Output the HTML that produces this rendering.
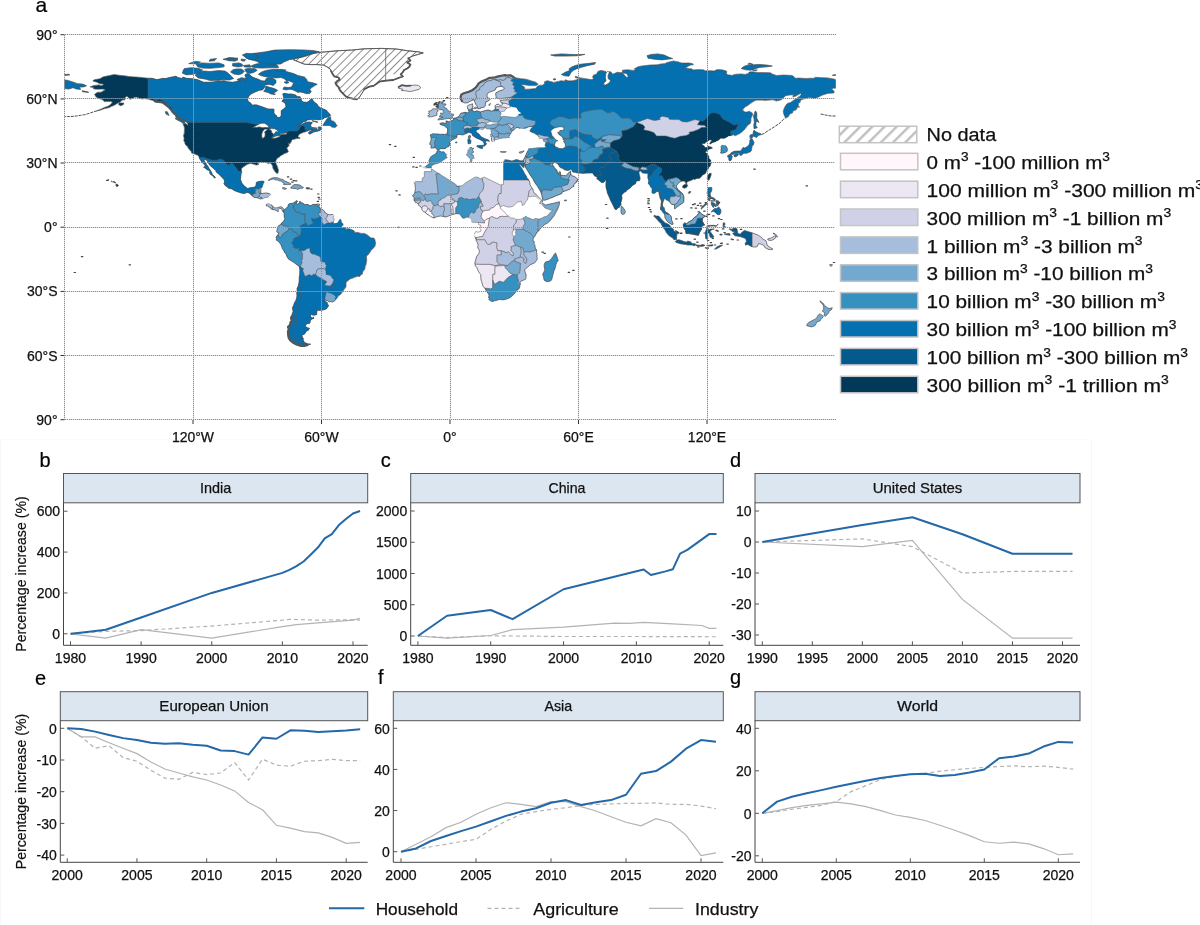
<!DOCTYPE html>
<html><head><meta charset="utf-8"><style>
html,body{margin:0;padding:0;background:#fff;}
svg{display:block;font-family:"Liberation Sans",sans-serif;will-change:transform;}
text{stroke-linejoin:round;}
.tl{font-size:14px;fill:#111;stroke:#111;stroke-width:0.25px;}
.st{font-size:15px;fill:#111;stroke:#111;stroke-width:0.25px;}
.yl{font-size:14.5px;fill:#111;stroke:#111;stroke-width:0.2px;}
.pl{font-size:20px;fill:#000;stroke:#000;stroke-width:0.2px;}
.pla{font-size:21px;fill:#000;stroke:#000;stroke-width:0.2px;}
.lg{font-size:17px;fill:#111;stroke:#111;stroke-width:0.25px;}
.lgm{font-size:18px;fill:#111;stroke:#111;stroke-width:0.25px;}
.sup{font-size:12px;}
</style></head><body>
<svg width="1200" height="925" viewBox="0 0 1200 925">
<path d="M0.5 440V925M1091.5 440V925" stroke="#f6f7fa" stroke-width="1" fill="none"/><path d="M0 439.5H1091" stroke="#fbfbfc" stroke-width="1" fill="none"/>
<path d="M60.5 34.7H64.5M60.5 98.9H64.5M60.5 163H64.5M60.5 227.2H64.5M60.5 291.4H64.5M60.5 355.5H64.5M60.5 419.7H64.5M193 420V424M321.5 420V424M450 420V424M578.5 420V424M707 420V424" stroke="#333" stroke-width="1"/>
<text x="57.5" y="39.7" class="tl" text-anchor="end">90°</text>
<text x="57.5" y="103.9" class="tl" text-anchor="end">60°N</text>
<text x="57.5" y="168" class="tl" text-anchor="end">30°N</text>
<text x="57.5" y="232.2" class="tl" text-anchor="end">0°</text>
<text x="57.5" y="296.4" class="tl" text-anchor="end">30°S</text>
<text x="57.5" y="360.5" class="tl" text-anchor="end">60°S</text>
<text x="57.5" y="424.7" class="tl" text-anchor="end">90°</text>
<text x="193" y="442" class="tl" text-anchor="middle">120°W</text>
<text x="321.5" y="442" class="tl" text-anchor="middle">60°W</text>
<text x="450" y="442" class="tl" text-anchor="middle">0°</text>
<text x="578.5" y="442" class="tl" text-anchor="middle">60°E</text>
<text x="707" y="442" class="tl" text-anchor="middle">120°E</text>
<text x="35.5" y="12" class="pla">a</text>
<defs><pattern id="hatch" patternUnits="userSpaceOnUse" width="5.6" height="5.6" patternTransform="rotate(45)"><rect width="5.6" height="5.6" fill="#fff"/><line x1="0.5" y1="0" x2="0.5" y2="5.6" stroke="#707070" stroke-width="0.8"/></pattern></defs>
<clipPath id="cNA"><path d="M90,86.9 94,85.4 98.8,85 102,85.8 103.5,84.1 99.4,83.7 97.5,82.4 92.8,81 94,79.8 99.8,78.8 103.3,76.8 109.5,75.5 114.2,74.5 119.1,75.3 124.5,75.8 128.7,76.4 132.4,76.8 139.5,77.3 148,78.2 152.3,78.3 156.6,79.6 159.8,79 163,78.3 165.2,78.6 170.5,77.3 175.9,76.2 178,77.5 182.3,78.5 182.9,77 186.6,78.3 190.9,78.5 197.3,79.6 203.7,82.2 210.1,82.2 214.4,81.7 218.7,80.7 220.8,81.1 224.1,80.7 227.3,81.7 232.6,82.2 239,81.1 243.3,81.7 245.5,80 246.1,78.1 244.8,74.9 247.6,73.2 250.2,74.9 251.9,76.8 254,77.7 258.3,79.2 261.5,80.7 264.7,81.1 266.9,77.9 271.2,78.1 274.4,79 275.9,80.5 275.9,82.8 273.3,85.4 269,84.3 264.7,85 264.7,87.1 262.6,89.9 259.4,90.3 255.7,91.8 251.9,93.5 249.8,95 248.7,96.5 247.6,99.3 248.3,101.4 250.8,103.1 251.9,105.1 256.2,104.8 261.5,106.6 268,108.9 274,109.1 274,112.8 274.4,114 276.5,115.5 277.4,117.5 280.2,117.3 281.2,115.3 281.2,110.6 284.4,108.5 285.9,106.6 285.5,104.4 284.4,102.5 281.9,101.4 283.6,98.9 283.6,97.1 282.7,93.9 284,93.3 288.3,93.9 291.5,93.9 295.8,95 296.9,96.5 300.1,96.7 301.2,98.9 301.6,101 303.7,102.1 306.5,102.3 308.6,101.4 310.8,99.3 311.9,98.2 312.9,100.6 315.1,102.7 317.2,104.2 318.3,106.3 320.4,107.8 323.6,109.1 326.9,110.6 327.3,111.7 329.6,113.8 330.7,115.5 327.9,117 324.7,117.7 322.6,119.2 318.3,119.8 314,119.6 310.8,119.6 307.6,120 305.4,121.5 303.3,122 301.2,124.1 299,126 297.5,127.1 299.7,125.8 301.8,124.5 303.9,123.2 306.5,122.2 309.7,122 312.3,122.6 311.6,124.1 310.1,124.7 311.2,126.2 311.4,127.7 312.9,128.4 315.1,129.2 317.4,129.4 319.4,130.1 321.5,128.8 321.9,129 319.4,130.7 316.1,131.6 313.8,132 311.9,133.1 309.7,134.2 308.2,132.9 309.7,131.4 311.9,130.3 312.9,130.1 310.8,129.7 308.6,130.5 306.5,131.4 303.3,132.4 301.2,133.3 299.7,133.9 298.6,135.2 298.4,136.1 297.9,136.7 299,137.6 300.1,137.8 300.1,138.2 298.8,138.4 296.9,138.6 294.7,139.1 292.4,139.7 291.5,140.4 291.3,142.1 290.2,143.1 289.6,144 288.3,142.7 289.2,145.3 288.1,146.8 287.4,147.6 286.6,148.1 287.4,149.1 287.9,150.6 288.3,151.9 286.2,153 284,153.6 283.2,154.7 281.7,154.9 280.4,156.2 278.7,157.5 277.2,158.3 275.9,160.5 275.7,162.6 276.5,164.7 277.4,166.5 278,168.8 278.4,169.9 278.2,172.4 277.8,173.3 276.7,173.5 275.9,172.2 275,171.8 274.2,170.3 273.1,168.6 272.7,167.3 272.7,166 271.6,164.5 270.7,163.2 269.5,163 268.4,163.7 266.9,162.8 264.7,162.2 262.6,162.4 261.5,161.7 260.5,162.2 258.3,162.4 258.1,163 258.7,164.7 257.9,164.5 256.8,165 256.2,165 254.5,164.5 253,163.9 250.8,163.5 249.1,163.7 247,164.5 245.5,165.6 243.3,166.9 241.6,168.6 241.4,170.3 241.8,171.8 241.2,173.7 240.8,175.9 240.5,179.5 241.2,181.2 241.8,183.1 243.3,184.8 244.2,186.1 246.1,187.2 247.6,188.5 249.8,187.8 251.9,187.4 254.5,187.2 255.7,185.9 256,184.8 256.4,182.3 258.3,181.6 260.5,181.2 262.6,181.2 263.7,181.2 264.1,182.1 263.2,183.6 262.6,185.5 262,187.4 261.1,187.6 260.9,189.8 260.9,192.5 260.2,193.4 262.6,193.4 265.8,193 268,193.2 270.1,194 271.8,195.1 271.4,197.3 271.2,198.3 271,200.5 270.7,202.6 271.2,204.1 272.2,205.8 273.3,206.7 274.8,207.9 275.5,207.9 277.6,207.7 278.7,207.3 280.8,206.7 281.9,207.1 283.4,208.6 284.4,209.7 283.2,211.8 282.5,211.2 282.1,209.9 281.4,208.8 279.7,208.2 278.4,209.4 277.8,210.1 278.7,211.2 277.6,211.6 276.5,210.7 275,209.9 273.3,209.7 272.2,209.4 270.7,208.8 271,207.9 268.6,206.7 267.5,206 266.5,206 266.2,204.5 266.2,203.7 264.7,202 263.7,200.5 262.4,199.4 262,198.8 260.5,199 258.3,198.3 256.2,197.5 254,197.3 252.5,196.2 250.8,194.5 249.1,193 247.6,192.5 246.5,192.5 245.5,193.2 243.3,193.6 241.2,193 239,192.3 236,191.3 233.7,190.2 232,188.9 229.8,188.5 228.3,188.1 226.6,186.6 225.1,185.5 223.8,183.6 224.5,182.3 224.5,180.6 223.6,179.1 222.1,177.6 220.8,176.1 219.1,174.6 217.6,173.1 216.1,172 215.7,170.3 214.4,169.4 213.3,168.2 212.3,167.5 210.6,166 209.7,165.2 208.6,163.5 208,162 206.7,160.2 204.1,159.2 204.3,160.9 204.8,162 205.8,163 206.9,165.2 208,166.2 209.1,168.4 210.1,169.9 211.2,171.6 211.8,173.3 212.7,174.8 213.8,175.7 215.5,177.6 214.6,178.2 213.6,176.9 212.3,175.4 210.6,174.6 209.7,173.1 209.9,171.6 208.4,170.3 207.3,169.9 205.4,168.4 204.8,167.7 203.5,167.3 205.2,166 204.6,164.7 203.1,163.5 202,162.4 201.1,160.9 200.1,159.6 199.2,157.7 198.8,156.2 197.7,155.3 196.4,154.9 196.2,154.5 194.7,154 193.4,153.6 191.7,153.2 191.5,151.9 190.2,150.6 188.9,148.9 187.9,147.6 187.6,146.3 186.6,145.9 185.1,144 184.9,142.7 183.8,140.8 184.2,138.4 183.6,136.3 183.4,135.7 184.2,133.7 184.4,130.9 184.4,128.4 184.2,126.7 182.9,123.7 184.9,124.1 186.6,124.1 187.6,125.6 187.9,123.9 187,122.4 185.5,121.3 184.4,120.7 182.7,119.6 181.2,119.2 179.1,118.1 176.5,117 176.1,115.3 174.8,114.3 172.6,112.1 171.2,110 170.5,108.9 169,107.6 167.5,106.3 166.2,105.3 164.1,104 162.4,102.5 160.4,101.6 158.7,102.1 157,102.3 154.9,101.4 152.7,100.4 150.8,99.9 149.1,99.3 146.9,98.9 144.8,98.6 141.8,98.9 139.5,98.2 136.2,97.1 134.1,97.4 133,98.2 130.9,98.9 129.8,99.3 128.1,96.9 126.6,96.5 124.9,97.4 125.5,98.4 124.9,99.7 122.3,100.1 121.2,101 120.2,102.1 118,103.1 115.9,104.2 113.8,105.5 111.6,106.3 109.5,107.4 106.3,108.3 104.1,108.7 102,109.6 99.8,110.2 97,110.8 99.8,109.6 102,108.7 104.1,107.6 107.3,106.6 109.5,105.3 111,104 112.5,102.1 110.5,101.4 107.3,101.6 104.1,101.6 103,99.9 100.9,99.1 98.8,98.4 96.2,97.1 95.5,95.9 94.5,95 95.5,93.5 97.7,92.2 100.9,92.2 102.4,91.4 105.2,89.7 104.1,89.2 102,89 99.2,89.2 96.6,89.2 93.4,88.8 93.8,87.7 90,86.9Z"/></clipPath>
<g clip-path="url(#cNA)">
<path d="M90,86.9 94,85.4 98.8,85 102,85.8 103.5,84.1 99.4,83.7 97.5,82.4 92.8,81 94,79.8 99.8,78.8 103.3,76.8 109.5,75.5 114.2,74.5 119.1,75.3 124.5,75.8 128.7,76.4 132.4,76.8 139.5,77.3 148,78.2 152.3,78.3 156.6,79.6 159.8,79 163,78.3 165.2,78.6 170.5,77.3 175.9,76.2 178,77.5 182.3,78.5 182.9,77 186.6,78.3 190.9,78.5 197.3,79.6 203.7,82.2 210.1,82.2 214.4,81.7 218.7,80.7 220.8,81.1 224.1,80.7 227.3,81.7 232.6,82.2 239,81.1 243.3,81.7 245.5,80 246.1,78.1 244.8,74.9 247.6,73.2 250.2,74.9 251.9,76.8 254,77.7 258.3,79.2 261.5,80.7 264.7,81.1 266.9,77.9 271.2,78.1 274.4,79 275.9,80.5 275.9,82.8 273.3,85.4 269,84.3 264.7,85 264.7,87.1 262.6,89.9 259.4,90.3 255.7,91.8 251.9,93.5 249.8,95 248.7,96.5 247.6,99.3 248.3,101.4 250.8,103.1 251.9,105.1 256.2,104.8 261.5,106.6 268,108.9 274,109.1 274,112.8 274.4,114 276.5,115.5 277.4,117.5 280.2,117.3 281.2,115.3 281.2,110.6 284.4,108.5 285.9,106.6 285.5,104.4 284.4,102.5 281.9,101.4 283.6,98.9 283.6,97.1 282.7,93.9 284,93.3 288.3,93.9 291.5,93.9 295.8,95 296.9,96.5 300.1,96.7 301.2,98.9 301.6,101 303.7,102.1 306.5,102.3 308.6,101.4 310.8,99.3 311.9,98.2 312.9,100.6 315.1,102.7 317.2,104.2 318.3,106.3 320.4,107.8 323.6,109.1 326.9,110.6 327.3,111.7 329.6,113.8 330.7,115.5 327.9,117 324.7,117.7 322.6,119.2 318.3,119.8 314,119.6 310.8,119.6 307.6,120 305.4,121.5 303.3,122 301.2,124.1 299,126 297.5,127.1 299.7,125.8 301.8,124.5 303.9,123.2 306.5,122.2 309.7,122 312.3,122.6 311.6,124.1 310.1,124.7 311.2,126.2 311.4,127.7 312.9,128.4 315.1,129.2 317.4,129.4 319.4,130.1 321.5,128.8 321.9,129 319.4,130.7 316.1,131.6 313.8,132 311.9,133.1 309.7,134.2 308.2,132.9 309.7,131.4 311.9,130.3 312.9,130.1 310.8,129.7 308.6,130.5 306.5,131.4 303.3,132.4 301.2,133.3 299.7,133.9 298.6,135.2 298.4,136.1 297.9,136.7 299,137.6 300.1,137.8 300.1,138.2 298.8,138.4 296.9,138.6 294.7,139.1 292.4,139.7 291.5,140.4 291.3,142.1 290.2,143.1 289.6,144 288.3,142.7 289.2,145.3 288.1,146.8 287.4,147.6 286.6,148.1 287.4,149.1 287.9,150.6 288.3,151.9 286.2,153 284,153.6 283.2,154.7 281.7,154.9 280.4,156.2 278.7,157.5 277.2,158.3 275.9,160.5 275.7,162.6 276.5,164.7 277.4,166.5 278,168.8 278.4,169.9 278.2,172.4 277.8,173.3 276.7,173.5 275.9,172.2 275,171.8 274.2,170.3 273.1,168.6 272.7,167.3 272.7,166 271.6,164.5 270.7,163.2 269.5,163 268.4,163.7 266.9,162.8 264.7,162.2 262.6,162.4 261.5,161.7 260.5,162.2 258.3,162.4 258.1,163 258.7,164.7 257.9,164.5 256.8,165 256.2,165 254.5,164.5 253,163.9 250.8,163.5 249.1,163.7 247,164.5 245.5,165.6 243.3,166.9 241.6,168.6 241.4,170.3 241.8,171.8 241.2,173.7 240.8,175.9 240.5,179.5 241.2,181.2 241.8,183.1 243.3,184.8 244.2,186.1 246.1,187.2 247.6,188.5 249.8,187.8 251.9,187.4 254.5,187.2 255.7,185.9 256,184.8 256.4,182.3 258.3,181.6 260.5,181.2 262.6,181.2 263.7,181.2 264.1,182.1 263.2,183.6 262.6,185.5 262,187.4 261.1,187.6 260.9,189.8 260.9,192.5 260.2,193.4 262.6,193.4 265.8,193 268,193.2 270.1,194 271.8,195.1 271.4,197.3 271.2,198.3 271,200.5 270.7,202.6 271.2,204.1 272.2,205.8 273.3,206.7 274.8,207.9 275.5,207.9 277.6,207.7 278.7,207.3 280.8,206.7 281.9,207.1 283.4,208.6 284.4,209.7 283.2,211.8 282.5,211.2 282.1,209.9 281.4,208.8 279.7,208.2 278.4,209.4 277.8,210.1 278.7,211.2 277.6,211.6 276.5,210.7 275,209.9 273.3,209.7 272.2,209.4 270.7,208.8 271,207.9 268.6,206.7 267.5,206 266.5,206 266.2,204.5 266.2,203.7 264.7,202 263.7,200.5 262.4,199.4 262,198.8 260.5,199 258.3,198.3 256.2,197.5 254,197.3 252.5,196.2 250.8,194.5 249.1,193 247.6,192.5 246.5,192.5 245.5,193.2 243.3,193.6 241.2,193 239,192.3 236,191.3 233.7,190.2 232,188.9 229.8,188.5 228.3,188.1 226.6,186.6 225.1,185.5 223.8,183.6 224.5,182.3 224.5,180.6 223.6,179.1 222.1,177.6 220.8,176.1 219.1,174.6 217.6,173.1 216.1,172 215.7,170.3 214.4,169.4 213.3,168.2 212.3,167.5 210.6,166 209.7,165.2 208.6,163.5 208,162 206.7,160.2 204.1,159.2 204.3,160.9 204.8,162 205.8,163 206.9,165.2 208,166.2 209.1,168.4 210.1,169.9 211.2,171.6 211.8,173.3 212.7,174.8 213.8,175.7 215.5,177.6 214.6,178.2 213.6,176.9 212.3,175.4 210.6,174.6 209.7,173.1 209.9,171.6 208.4,170.3 207.3,169.9 205.4,168.4 204.8,167.7 203.5,167.3 205.2,166 204.6,164.7 203.1,163.5 202,162.4 201.1,160.9 200.1,159.6 199.2,157.7 198.8,156.2 197.7,155.3 196.4,154.9 196.2,154.5 194.7,154 193.4,153.6 191.7,153.2 191.5,151.9 190.2,150.6 188.9,148.9 187.9,147.6 187.6,146.3 186.6,145.9 185.1,144 184.9,142.7 183.8,140.8 184.2,138.4 183.6,136.3 183.4,135.7 184.2,133.7 184.4,130.9 184.4,128.4 184.2,126.7 182.9,123.7 184.9,124.1 186.6,124.1 187.6,125.6 187.9,123.9 187,122.4 185.5,121.3 184.4,120.7 182.7,119.6 181.2,119.2 179.1,118.1 176.5,117 176.1,115.3 174.8,114.3 172.6,112.1 171.2,110 170.5,108.9 169,107.6 167.5,106.3 166.2,105.3 164.1,104 162.4,102.5 160.4,101.6 158.7,102.1 157,102.3 154.9,101.4 152.7,100.4 150.8,99.9 149.1,99.3 146.9,98.9 144.8,98.6 141.8,98.9 139.5,98.2 136.2,97.1 134.1,97.4 133,98.2 130.9,98.9 129.8,99.3 128.1,96.9 126.6,96.5 124.9,97.4 125.5,98.4 124.9,99.7 122.3,100.1 121.2,101 120.2,102.1 118,103.1 115.9,104.2 113.8,105.5 111.6,106.3 109.5,107.4 106.3,108.3 104.1,108.7 102,109.6 99.8,110.2 97,110.8 99.8,109.6 102,108.7 104.1,107.6 107.3,106.6 109.5,105.3 111,104 112.5,102.1 110.5,101.4 107.3,101.6 104.1,101.6 103,99.9 100.9,99.1 98.8,98.4 96.2,97.1 95.5,95.9 94.5,95 95.5,93.5 97.7,92.2 100.9,92.2 102.4,91.4 105.2,89.7 104.1,89.2 102,89 99.2,89.2 96.6,89.2 93.4,88.8 93.8,87.7 90,86.9Z" fill="#023858"/>
<path d="M272,195.1 269,195.5 268,197.3 265.8,197.5 264.1,197.9 263,199.6 262.2,200.5 266.5,203.5 268.6,203.7 270.7,203.9 272.7,202.6 273.3,196.2Z" fill="#fff" stroke="#fff" stroke-width="1.2"/>
<path d="M148,66.8 148,98.2 152.1,98.2 155.5,100.6 159.8,99.3 161.9,100.6 164.3,102.3 167.7,106.1 171.4,107.2 171.6,108.9 170.3,110.2 165.2,111.7 175.9,122.4 185.9,123.9 186.6,122.4 246.1,122.4 246.1,121.5 247.4,123 250.8,123.2 255.1,124.3 258.1,124.5 260.7,123.9 268,126.7 268.8,127.7 270.3,128.6 273.3,130.3 273.5,135.2 272,136.7 272.9,138 276.5,136.9 280.6,135.7 280.8,134.6 280.8,133.9 286.6,132.7 289.4,130.9 290,130.9 296.9,130.9 297.7,130.3 298.4,130.1 299.4,129 300.1,127.3 301.8,125.7 303.7,125.9 304.8,126.5 304.8,129.4 305.6,129.7 306.5,131.4 308.6,135.2 342.9,135.2 342.9,66.8Z" fill="#0570b0" stroke="#5a5a5a" stroke-width="0.5"/>
<path d="M197.3,156.6 199.2,157.7 204.3,157.3 204.1,157.7 212.3,160.2 218.3,160.2 218.3,159.2 221.9,159.2 225.1,161.5 226.2,163.9 229,165.2 230.7,163.5 232.8,163.5 235.2,166.7 236.9,168.4 237.8,170.7 241.8,171.8 244.4,171.6 261.5,180.1 264.7,181.2 262.6,187.6 260.9,187.6 259.6,188.9 259.1,189.1 255.1,189.1 255.1,190.3 256.4,190.3 254.2,192.8 256.4,192.8 252.5,194.5 252.5,196.2 250.8,199.4 193,184.4Z" fill="#0570b0" stroke="#5a5a5a" stroke-width="0.5"/>
<path d="M252.5,196.2 252.5,194.5 256.4,192.8 254.2,192.8 256.4,190.3 255.1,190.3 255.1,189.1 259.1,189.1 259.1,193.2 261.1,193.6 259,196 258.1,196.8 257,197.9 254,198.3Z" fill="#74a9cf" stroke="#5a5a5a" stroke-width="0.5"/>
<path d="M259.1,189.1 260.9,187.6 262,188.7 261.1,193 259.1,193.2Z" fill="#a6bddb" stroke="#5a5a5a" stroke-width="0.5"/>
<path d="M257,197.9 258.1,196.8 259,196.4 260.5,197.3 262.2,197.7 262,199.4 259.4,199.4Z" fill="#a6bddb" stroke="#5a5a5a" stroke-width="0.5"/>
<path d="M259,196 261.1,193.6 263.7,191.9 268,191.9 272,195.1 269,195.5 268,197.3 265.8,197.5 264.1,197.9 263,199.6 262,199.4 262.2,197.7 260.5,197.3 259,196.4Z" fill="#a6bddb" stroke="#5a5a5a" stroke-width="0.5"/>
<path d="M266.5,203.5 268.6,203.7 270.7,203.9 271,204.7 273.1,206.7 272.5,209.2 272.5,210.1 265.8,207.9Z" fill="#a6bddb" stroke="#5a5a5a" stroke-width="0.5"/>
<path d="M272.5,210.1 272.5,209.2 273.1,206.7 280.8,205.8 284.4,209.7 283.2,211.8 278.7,214.4Z" fill="#a6bddb" stroke="#5a5a5a" stroke-width="0.5"/>
</g>
<mask id="mNA" maskUnits="userSpaceOnUse" x="0" y="0" width="1200" height="500"><rect width="1200" height="500" fill="#fff"/><path d="M272,195.1 269,195.5 268,197.3 265.8,197.5 264.1,197.9 263,199.6 262.2,200.5 266.5,203.5 268.6,203.7 270.7,203.9 272.7,202.6 273.3,196.2Z" fill="#000" stroke="#000" stroke-width="2.5"/></mask>
<path d="M90,86.9 94,85.4 98.8,85 102,85.8 103.5,84.1 99.4,83.7 97.5,82.4 92.8,81 94,79.8 99.8,78.8 103.3,76.8 109.5,75.5 114.2,74.5 119.1,75.3 124.5,75.8 128.7,76.4 132.4,76.8 139.5,77.3 148,78.2 152.3,78.3 156.6,79.6 159.8,79 163,78.3 165.2,78.6 170.5,77.3 175.9,76.2 178,77.5 182.3,78.5 182.9,77 186.6,78.3 190.9,78.5 197.3,79.6 203.7,82.2 210.1,82.2 214.4,81.7 218.7,80.7 220.8,81.1 224.1,80.7 227.3,81.7 232.6,82.2 239,81.1 243.3,81.7 245.5,80 246.1,78.1 244.8,74.9 247.6,73.2 250.2,74.9 251.9,76.8 254,77.7 258.3,79.2 261.5,80.7 264.7,81.1 266.9,77.9 271.2,78.1 274.4,79 275.9,80.5 275.9,82.8 273.3,85.4 269,84.3 264.7,85 264.7,87.1 262.6,89.9 259.4,90.3 255.7,91.8 251.9,93.5 249.8,95 248.7,96.5 247.6,99.3 248.3,101.4 250.8,103.1 251.9,105.1 256.2,104.8 261.5,106.6 268,108.9 274,109.1 274,112.8 274.4,114 276.5,115.5 277.4,117.5 280.2,117.3 281.2,115.3 281.2,110.6 284.4,108.5 285.9,106.6 285.5,104.4 284.4,102.5 281.9,101.4 283.6,98.9 283.6,97.1 282.7,93.9 284,93.3 288.3,93.9 291.5,93.9 295.8,95 296.9,96.5 300.1,96.7 301.2,98.9 301.6,101 303.7,102.1 306.5,102.3 308.6,101.4 310.8,99.3 311.9,98.2 312.9,100.6 315.1,102.7 317.2,104.2 318.3,106.3 320.4,107.8 323.6,109.1 326.9,110.6 327.3,111.7 329.6,113.8 330.7,115.5 327.9,117 324.7,117.7 322.6,119.2 318.3,119.8 314,119.6 310.8,119.6 307.6,120 305.4,121.5 303.3,122 301.2,124.1 299,126 297.5,127.1 299.7,125.8 301.8,124.5 303.9,123.2 306.5,122.2 309.7,122 312.3,122.6 311.6,124.1 310.1,124.7 311.2,126.2 311.4,127.7 312.9,128.4 315.1,129.2 317.4,129.4 319.4,130.1 321.5,128.8 321.9,129 319.4,130.7 316.1,131.6 313.8,132 311.9,133.1 309.7,134.2 308.2,132.9 309.7,131.4 311.9,130.3 312.9,130.1 310.8,129.7 308.6,130.5 306.5,131.4 303.3,132.4 301.2,133.3 299.7,133.9 298.6,135.2 298.4,136.1 297.9,136.7 299,137.6 300.1,137.8 300.1,138.2 298.8,138.4 296.9,138.6 294.7,139.1 292.4,139.7 291.5,140.4 291.3,142.1 290.2,143.1 289.6,144 288.3,142.7 289.2,145.3 288.1,146.8 287.4,147.6 286.6,148.1 287.4,149.1 287.9,150.6 288.3,151.9 286.2,153 284,153.6 283.2,154.7 281.7,154.9 280.4,156.2 278.7,157.5 277.2,158.3 275.9,160.5 275.7,162.6 276.5,164.7 277.4,166.5 278,168.8 278.4,169.9 278.2,172.4 277.8,173.3 276.7,173.5 275.9,172.2 275,171.8 274.2,170.3 273.1,168.6 272.7,167.3 272.7,166 271.6,164.5 270.7,163.2 269.5,163 268.4,163.7 266.9,162.8 264.7,162.2 262.6,162.4 261.5,161.7 260.5,162.2 258.3,162.4 258.1,163 258.7,164.7 257.9,164.5 256.8,165 256.2,165 254.5,164.5 253,163.9 250.8,163.5 249.1,163.7 247,164.5 245.5,165.6 243.3,166.9 241.6,168.6 241.4,170.3 241.8,171.8 241.2,173.7 240.8,175.9 240.5,179.5 241.2,181.2 241.8,183.1 243.3,184.8 244.2,186.1 246.1,187.2 247.6,188.5 249.8,187.8 251.9,187.4 254.5,187.2 255.7,185.9 256,184.8 256.4,182.3 258.3,181.6 260.5,181.2 262.6,181.2 263.7,181.2 264.1,182.1 263.2,183.6 262.6,185.5 262,187.4 261.1,187.6 260.9,189.8 260.9,192.5 260.2,193.4 262.6,193.4 265.8,193 268,193.2 270.1,194 271.8,195.1 271.4,197.3 271.2,198.3 271,200.5 270.7,202.6 271.2,204.1 272.2,205.8 273.3,206.7 274.8,207.9 275.5,207.9 277.6,207.7 278.7,207.3 280.8,206.7 281.9,207.1 283.4,208.6 284.4,209.7 283.2,211.8 282.5,211.2 282.1,209.9 281.4,208.8 279.7,208.2 278.4,209.4 277.8,210.1 278.7,211.2 277.6,211.6 276.5,210.7 275,209.9 273.3,209.7 272.2,209.4 270.7,208.8 271,207.9 268.6,206.7 267.5,206 266.5,206 266.2,204.5 266.2,203.7 264.7,202 263.7,200.5 262.4,199.4 262,198.8 260.5,199 258.3,198.3 256.2,197.5 254,197.3 252.5,196.2 250.8,194.5 249.1,193 247.6,192.5 246.5,192.5 245.5,193.2 243.3,193.6 241.2,193 239,192.3 236,191.3 233.7,190.2 232,188.9 229.8,188.5 228.3,188.1 226.6,186.6 225.1,185.5 223.8,183.6 224.5,182.3 224.5,180.6 223.6,179.1 222.1,177.6 220.8,176.1 219.1,174.6 217.6,173.1 216.1,172 215.7,170.3 214.4,169.4 213.3,168.2 212.3,167.5 210.6,166 209.7,165.2 208.6,163.5 208,162 206.7,160.2 204.1,159.2 204.3,160.9 204.8,162 205.8,163 206.9,165.2 208,166.2 209.1,168.4 210.1,169.9 211.2,171.6 211.8,173.3 212.7,174.8 213.8,175.7 215.5,177.6 214.6,178.2 213.6,176.9 212.3,175.4 210.6,174.6 209.7,173.1 209.9,171.6 208.4,170.3 207.3,169.9 205.4,168.4 204.8,167.7 203.5,167.3 205.2,166 204.6,164.7 203.1,163.5 202,162.4 201.1,160.9 200.1,159.6 199.2,157.7 198.8,156.2 197.7,155.3 196.4,154.9 196.2,154.5 194.7,154 193.4,153.6 191.7,153.2 191.5,151.9 190.2,150.6 188.9,148.9 187.9,147.6 187.6,146.3 186.6,145.9 185.1,144 184.9,142.7 183.8,140.8 184.2,138.4 183.6,136.3 183.4,135.7 184.2,133.7 184.4,130.9 184.4,128.4 184.2,126.7 182.9,123.7 184.9,124.1 186.6,124.1 187.6,125.6 187.9,123.9 187,122.4 185.5,121.3 184.4,120.7 182.7,119.6 181.2,119.2 179.1,118.1 176.5,117 176.1,115.3 174.8,114.3 172.6,112.1 171.2,110 170.5,108.9 169,107.6 167.5,106.3 166.2,105.3 164.1,104 162.4,102.5 160.4,101.6 158.7,102.1 157,102.3 154.9,101.4 152.7,100.4 150.8,99.9 149.1,99.3 146.9,98.9 144.8,98.6 141.8,98.9 139.5,98.2 136.2,97.1 134.1,97.4 133,98.2 130.9,98.9 129.8,99.3 128.1,96.9 126.6,96.5 124.9,97.4 125.5,98.4 124.9,99.7 122.3,100.1 121.2,101 120.2,102.1 118,103.1 115.9,104.2 113.8,105.5 111.6,106.3 109.5,107.4 106.3,108.3 104.1,108.7 102,109.6 99.8,110.2 97,110.8 99.8,109.6 102,108.7 104.1,107.6 107.3,106.6 109.5,105.3 111,104 112.5,102.1 110.5,101.4 107.3,101.6 104.1,101.6 103,99.9 100.9,99.1 98.8,98.4 96.2,97.1 95.5,95.9 94.5,95 95.5,93.5 97.7,92.2 100.9,92.2 102.4,91.4 105.2,89.7 104.1,89.2 102,89 99.2,89.2 96.6,89.2 93.4,88.8 93.8,87.7 90,86.9Z" fill="none" stroke="#4a4a4a" stroke-width="0.7" stroke-linejoin="round" mask="url(#mNA)"/>
<mask id="miNA" maskUnits="userSpaceOnUse" x="0" y="0" width="1200" height="500"><path d="M272,195.1 269,195.5 268,197.3 265.8,197.5 264.1,197.9 263,199.6 262.2,200.5 266.5,203.5 268.6,203.7 270.7,203.9 272.7,202.6 273.3,196.2Z" fill="#fff" stroke="#fff" stroke-width="1"/></mask>
<path d="M90,86.9 94,85.4 98.8,85 102,85.8 103.5,84.1 99.4,83.7 97.5,82.4 92.8,81 94,79.8 99.8,78.8 103.3,76.8 109.5,75.5 114.2,74.5 119.1,75.3 124.5,75.8 128.7,76.4 132.4,76.8 139.5,77.3 148,78.2 152.3,78.3 156.6,79.6 159.8,79 163,78.3 165.2,78.6 170.5,77.3 175.9,76.2 178,77.5 182.3,78.5 182.9,77 186.6,78.3 190.9,78.5 197.3,79.6 203.7,82.2 210.1,82.2 214.4,81.7 218.7,80.7 220.8,81.1 224.1,80.7 227.3,81.7 232.6,82.2 239,81.1 243.3,81.7 245.5,80 246.1,78.1 244.8,74.9 247.6,73.2 250.2,74.9 251.9,76.8 254,77.7 258.3,79.2 261.5,80.7 264.7,81.1 266.9,77.9 271.2,78.1 274.4,79 275.9,80.5 275.9,82.8 273.3,85.4 269,84.3 264.7,85 264.7,87.1 262.6,89.9 259.4,90.3 255.7,91.8 251.9,93.5 249.8,95 248.7,96.5 247.6,99.3 248.3,101.4 250.8,103.1 251.9,105.1 256.2,104.8 261.5,106.6 268,108.9 274,109.1 274,112.8 274.4,114 276.5,115.5 277.4,117.5 280.2,117.3 281.2,115.3 281.2,110.6 284.4,108.5 285.9,106.6 285.5,104.4 284.4,102.5 281.9,101.4 283.6,98.9 283.6,97.1 282.7,93.9 284,93.3 288.3,93.9 291.5,93.9 295.8,95 296.9,96.5 300.1,96.7 301.2,98.9 301.6,101 303.7,102.1 306.5,102.3 308.6,101.4 310.8,99.3 311.9,98.2 312.9,100.6 315.1,102.7 317.2,104.2 318.3,106.3 320.4,107.8 323.6,109.1 326.9,110.6 327.3,111.7 329.6,113.8 330.7,115.5 327.9,117 324.7,117.7 322.6,119.2 318.3,119.8 314,119.6 310.8,119.6 307.6,120 305.4,121.5 303.3,122 301.2,124.1 299,126 297.5,127.1 299.7,125.8 301.8,124.5 303.9,123.2 306.5,122.2 309.7,122 312.3,122.6 311.6,124.1 310.1,124.7 311.2,126.2 311.4,127.7 312.9,128.4 315.1,129.2 317.4,129.4 319.4,130.1 321.5,128.8 321.9,129 319.4,130.7 316.1,131.6 313.8,132 311.9,133.1 309.7,134.2 308.2,132.9 309.7,131.4 311.9,130.3 312.9,130.1 310.8,129.7 308.6,130.5 306.5,131.4 303.3,132.4 301.2,133.3 299.7,133.9 298.6,135.2 298.4,136.1 297.9,136.7 299,137.6 300.1,137.8 300.1,138.2 298.8,138.4 296.9,138.6 294.7,139.1 292.4,139.7 291.5,140.4 291.3,142.1 290.2,143.1 289.6,144 288.3,142.7 289.2,145.3 288.1,146.8 287.4,147.6 286.6,148.1 287.4,149.1 287.9,150.6 288.3,151.9 286.2,153 284,153.6 283.2,154.7 281.7,154.9 280.4,156.2 278.7,157.5 277.2,158.3 275.9,160.5 275.7,162.6 276.5,164.7 277.4,166.5 278,168.8 278.4,169.9 278.2,172.4 277.8,173.3 276.7,173.5 275.9,172.2 275,171.8 274.2,170.3 273.1,168.6 272.7,167.3 272.7,166 271.6,164.5 270.7,163.2 269.5,163 268.4,163.7 266.9,162.8 264.7,162.2 262.6,162.4 261.5,161.7 260.5,162.2 258.3,162.4 258.1,163 258.7,164.7 257.9,164.5 256.8,165 256.2,165 254.5,164.5 253,163.9 250.8,163.5 249.1,163.7 247,164.5 245.5,165.6 243.3,166.9 241.6,168.6 241.4,170.3 241.8,171.8 241.2,173.7 240.8,175.9 240.5,179.5 241.2,181.2 241.8,183.1 243.3,184.8 244.2,186.1 246.1,187.2 247.6,188.5 249.8,187.8 251.9,187.4 254.5,187.2 255.7,185.9 256,184.8 256.4,182.3 258.3,181.6 260.5,181.2 262.6,181.2 263.7,181.2 264.1,182.1 263.2,183.6 262.6,185.5 262,187.4 261.1,187.6 260.9,189.8 260.9,192.5 260.2,193.4 262.6,193.4 265.8,193 268,193.2 270.1,194 271.8,195.1 271.4,197.3 271.2,198.3 271,200.5 270.7,202.6 271.2,204.1 272.2,205.8 273.3,206.7 274.8,207.9 275.5,207.9 277.6,207.7 278.7,207.3 280.8,206.7 281.9,207.1 283.4,208.6 284.4,209.7 283.2,211.8 282.5,211.2 282.1,209.9 281.4,208.8 279.7,208.2 278.4,209.4 277.8,210.1 278.7,211.2 277.6,211.6 276.5,210.7 275,209.9 273.3,209.7 272.2,209.4 270.7,208.8 271,207.9 268.6,206.7 267.5,206 266.5,206 266.2,204.5 266.2,203.7 264.7,202 263.7,200.5 262.4,199.4 262,198.8 260.5,199 258.3,198.3 256.2,197.5 254,197.3 252.5,196.2 250.8,194.5 249.1,193 247.6,192.5 246.5,192.5 245.5,193.2 243.3,193.6 241.2,193 239,192.3 236,191.3 233.7,190.2 232,188.9 229.8,188.5 228.3,188.1 226.6,186.6 225.1,185.5 223.8,183.6 224.5,182.3 224.5,180.6 223.6,179.1 222.1,177.6 220.8,176.1 219.1,174.6 217.6,173.1 216.1,172 215.7,170.3 214.4,169.4 213.3,168.2 212.3,167.5 210.6,166 209.7,165.2 208.6,163.5 208,162 206.7,160.2 204.1,159.2 204.3,160.9 204.8,162 205.8,163 206.9,165.2 208,166.2 209.1,168.4 210.1,169.9 211.2,171.6 211.8,173.3 212.7,174.8 213.8,175.7 215.5,177.6 214.6,178.2 213.6,176.9 212.3,175.4 210.6,174.6 209.7,173.1 209.9,171.6 208.4,170.3 207.3,169.9 205.4,168.4 204.8,167.7 203.5,167.3 205.2,166 204.6,164.7 203.1,163.5 202,162.4 201.1,160.9 200.1,159.6 199.2,157.7 198.8,156.2 197.7,155.3 196.4,154.9 196.2,154.5 194.7,154 193.4,153.6 191.7,153.2 191.5,151.9 190.2,150.6 188.9,148.9 187.9,147.6 187.6,146.3 186.6,145.9 185.1,144 184.9,142.7 183.8,140.8 184.2,138.4 183.6,136.3 183.4,135.7 184.2,133.7 184.4,130.9 184.4,128.4 184.2,126.7 182.9,123.7 184.9,124.1 186.6,124.1 187.6,125.6 187.9,123.9 187,122.4 185.5,121.3 184.4,120.7 182.7,119.6 181.2,119.2 179.1,118.1 176.5,117 176.1,115.3 174.8,114.3 172.6,112.1 171.2,110 170.5,108.9 169,107.6 167.5,106.3 166.2,105.3 164.1,104 162.4,102.5 160.4,101.6 158.7,102.1 157,102.3 154.9,101.4 152.7,100.4 150.8,99.9 149.1,99.3 146.9,98.9 144.8,98.6 141.8,98.9 139.5,98.2 136.2,97.1 134.1,97.4 133,98.2 130.9,98.9 129.8,99.3 128.1,96.9 126.6,96.5 124.9,97.4 125.5,98.4 124.9,99.7 122.3,100.1 121.2,101 120.2,102.1 118,103.1 115.9,104.2 113.8,105.5 111.6,106.3 109.5,107.4 106.3,108.3 104.1,108.7 102,109.6 99.8,110.2 97,110.8 99.8,109.6 102,108.7 104.1,107.6 107.3,106.6 109.5,105.3 111,104 112.5,102.1 110.5,101.4 107.3,101.6 104.1,101.6 103,99.9 100.9,99.1 98.8,98.4 96.2,97.1 95.5,95.9 94.5,95 95.5,93.5 97.7,92.2 100.9,92.2 102.4,91.4 105.2,89.7 104.1,89.2 102,89 99.2,89.2 96.6,89.2 93.4,88.8 93.8,87.7 90,86.9Z" fill="none" stroke="#fff" stroke-width="2.5" mask="url(#miNA)"/>
<clipPath id="cSA"><path d="M284.4,209.7 285.5,208.8 287,207.3 287.9,207.1 288.3,204.5 289.6,203.5 290.9,203.5 292.8,203.2 294.5,202.2 295.4,201.5 296.2,200.7 297.1,200.7 297.7,201.3 297.3,202 296,202.8 296.7,204.1 297.9,203.9 299.7,202.8 299.4,202 300.1,201.1 300.3,202.6 302.4,202.8 303.9,203.9 303.9,204.5 308.2,204.5 309.3,205.4 311,205.6 312.3,205 312.3,204.5 317.4,204.3 315.7,205 316.4,206 318.1,206 319.8,207.1 320,208.8 321.1,208.8 321.9,209.2 323.4,210.1 324.7,211.6 324.7,212.7 325.6,212.7 327.7,214.4 330.3,214.8 332.2,214.4 334.3,214.8 335.2,215.2 336.7,215.6 339.1,217.4 339.3,218.2 340.1,218.2 340.6,219.3 341.8,223.1 342.9,223.6 343.1,225.1 341.4,226.8 342.1,227.4 345.9,227.6 345.9,229.8 347.6,228.5 350.2,229.1 353.8,230.6 354.9,231.7 354.5,233 357.1,232.3 361.1,233.4 364.3,233.4 367.5,235.1 370.3,237.5 371.8,238.1 373.8,238.1 374.6,239 375.3,241.5 375.7,242.8 374.8,246.5 373.8,247.7 370.8,250.7 369.3,253.3 367.8,255 367.1,255.2 366.5,256.7 366.7,260.8 366,264 365.8,265.5 365.2,266.3 364.8,269.1 362.6,271.9 362.4,274 360.5,275.1 360,276.4 357.7,276.3 354.5,277.3 352.8,278.1 350.4,278.7 348.1,280.5 346.1,282.6 345.9,284.1 346.1,285.4 345.7,287.5 343.8,289.7 341.4,293.5 339.5,295.2 338,296.1 337.1,298.2 335.6,299.5 334.8,300.8 332.4,302.1 330.7,301.6 329.6,301.9 327.7,300.8 324.9,299.9 324.7,301 327.5,302.7 327.1,304 328.6,305.1 328.4,306.1 326.4,308.9 323.2,310 318.9,310.4 316.6,310.2 317,311.5 316.6,313.2 317,314.3 315.7,314.9 313.4,315.3 311.4,314.5 310.6,315.1 310.8,317.3 312.3,317.9 313.4,317 314,318.3 312.1,319 310.4,320.2 310.1,322.4 309.5,323.5 307.6,323.5 305.9,324.7 305.2,326.2 307.4,327.7 309.5,328.2 308.6,330.1 306.1,331.4 304.8,333.9 302.9,334.8 302,335.6 302.7,338 303.9,339.1 301.2,339.1 303.1,339.7 303.7,341.2 305,342.7 307.6,343.8 310.8,344.2 307.6,344.8 304.4,345.9 301.2,345.9 297.9,344.8 295.2,343.8 293,342.5 290.2,340.1 288.7,337.6 288.3,335 288.1,331.4 288.9,329.2 288.1,326.9 290,325.2 290.7,322 292.4,320.2 291.1,318.7 291.7,316.6 292.2,313.8 293,311.7 292.4,307.4 293.4,305.9 294.3,303.1 295.8,300.4 296.7,297.8 296.9,295.6 296.7,292.4 297.3,291.2 296.9,288.8 298.2,286 298.8,283.2 299.2,280.7 299.2,277.7 299.7,274.3 299.8,270.4 299.4,266.8 297.3,265.1 294.7,263.1 290.9,260.6 288.7,259.3 286.8,256.5 286.2,254.2 284.9,252.9 283.8,250.7 282.3,248.6 281.7,246.7 280.8,244.5 279.3,242.4 277.4,240.7 276.1,240 276.7,238.8 275.9,237.3 278,234.5 278.9,232.8 278,232.5 276.7,231.9 277.2,229.3 277.8,227.8 278.4,225.7 280.8,224.6 281.2,223.3 283.4,221.6 284.9,218.9 284.2,217.1 284.2,213.7 283.2,211.8Z"/></clipPath>
<g clip-path="url(#cSA)">
<path d="M284.4,209.7 285.5,208.8 287,207.3 287.9,207.1 288.3,204.5 289.6,203.5 290.9,203.5 292.8,203.2 294.5,202.2 295.4,201.5 296.2,200.7 297.1,200.7 297.7,201.3 297.3,202 296,202.8 296.7,204.1 297.9,203.9 299.7,202.8 299.4,202 300.1,201.1 300.3,202.6 302.4,202.8 303.9,203.9 303.9,204.5 308.2,204.5 309.3,205.4 311,205.6 312.3,205 312.3,204.5 317.4,204.3 315.7,205 316.4,206 318.1,206 319.8,207.1 320,208.8 321.1,208.8 321.9,209.2 323.4,210.1 324.7,211.6 324.7,212.7 325.6,212.7 327.7,214.4 330.3,214.8 332.2,214.4 334.3,214.8 335.2,215.2 336.7,215.6 339.1,217.4 339.3,218.2 340.1,218.2 340.6,219.3 341.8,223.1 342.9,223.6 343.1,225.1 341.4,226.8 342.1,227.4 345.9,227.6 345.9,229.8 347.6,228.5 350.2,229.1 353.8,230.6 354.9,231.7 354.5,233 357.1,232.3 361.1,233.4 364.3,233.4 367.5,235.1 370.3,237.5 371.8,238.1 373.8,238.1 374.6,239 375.3,241.5 375.7,242.8 374.8,246.5 373.8,247.7 370.8,250.7 369.3,253.3 367.8,255 367.1,255.2 366.5,256.7 366.7,260.8 366,264 365.8,265.5 365.2,266.3 364.8,269.1 362.6,271.9 362.4,274 360.5,275.1 360,276.4 357.7,276.3 354.5,277.3 352.8,278.1 350.4,278.7 348.1,280.5 346.1,282.6 345.9,284.1 346.1,285.4 345.7,287.5 343.8,289.7 341.4,293.5 339.5,295.2 338,296.1 337.1,298.2 335.6,299.5 334.8,300.8 332.4,302.1 330.7,301.6 329.6,301.9 327.7,300.8 324.9,299.9 324.7,301 327.5,302.7 327.1,304 328.6,305.1 328.4,306.1 326.4,308.9 323.2,310 318.9,310.4 316.6,310.2 317,311.5 316.6,313.2 317,314.3 315.7,314.9 313.4,315.3 311.4,314.5 310.6,315.1 310.8,317.3 312.3,317.9 313.4,317 314,318.3 312.1,319 310.4,320.2 310.1,322.4 309.5,323.5 307.6,323.5 305.9,324.7 305.2,326.2 307.4,327.7 309.5,328.2 308.6,330.1 306.1,331.4 304.8,333.9 302.9,334.8 302,335.6 302.7,338 303.9,339.1 301.2,339.1 303.1,339.7 303.7,341.2 305,342.7 307.6,343.8 310.8,344.2 307.6,344.8 304.4,345.9 301.2,345.9 297.9,344.8 295.2,343.8 293,342.5 290.2,340.1 288.7,337.6 288.3,335 288.1,331.4 288.9,329.2 288.1,326.9 290,325.2 290.7,322 292.4,320.2 291.1,318.7 291.7,316.6 292.2,313.8 293,311.7 292.4,307.4 293.4,305.9 294.3,303.1 295.8,300.4 296.7,297.8 296.9,295.6 296.7,292.4 297.3,291.2 296.9,288.8 298.2,286 298.8,283.2 299.2,280.7 299.2,277.7 299.7,274.3 299.8,270.4 299.4,266.8 297.3,265.1 294.7,263.1 290.9,260.6 288.7,259.3 286.8,256.5 286.2,254.2 284.9,252.9 283.8,250.7 282.3,248.6 281.7,246.7 280.8,244.5 279.3,242.4 277.4,240.7 276.1,240 276.7,238.8 275.9,237.3 278,234.5 278.9,232.8 278,232.5 276.7,231.9 277.2,229.3 277.8,227.8 278.4,225.7 280.8,224.6 281.2,223.3 283.4,221.6 284.9,218.9 284.2,217.1 284.2,213.7 283.2,211.8Z" fill="#0570b0"/>
<path d="M334.3,214.8 333.3,217.6 334.3,219.5 333.9,220.4 333.3,222.1 334.1,222.7 336.5,222.3 337.3,221.9 339.5,218.2 339.7,216.5 336.5,212.2Z" fill="#fff" stroke="#fff" stroke-width="1.2"/>
<path d="M299.4,266.5 300.3,266.1 302,267.8 303.5,268.7 302.7,270.8 303.9,273.2 304.8,276.2 306.1,276 303.3,279.6 303.7,284.7 302.2,287.1 300.5,291.4 300.1,295.6 300.1,299.9 299,304.2 297.5,308.5 296.9,312.8 296.2,317 296.7,321.3 296.2,325.6 294.7,329.9 293,334.1 294.7,336.3 296,338.4 302.2,338.9 303.1,339.7 303.1,344.8 306.5,347 287.2,347 287.2,265.7Z" fill="#0570b0" stroke="#5a5a5a" stroke-width="0.5"/>
<path d="M306.1,276 309.3,274.5 312.1,276 313.1,274.3 315.5,274.3 317.6,276.4 321.5,278.5 324.1,280.2 326.2,281.1 326.6,282 324.5,285.2 329,286 330.7,285.8 333.1,282.2 334.8,285.2 330.7,287.5 326.6,291.8 326,293.3 325.6,295.6 324.9,297.8 324.9,299.9 327.9,303.1 332.2,312.8 315.1,347 303.1,344.8 303.1,339.7 302.2,338.9 296,338.4 294.7,336.3 293,334.1 294.7,329.9 296.2,325.6 296.7,321.3 296.2,317 296.9,312.8 297.5,308.5 299,304.2 300.1,299.9 300.1,295.6 300.5,291.4 302.2,287.1 303.7,284.7 303.3,279.6Z" fill="#0570b0" stroke="#5a5a5a" stroke-width="0.5"/>
<path d="M284.4,209.7 283.2,211.8 280.8,225.1 281,224.6 282.9,225.3 284.2,226.3 286.6,226.3 288.7,227.4 289.8,227.6 292.2,229.8 293.4,232.1 295.8,232.3 298.6,235.3 300.1,236.2 300.3,236.2 301.4,229.6 300.9,228.3 300.1,227.6 300.1,225.9 301.2,225.7 301.6,225.1 304.8,223.6 305.9,222.9 306.1,224.6 306.7,224.6 305.9,222.3 304.8,221.2 305.2,219.1 304.8,217.6 304.8,216.1 305.4,213.9 303.9,213.9 301.4,214.2 299.9,212.3 298.6,212 296,212.2 295.4,211.4 294.9,210.1 294.9,209.2 294.3,208.8 293.7,207.3 293,207.5 294.1,205 295.6,203.5 296,202.8 297.3,202 297.1,200.7 295.8,199.4 287.2,203.7 284.4,208.2Z" fill="#3690c0" stroke="#5a5a5a" stroke-width="0.5"/>
<path d="M297.3,202 296,202.8 295.6,203.5 294.1,205 293,207.5 293.7,207.3 294.3,208.8 294.9,209.2 294.9,210.1 295.4,211.4 296,212.2 298.6,212 299.9,212.3 301.4,214.2 303.9,213.9 305.4,213.9 304.8,216.1 304.8,217.6 305.2,219.1 304.8,221.2 305.9,222.3 306.7,224.6 308,225.7 309.7,225.5 309.9,224.8 312.5,224 312.7,223.1 314.2,222.5 314.2,222.1 312.3,221.9 312.1,220.6 311.2,218.4 312.7,218.4 314.9,219.1 315.5,218.6 317,218.2 318.5,217.8 319.1,217.4 320,216.1 321.1,216.1 318.5,214.5 319.1,212.9 320.9,212.2 320.2,211.4 320.2,210.5 321.9,209.2 323.6,207.9 317.2,203.7 300.1,199.4Z" fill="#3690c0" stroke="#5a5a5a" stroke-width="0.5"/>
<path d="M321.9,209.2 320.2,210.5 320.2,211.4 320.9,212.2 319.1,212.9 318.5,214.4 320,216.1 321.5,217.6 322.4,218.9 321.9,219.5 321.9,221.9 323.6,224.4 324.7,224.4 326.9,223.1 329,223.1 327.5,221.2 326.6,219.9 325.8,218.6 327.3,216.5 327.7,214.4 327.9,212.2 323.6,207.9Z" fill="#a6bddb" stroke="#5a5a5a" stroke-width="0.5"/>
<path d="M327.7,214.4 327.3,216.5 325.8,218.6 326.6,219.9 327.5,221.2 329,223.1 330.3,222.9 332.2,221.9 334.1,222.7 333.3,222.1 333.9,220.4 334.3,219.5 333.3,217.6 334.3,214.8 334.3,212.2 327.9,212.2Z" fill="#d0d1e6" stroke="#5a5a5a" stroke-width="0.5"/>
<path d="M278,234.5 278.4,235.8 280.2,237.7 281.7,236.8 282.3,234.5 285.1,232.5 288.1,230.6 288.9,229.1 288.7,227.4 286.6,226.3 284.2,226.3 282.9,225.3 281,224.6 280.8,224 276.5,225.1 275.5,233.6Z" fill="#74a9cf" stroke="#5a5a5a" stroke-width="0.5"/>
<path d="M278,234.5 275.5,233.6 275.5,240 287.2,259.3 299.4,266.5 300.3,266.1 301.2,264.6 302.2,262.5 301.4,260.8 302.4,258.9 302.4,254.8 302.9,254.2 300.9,250.6 298.8,250.7 299,247.5 297.3,248.6 295.4,248.6 293.9,247.3 293.2,247.5 293.9,245.4 291.5,243.2 292.2,242.8 292.2,242 293.4,241.1 293.2,240 293.9,238.5 296.4,237 298.2,236.6 300.1,236.2 298.6,235.3 295.8,232.3 293.4,232.1 292.2,229.8 289.8,227.6 288.7,227.4 288.9,229.1 288.1,230.6 285.1,232.5 282.3,234.5 281.7,236.8 280.2,237.7 278.4,235.8Z" fill="#3690c0" stroke="#5a5a5a" stroke-width="0.5"/>
<path d="M300.9,250.6 302.9,254.2 302.4,254.8 302.4,258.9 301.4,260.8 302.2,262.5 301.2,264.6 300.3,266.1 302,267.8 303.5,268.7 302.7,270.8 303.9,273.2 304.8,276.2 306.1,276 309.3,274.5 312.1,276 313.1,274.3 315.5,274.3 316.6,272.3 316.6,271 317.6,269.1 323.4,268.5 325.4,269.6 326,266.1 326.9,266.1 325.4,264.2 324.9,262.1 321.1,262.1 320.4,259.5 320.9,258.4 319.1,256.1 317,255.4 314.6,254.2 312.1,253.9 310.4,252.4 309.9,250.5 310.1,248.2 307.4,248.4 305.2,250.1 303.7,250.7Z" fill="#a6bddb" stroke="#5a5a5a" stroke-width="0.5"/>
<path d="M316.6,272.3 315.5,274.3 317.6,276.4 321.5,278.5 324.1,280.2 326.2,281.1 326.6,282 324.5,285.2 329,286 330.7,285.8 333.1,282.2 333.7,279.2 332.2,278.3 330.9,275.8 328.6,274.9 326,274.5 326,271.5 325.4,269.6 323.4,268.5 317.6,269.1 316.6,271Z" fill="#a6bddb" stroke="#5a5a5a" stroke-width="0.5"/>
<path d="M326.6,291.8 330.1,293.3 330.9,293.1 334.8,295.6 336.1,297.1 335,298.2 335.6,299.5 336.5,302.1 327.9,303.1 324.9,299.9 324.9,297.8 325.6,295.6 326,293.3Z" fill="#74a9cf" stroke="#5a5a5a" stroke-width="0.5"/>
</g>
<mask id="mSA" maskUnits="userSpaceOnUse" x="0" y="0" width="1200" height="500"><rect width="1200" height="500" fill="#fff"/><path d="M334.3,214.8 333.3,217.6 334.3,219.5 333.9,220.4 333.3,222.1 334.1,222.7 336.5,222.3 337.3,221.9 339.5,218.2 339.7,216.5 336.5,212.2Z" fill="#000" stroke="#000" stroke-width="2.5"/></mask>
<path d="M284.4,209.7 285.5,208.8 287,207.3 287.9,207.1 288.3,204.5 289.6,203.5 290.9,203.5 292.8,203.2 294.5,202.2 295.4,201.5 296.2,200.7 297.1,200.7 297.7,201.3 297.3,202 296,202.8 296.7,204.1 297.9,203.9 299.7,202.8 299.4,202 300.1,201.1 300.3,202.6 302.4,202.8 303.9,203.9 303.9,204.5 308.2,204.5 309.3,205.4 311,205.6 312.3,205 312.3,204.5 317.4,204.3 315.7,205 316.4,206 318.1,206 319.8,207.1 320,208.8 321.1,208.8 321.9,209.2 323.4,210.1 324.7,211.6 324.7,212.7 325.6,212.7 327.7,214.4 330.3,214.8 332.2,214.4 334.3,214.8 335.2,215.2 336.7,215.6 339.1,217.4 339.3,218.2 340.1,218.2 340.6,219.3 341.8,223.1 342.9,223.6 343.1,225.1 341.4,226.8 342.1,227.4 345.9,227.6 345.9,229.8 347.6,228.5 350.2,229.1 353.8,230.6 354.9,231.7 354.5,233 357.1,232.3 361.1,233.4 364.3,233.4 367.5,235.1 370.3,237.5 371.8,238.1 373.8,238.1 374.6,239 375.3,241.5 375.7,242.8 374.8,246.5 373.8,247.7 370.8,250.7 369.3,253.3 367.8,255 367.1,255.2 366.5,256.7 366.7,260.8 366,264 365.8,265.5 365.2,266.3 364.8,269.1 362.6,271.9 362.4,274 360.5,275.1 360,276.4 357.7,276.3 354.5,277.3 352.8,278.1 350.4,278.7 348.1,280.5 346.1,282.6 345.9,284.1 346.1,285.4 345.7,287.5 343.8,289.7 341.4,293.5 339.5,295.2 338,296.1 337.1,298.2 335.6,299.5 334.8,300.8 332.4,302.1 330.7,301.6 329.6,301.9 327.7,300.8 324.9,299.9 324.7,301 327.5,302.7 327.1,304 328.6,305.1 328.4,306.1 326.4,308.9 323.2,310 318.9,310.4 316.6,310.2 317,311.5 316.6,313.2 317,314.3 315.7,314.9 313.4,315.3 311.4,314.5 310.6,315.1 310.8,317.3 312.3,317.9 313.4,317 314,318.3 312.1,319 310.4,320.2 310.1,322.4 309.5,323.5 307.6,323.5 305.9,324.7 305.2,326.2 307.4,327.7 309.5,328.2 308.6,330.1 306.1,331.4 304.8,333.9 302.9,334.8 302,335.6 302.7,338 303.9,339.1 301.2,339.1 303.1,339.7 303.7,341.2 305,342.7 307.6,343.8 310.8,344.2 307.6,344.8 304.4,345.9 301.2,345.9 297.9,344.8 295.2,343.8 293,342.5 290.2,340.1 288.7,337.6 288.3,335 288.1,331.4 288.9,329.2 288.1,326.9 290,325.2 290.7,322 292.4,320.2 291.1,318.7 291.7,316.6 292.2,313.8 293,311.7 292.4,307.4 293.4,305.9 294.3,303.1 295.8,300.4 296.7,297.8 296.9,295.6 296.7,292.4 297.3,291.2 296.9,288.8 298.2,286 298.8,283.2 299.2,280.7 299.2,277.7 299.7,274.3 299.8,270.4 299.4,266.8 297.3,265.1 294.7,263.1 290.9,260.6 288.7,259.3 286.8,256.5 286.2,254.2 284.9,252.9 283.8,250.7 282.3,248.6 281.7,246.7 280.8,244.5 279.3,242.4 277.4,240.7 276.1,240 276.7,238.8 275.9,237.3 278,234.5 278.9,232.8 278,232.5 276.7,231.9 277.2,229.3 277.8,227.8 278.4,225.7 280.8,224.6 281.2,223.3 283.4,221.6 284.9,218.9 284.2,217.1 284.2,213.7 283.2,211.8Z" fill="none" stroke="#4a4a4a" stroke-width="0.7" stroke-linejoin="round" mask="url(#mSA)"/>
<mask id="miSA" maskUnits="userSpaceOnUse" x="0" y="0" width="1200" height="500"><path d="M334.3,214.8 333.3,217.6 334.3,219.5 333.9,220.4 333.3,222.1 334.1,222.7 336.5,222.3 337.3,221.9 339.5,218.2 339.7,216.5 336.5,212.2Z" fill="#fff" stroke="#fff" stroke-width="1"/></mask>
<path d="M284.4,209.7 285.5,208.8 287,207.3 287.9,207.1 288.3,204.5 289.6,203.5 290.9,203.5 292.8,203.2 294.5,202.2 295.4,201.5 296.2,200.7 297.1,200.7 297.7,201.3 297.3,202 296,202.8 296.7,204.1 297.9,203.9 299.7,202.8 299.4,202 300.1,201.1 300.3,202.6 302.4,202.8 303.9,203.9 303.9,204.5 308.2,204.5 309.3,205.4 311,205.6 312.3,205 312.3,204.5 317.4,204.3 315.7,205 316.4,206 318.1,206 319.8,207.1 320,208.8 321.1,208.8 321.9,209.2 323.4,210.1 324.7,211.6 324.7,212.7 325.6,212.7 327.7,214.4 330.3,214.8 332.2,214.4 334.3,214.8 335.2,215.2 336.7,215.6 339.1,217.4 339.3,218.2 340.1,218.2 340.6,219.3 341.8,223.1 342.9,223.6 343.1,225.1 341.4,226.8 342.1,227.4 345.9,227.6 345.9,229.8 347.6,228.5 350.2,229.1 353.8,230.6 354.9,231.7 354.5,233 357.1,232.3 361.1,233.4 364.3,233.4 367.5,235.1 370.3,237.5 371.8,238.1 373.8,238.1 374.6,239 375.3,241.5 375.7,242.8 374.8,246.5 373.8,247.7 370.8,250.7 369.3,253.3 367.8,255 367.1,255.2 366.5,256.7 366.7,260.8 366,264 365.8,265.5 365.2,266.3 364.8,269.1 362.6,271.9 362.4,274 360.5,275.1 360,276.4 357.7,276.3 354.5,277.3 352.8,278.1 350.4,278.7 348.1,280.5 346.1,282.6 345.9,284.1 346.1,285.4 345.7,287.5 343.8,289.7 341.4,293.5 339.5,295.2 338,296.1 337.1,298.2 335.6,299.5 334.8,300.8 332.4,302.1 330.7,301.6 329.6,301.9 327.7,300.8 324.9,299.9 324.7,301 327.5,302.7 327.1,304 328.6,305.1 328.4,306.1 326.4,308.9 323.2,310 318.9,310.4 316.6,310.2 317,311.5 316.6,313.2 317,314.3 315.7,314.9 313.4,315.3 311.4,314.5 310.6,315.1 310.8,317.3 312.3,317.9 313.4,317 314,318.3 312.1,319 310.4,320.2 310.1,322.4 309.5,323.5 307.6,323.5 305.9,324.7 305.2,326.2 307.4,327.7 309.5,328.2 308.6,330.1 306.1,331.4 304.8,333.9 302.9,334.8 302,335.6 302.7,338 303.9,339.1 301.2,339.1 303.1,339.7 303.7,341.2 305,342.7 307.6,343.8 310.8,344.2 307.6,344.8 304.4,345.9 301.2,345.9 297.9,344.8 295.2,343.8 293,342.5 290.2,340.1 288.7,337.6 288.3,335 288.1,331.4 288.9,329.2 288.1,326.9 290,325.2 290.7,322 292.4,320.2 291.1,318.7 291.7,316.6 292.2,313.8 293,311.7 292.4,307.4 293.4,305.9 294.3,303.1 295.8,300.4 296.7,297.8 296.9,295.6 296.7,292.4 297.3,291.2 296.9,288.8 298.2,286 298.8,283.2 299.2,280.7 299.2,277.7 299.7,274.3 299.8,270.4 299.4,266.8 297.3,265.1 294.7,263.1 290.9,260.6 288.7,259.3 286.8,256.5 286.2,254.2 284.9,252.9 283.8,250.7 282.3,248.6 281.7,246.7 280.8,244.5 279.3,242.4 277.4,240.7 276.1,240 276.7,238.8 275.9,237.3 278,234.5 278.9,232.8 278,232.5 276.7,231.9 277.2,229.3 277.8,227.8 278.4,225.7 280.8,224.6 281.2,223.3 283.4,221.6 284.9,218.9 284.2,217.1 284.2,213.7 283.2,211.8Z" fill="none" stroke="#fff" stroke-width="2.5" mask="url(#miSA)"/>
<clipPath id="cAF"><path d="M437.4,150.6 438.6,150.4 441.4,151.9 443.8,151.7 445.3,152.1 447.4,151.7 450,150.4 452.1,149.1 455.4,148.9 457.5,148.5 460.7,148.5 463.5,147.8 466.5,148.3 468.4,148.3 470.3,147.4 471.8,147.6 472.3,148.7 473.8,148.1 472.7,149.3 472.7,150.4 473.8,151.9 472.5,153.2 471.6,153.8 472.1,154.9 473.3,155.1 474.6,156.4 477,157 479.8,157.3 482.6,158.1 483.6,159.8 486.4,160.9 489.4,162 492,162 493,160.9 492.6,159.2 494.1,157.5 496.3,156.8 499,157.5 499.7,158.3 503.3,159 504,159.6 507.8,160 511.9,161.1 513.6,160.5 516.2,159.6 519,160.2 519.8,160.7 522.4,160.9 523.2,160.2 524.7,164.1 524.1,165.8 523.7,167.3 523.2,167.7 522.4,166.7 521.1,165.4 520,163.7 519.6,163.2 519.4,164.7 520.2,166.2 521.3,167.7 522.6,169.7 523.5,171.4 524.7,173.7 526.2,175.9 526.7,177.4 528.6,179.7 529.7,182.3 530.1,184.8 531.6,187.4 532.7,188.7 533.5,191.7 534.4,193.4 535.7,194 538.2,196.6 539.7,198.1 541.2,199.8 542.7,200.7 542.3,202.4 543.4,203.7 545.5,205 547.7,204.5 549.8,204.1 552.2,203.5 554.7,203 557.7,202.2 559.4,201.7 559.4,204.5 559,205.2 558.4,207.5 557.3,209.9 555.8,212.7 554.1,215.9 552.2,218.2 549.8,221 547.7,222.9 544.4,224.8 542.3,226.6 540,229.1 538.9,230.8 537.6,231.7 535.9,234.3 534.8,236.4 534,237.3 532.9,239.8 533.1,241.1 534.4,241.7 534,243.7 534.6,244.3 535.5,248.8 536.3,249.2 536.7,250.3 536.5,252.4 537,254.2 537,257.6 537.4,258.6 536.7,260.1 534.6,262.9 530.1,264.8 527.7,267.2 525.4,269.1 524.5,270 525.4,272.8 525.8,274.5 526.2,274.5 526,276.6 525.8,277.5 526.2,277.9 526,278.7 525,279.6 523.2,280.2 520.7,281.5 519.8,282.2 520,283 520.5,283.2 519.8,286 519.6,287.7 519,288.8 517.5,289.9 517,290.1 516.2,291.2 515.5,292.2 514.5,293.7 511.9,296.1 510.4,297.4 508.9,298.2 506.5,299.1 505.5,299.3 505.3,299.7 504,299.5 502.9,299.9 500.5,299.5 498.4,299.7 496,300.6 494.3,300.8 493,301.6 492,301.6 491.1,301 490.5,300.8 489.4,299.9 489.4,300.1 489,299.7 489.2,298.4 488.3,296.9 489,296.5 489,295 487.7,292.9 486.6,291.2 484.9,288.4 483.4,286.7 482.6,285.2 482.1,283 481.5,281.5 480.8,278.3 480.8,275.8 480.6,274.5 479.8,273.6 478.7,271.9 477.4,269.3 477,267.8 475.3,265.9 475.1,264.2 474.8,262.9 475.9,259.1 476.1,258 476.8,256.1 478.5,253.9 479.1,252.9 479.3,251.4 479.3,250.1 478.7,249.4 478.1,248.2 477.6,246.9 477.6,246.2 478.3,245.6 477.2,242.2 476.1,240.7 476.3,240.2 476.1,239.6 475.5,237.9 473.8,235.5 471.6,233.6 470.1,231.7 468.8,229.6 468.8,228.9 469.3,228.3 469.9,226.6 470.3,225.1 469.9,224.6 470.6,222.3 471,220.6 470.1,219.3 469.1,218.9 468.6,217.8 468.2,217.6 468.2,216.9 466.1,217.8 465.2,217.6 464.3,218.2 462.6,218 461.6,216.7 460.7,215.2 459.2,213.7 457.7,213.7 455.8,213.7 454.1,214.2 452.4,214.6 451.7,214.8 450,215.4 448.9,215.9 447.6,216.5 445.8,217.1 443.8,216.5 442.9,216.5 441.4,216.1 440.1,216.1 437.6,216.5 436.1,217.1 433.9,218 433.5,217.8 432.9,217.8 430.7,216.5 428.8,215.2 426.9,214.2 425.6,212.7 424.9,212.2 423.4,211.6 422.4,210.5 421.9,209.7 421.7,208.2 420.7,206.9 419.8,206 418.7,205.4 418.5,204.3 418.3,203.9 417.7,203.7 416.4,202.6 415.5,202.6 415.1,202 415.1,201.5 414.4,201.1 414.2,200.7 414,199 414.2,198.1 413.4,196.4 412.3,195.8 413.2,195.3 414.2,193.8 414.7,192.8 415.5,188.5 415.1,186.3 414.9,185.3 415.1,184.2 414.7,183.1 413.4,182.3 413.6,181.4 414.2,179.5 415.1,178.6 415.7,176.5 417,175 417.7,174.8 418.3,173.5 419.2,170.9 420.4,170.3 421.9,168.2 423,167.3 424.9,167.1 426.7,165.6 427.7,165 429.4,163.2 429,160.5 429.9,158.8 430.1,157.5 431.4,156.2 433.5,155.1 435.2,154.3 436.7,152.1Z"/></clipPath>
<g clip-path="url(#cAF)">
<path d="M437.4,150.6 438.6,150.4 441.4,151.9 443.8,151.7 445.3,152.1 447.4,151.7 450,150.4 452.1,149.1 455.4,148.9 457.5,148.5 460.7,148.5 463.5,147.8 466.5,148.3 468.4,148.3 470.3,147.4 471.8,147.6 472.3,148.7 473.8,148.1 472.7,149.3 472.7,150.4 473.8,151.9 472.5,153.2 471.6,153.8 472.1,154.9 473.3,155.1 474.6,156.4 477,157 479.8,157.3 482.6,158.1 483.6,159.8 486.4,160.9 489.4,162 492,162 493,160.9 492.6,159.2 494.1,157.5 496.3,156.8 499,157.5 499.7,158.3 503.3,159 504,159.6 507.8,160 511.9,161.1 513.6,160.5 516.2,159.6 519,160.2 519.8,160.7 522.4,160.9 523.2,160.2 524.7,164.1 524.1,165.8 523.7,167.3 523.2,167.7 522.4,166.7 521.1,165.4 520,163.7 519.6,163.2 519.4,164.7 520.2,166.2 521.3,167.7 522.6,169.7 523.5,171.4 524.7,173.7 526.2,175.9 526.7,177.4 528.6,179.7 529.7,182.3 530.1,184.8 531.6,187.4 532.7,188.7 533.5,191.7 534.4,193.4 535.7,194 538.2,196.6 539.7,198.1 541.2,199.8 542.7,200.7 542.3,202.4 543.4,203.7 545.5,205 547.7,204.5 549.8,204.1 552.2,203.5 554.7,203 557.7,202.2 559.4,201.7 559.4,204.5 559,205.2 558.4,207.5 557.3,209.9 555.8,212.7 554.1,215.9 552.2,218.2 549.8,221 547.7,222.9 544.4,224.8 542.3,226.6 540,229.1 538.9,230.8 537.6,231.7 535.9,234.3 534.8,236.4 534,237.3 532.9,239.8 533.1,241.1 534.4,241.7 534,243.7 534.6,244.3 535.5,248.8 536.3,249.2 536.7,250.3 536.5,252.4 537,254.2 537,257.6 537.4,258.6 536.7,260.1 534.6,262.9 530.1,264.8 527.7,267.2 525.4,269.1 524.5,270 525.4,272.8 525.8,274.5 526.2,274.5 526,276.6 525.8,277.5 526.2,277.9 526,278.7 525,279.6 523.2,280.2 520.7,281.5 519.8,282.2 520,283 520.5,283.2 519.8,286 519.6,287.7 519,288.8 517.5,289.9 517,290.1 516.2,291.2 515.5,292.2 514.5,293.7 511.9,296.1 510.4,297.4 508.9,298.2 506.5,299.1 505.5,299.3 505.3,299.7 504,299.5 502.9,299.9 500.5,299.5 498.4,299.7 496,300.6 494.3,300.8 493,301.6 492,301.6 491.1,301 490.5,300.8 489.4,299.9 489.4,300.1 489,299.7 489.2,298.4 488.3,296.9 489,296.5 489,295 487.7,292.9 486.6,291.2 484.9,288.4 483.4,286.7 482.6,285.2 482.1,283 481.5,281.5 480.8,278.3 480.8,275.8 480.6,274.5 479.8,273.6 478.7,271.9 477.4,269.3 477,267.8 475.3,265.9 475.1,264.2 474.8,262.9 475.9,259.1 476.1,258 476.8,256.1 478.5,253.9 479.1,252.9 479.3,251.4 479.3,250.1 478.7,249.4 478.1,248.2 477.6,246.9 477.6,246.2 478.3,245.6 477.2,242.2 476.1,240.7 476.3,240.2 476.1,239.6 475.5,237.9 473.8,235.5 471.6,233.6 470.1,231.7 468.8,229.6 468.8,228.9 469.3,228.3 469.9,226.6 470.3,225.1 469.9,224.6 470.6,222.3 471,220.6 470.1,219.3 469.1,218.9 468.6,217.8 468.2,217.6 468.2,216.9 466.1,217.8 465.2,217.6 464.3,218.2 462.6,218 461.6,216.7 460.7,215.2 459.2,213.7 457.7,213.7 455.8,213.7 454.1,214.2 452.4,214.6 451.7,214.8 450,215.4 448.9,215.9 447.6,216.5 445.8,217.1 443.8,216.5 442.9,216.5 441.4,216.1 440.1,216.1 437.6,216.5 436.1,217.1 433.9,218 433.5,217.8 432.9,217.8 430.7,216.5 428.8,215.2 426.9,214.2 425.6,212.7 424.9,212.2 423.4,211.6 422.4,210.5 421.9,209.7 421.7,208.2 420.7,206.9 419.8,206 418.7,205.4 418.5,204.3 418.3,203.9 417.7,203.7 416.4,202.6 415.5,202.6 415.1,202 415.1,201.5 414.4,201.1 414.2,200.7 414,199 414.2,198.1 413.4,196.4 412.3,195.8 413.2,195.3 414.2,193.8 414.7,192.8 415.5,188.5 415.1,186.3 414.9,185.3 415.1,184.2 414.7,183.1 413.4,182.3 413.6,181.4 414.2,179.5 415.1,178.6 415.7,176.5 417,175 417.7,174.8 418.3,173.5 419.2,170.9 420.4,170.3 421.9,168.2 423,167.3 424.9,167.1 426.7,165.6 427.7,165 429.4,163.2 429,160.5 429.9,158.8 430.1,157.5 431.4,156.2 433.5,155.1 435.2,154.3 436.7,152.1Z" fill="#d0d1e6"/>
<path d="M431.4,167.9 421.7,167.9 407.2,169.4 407.2,182.3 413.6,181.6 422.2,181.6 422.2,178 424.3,176.9 424.3,171.6 431.4,171.6Z" fill="#fff" stroke="#fff" stroke-width="1.2"/>
<path d="M447.4,157.5 446.4,154.5 445.3,152.1 445.7,148.1 468.4,147 468.4,148.3 468,150.2 467.6,153.2 466.1,154.7 470.3,158.8 471.2,162 471.2,170.5 470.3,171.2 472.1,175 474.8,175.9 475.5,176.9 466.1,182.5 462.2,185.7 459.2,186.1 456.9,186.6 456.6,185.1 453.9,183.1 439.5,173.9 431.4,168.8 431.4,165.8 435,164.1 438.6,163.2 442.1,161.1 443.8,159.8Z" fill="#fff" stroke="#fff" stroke-width="1.2"/>
<path d="M474.6,156.4 475.7,154.5 504,156.6 504,159.6 503.5,164.7 503.5,180.1 503.5,184.4 501.4,184.4 501.4,185.5 484.3,177.1 482.1,178 480,179.1 478.9,177.6 475.5,176.9 474.8,175.9 472.1,175 470.3,171.2 471.2,170.5 471.2,162 470.3,162.4 472.1,161.3 471.8,159.2 474.6,157.9Z" fill="#fff" stroke="#fff" stroke-width="1.2"/>
<path d="M500.5,206.9 503.5,205.4 506.8,206.9 510,207.1 513.2,206.2 517.5,202 519.6,201.7 521.1,201.1 522.6,205.8 523,206.9 523,208.8 520.7,210.5 522.8,211.8 525,215.4 525.6,216.5 522.8,218.2 521.5,219.1 519,219.5 516.8,219.1 516,219.7 514.3,218.2 510.8,218 508.7,216.3 506.5,214.6 503.8,211.2 500.3,208.4Z" fill="#fff" stroke="#fff" stroke-width="1.2"/>
<path d="M523,208.8 523,206.9 523.5,204.7 524.5,204.3 525.6,201.7 527.5,200 528.2,196.6 530.3,196.8 532.5,196.2 535.7,196.4 538.2,198.5 540.6,200.5 539.5,203.5 541.9,203.7 542.1,204.7 544.9,207.9 550.4,210.1 552.6,210.1 546.4,216.5 544.2,216.7 542.1,218 539.7,218.9 538.2,218.9 535.7,218.6 532.5,219.5 528.8,217.8 527.1,217.6 526,215.9 525,215.4 522.8,211.8 520.7,210.5Z" fill="#fff" stroke="#fff" stroke-width="1.2"/>
<path d="M513.4,230.2 515.3,229.3 516,230.8 515.3,232.3 516,234.5 513.8,236.8 512.5,234.3 512.1,233.2Z" fill="#fff" stroke="#fff" stroke-width="1.2"/>
<path d="M470.3,218.9 471,222.3 474.2,222.3 478.5,222.5 478.5,224.6 481.1,225.3 480,228.3 481.1,230 480.6,231.5 477.8,232.1 475.7,231.5 474.8,233.2 473.8,235.5 467.1,227.2 467.1,218.6Z" fill="#fff" stroke="#fff" stroke-width="1.2"/>
<path d="M507.8,290.5 508.9,289 511.3,288.4 513,289.9 512.1,292 510,292.7 508.7,292Z" fill="#fff" stroke="#fff" stroke-width="1.2"/>
<path d="M516.4,282.4 518.3,282.6 518.7,284.5 517.2,285.6 516,284.5Z" fill="#fff" stroke="#fff" stroke-width="1.2"/>
<path d="M437.4,150.6 445.3,152.1 446.4,154.5 446.1,156.8 447.4,157.5 443.8,159.8 442.1,161.1 438.6,163.2 435,164.1 431.4,165.8 431.4,167.9 421.7,167.9 407.2,169.4 407.2,150.2Z" fill="#3690c0" stroke="#5a5a5a" stroke-width="0.5"/>
<path d="M468.4,148.3 468.4,145.9 475.7,145.9 474.6,156.4 474.6,157.9 471.8,159.2 472.1,161.3 470.3,162.4 470.3,158.8 466.1,154.7 467.6,153.2 468,150.2Z" fill="#74a9cf" stroke="#5a5a5a" stroke-width="0.5"/>
<path d="M504,156.6 523.2,159.6 523.2,160.2 524.7,164.1 527.1,169.4 529,180.1 517,180.1 503.5,180.1 503.5,164.7 504,159.6Z" fill="#0570b0" stroke="#5a5a5a" stroke-width="0.5"/>
<path d="M413.6,181.6 422.2,181.6 422.2,178 424.3,176.9 424.3,171.6 431.4,171.6 431.4,168.8 439.5,173.9 436.1,173.9 438.2,192.1 438.6,194 430.1,194 427.1,194.9 425.4,193.8 423.9,195.8 420,191.7 414.7,192.5 411.4,193 411.4,182.3Z" fill="#a6bddb" stroke="#5a5a5a" stroke-width="0.5"/>
<path d="M439.5,173.9 453.9,183.1 456.6,185.1 456.9,186.6 459.2,186.1 459.2,191.1 457.7,193.8 450.9,195.1 449.4,195.3 447.6,195.3 445.7,196.8 443.6,198.1 440.8,199 440.8,200 438.2,201.7 438.9,205.2 438.2,205 436.7,204.7 435.9,205.8 433.7,205.4 432.2,203.7 431.4,201.5 430.1,200.7 427.1,201.7 425.6,200.7 425.4,198.8 423.9,195.8 425.4,193.8 427.1,194.9 430.1,194 438.6,194 438.2,192.1 436.1,173.9Z" fill="#74a9cf" stroke="#5a5a5a" stroke-width="0.5"/>
<path d="M414.7,192.5 420,191.7 423.9,195.8 425.4,198.8 423.9,200.5 420.7,200.2 417.4,200.2 414,200.9 411.9,195.8Z" fill="#74a9cf" stroke="#5a5a5a" stroke-width="0.5"/>
<path d="M414,199 417.9,197.7 420.4,198.3 417.9,198.5 414,199.4Z" fill="#d0d1e6" stroke="#5a5a5a" stroke-width="0.5"/>
<path d="M414,200.9 417.4,200.2 420.7,200.2 420.7,202.2 417.9,203.9 413.6,203.7Z" fill="#a6bddb" stroke="#5a5a5a" stroke-width="0.5"/>
<path d="M420.7,200.2 423.9,200.5 425.4,198.8 425.6,200.7 427.1,201.7 430.1,200.7 431.4,201.5 432.2,203.7 433.7,205.4 432.9,207.1 433.1,208.8 432.2,209.4 430.9,211.6 429.7,211.4 429.7,209 427.9,209 427.3,207.3 426,205.8 423.4,206 421.7,207.9 417.9,205.8 417.9,203.9 420.7,202.2Z" fill="#d0d1e6" stroke="#5a5a5a" stroke-width="0.5"/>
<path d="M421.7,207.9 423.4,206 426,205.8 427.3,207.3 427.9,209 427.3,210.1 425.6,212.4 421.1,211.2Z" fill="#ece7f2" stroke="#5a5a5a" stroke-width="0.5"/>
<path d="M425.6,212.4 427.3,210.1 427.9,209 429.7,209 429.7,211.4 430.9,211.6 432.2,212.2 431.8,213.7 433.9,215.4 433.9,218 430.7,217.6Z" fill="#fff7fb" stroke="#5a5a5a" stroke-width="0.5"/>
<path d="M433.9,218 433.9,215.4 431.8,213.7 432.2,212.2 430.9,211.6 432.2,209.4 433.1,208.8 432.9,207.1 433.7,205.4 435.9,205.8 436.7,204.7 438.2,205 438.9,205.2 439.9,206.5 442.5,206 444.2,206.9 444.6,209.7 443.1,213.7 444,216.5 443.6,218.6Z" fill="#a6bddb" stroke="#5a5a5a" stroke-width="0.5"/>
<path d="M438.2,201.7 440.8,200 440.8,199 443.6,198.1 445.7,196.8 447.6,195.3 449.4,195.3 450.9,195.1 450.9,197.3 452.8,198.8 452.1,199.6 454.7,200.2 454.3,202.8 451.9,203.7 450,203.7 448.5,203.9 443.8,203.7 444.2,206.9 442.5,206 439.9,206.5 438.9,205.2 438.2,205Z" fill="#d0d1e6" stroke="#5a5a5a" stroke-width="0.5"/>
<path d="M444,216.5 443.1,213.7 444.6,209.7 444.2,206.9 443.8,203.7 448.5,203.9 450,203.7 450.9,205.4 450.6,207.9 451.3,209.4 451.1,212.2 452.6,214.2 452.1,216.5 447.9,217.6Z" fill="#a6bddb" stroke="#5a5a5a" stroke-width="0.5"/>
<path d="M452.6,214.2 451.1,212.2 451.3,209.4 450.6,207.9 450.9,205.4 450,203.7 451.9,203.7 451.7,205 453,207.3 453.4,213.9Z" fill="#ece7f2" stroke="#5a5a5a" stroke-width="0.5"/>
<path d="M453.4,213.9 453,207.3 451.7,205 451.9,203.7 454.3,202.8 455.1,201.1 457.7,202.2 457.7,205.2 455.8,207.9 455.8,213.7 454.3,215.4Z" fill="#ece7f2" stroke="#5a5a5a" stroke-width="0.5"/>
<path d="M456.9,186.6 459.2,186.1 462.2,185.7 466.1,182.5 475.5,176.9 478.9,177.6 480,179.1 482.1,178 483.2,182.3 484.1,183.6 483.2,189.8 479.8,193.6 478.9,196.4 476.3,199.2 472.9,199 469.3,199.8 466.7,198.8 464.6,199.2 461.6,197.5 458.8,198.3 457.7,202.2 455.1,201.1 454.7,200.2 452.1,199.6 452.8,198.8 450.9,197.3 450.9,195.1 457.7,193.8 459.2,191.1 459.2,186.1Z" fill="#a6bddb" stroke="#5a5a5a" stroke-width="0.5"/>
<path d="M455.8,213.7 455.8,207.9 457.7,205.2 457.7,202.2 458.8,198.3 461.6,197.5 464.6,199.2 466.7,198.8 469.3,199.8 472.9,199 476.3,199.2 478.9,196.4 480.4,199.2 481.3,201.5 479.1,204.3 478.3,207.9 476.1,209.2 475.1,212.4 473.6,213.3 471.6,212.2 469.7,213.7 468.4,217.1 467.1,220.8 456.4,215.4Z" fill="#3690c0" stroke="#5a5a5a" stroke-width="0.5"/>
<path d="M482.1,178 484.3,177.1 501.4,185.5 501.2,193.6 499.3,193.6 497.8,197 498.2,197.7 497.5,200 498.2,201.5 499,203.2 499,203.9 496.5,204.5 493,207.9 490.5,208.2 489.8,210.1 485.3,210.5 483.2,211.2 481.1,210.1 480,206.9 483.2,206 481.9,203.9 481.3,201.5 480.4,199.2 478.9,196.4 479.8,193.6 483.2,189.8 484.1,183.6 483.2,182.3Z" fill="#d0d1e6" stroke="#5a5a5a" stroke-width="0.5"/>
<path d="M468.4,217.1 469.7,213.7 471.6,212.2 473.6,213.3 475.1,212.4 476.1,209.2 478.3,207.9 479.1,204.3 481.3,201.5 481.9,203.9 483.2,206 480,206.9 481.1,210.1 483.2,211.2 481.7,213.7 481.1,217.1 482.6,219.1 484.5,221 484.5,223.1 478.5,222.5 474.2,222.3 471,222.3 470.3,218.9Z" fill="#a6bddb" stroke="#5a5a5a" stroke-width="0.5"/>
<path d="M481.1,217.1 481.7,213.7 483.2,211.2 485.3,210.5 489.8,210.1 490.5,208.2 493,207.9 496.5,204.5 499,203.9 500.5,206.9 500.3,208.4 503.8,211.2 506.5,214.6 508.7,216.3 504.2,216.5 502.3,216.3 499,216.9 498,218.6 494.8,218 491.8,216.5 489.6,218 485.8,219.7 484.5,221 482.6,219.1Z" fill="#fff7fb" stroke="#5a5a5a" stroke-width="0.5"/>
<path d="M501.4,185.5 501.4,184.4 503.5,184.4 503.5,180.1 529,180.1 532.5,187.6 529.2,190.8 528.2,196.6 527.5,200 525.6,201.7 524.5,204.3 523.5,204.7 522.6,205.8 521.1,201.1 519.6,201.7 517.5,202 513.2,206.2 510,207.1 506.8,206.9 503.5,205.4 500.5,206.9 499,203.9 499,203.2 498.2,201.5 497.5,200 498.2,197.7 497.8,197 499.3,193.6 501.2,193.6Z" fill="#d0d1e6" stroke="#5a5a5a" stroke-width="0.5"/>
<path d="M528.2,196.6 529.2,190.8 532.5,187.6 534.6,193 538.2,196.6 541.2,199.8 542.3,200 540.6,200.5 538.2,198.5 535.7,196.4 532.5,196.2 530.3,196.8Z" fill="#d0d1e6" stroke="#5a5a5a" stroke-width="0.5"/>
<path d="M539.5,203.5 540.6,200.5 542.7,200.7 542.3,202.4 543.4,203.7 541.9,203.7Z" fill="#a6bddb" stroke="#5a5a5a" stroke-width="0.5"/>
<path d="M537.8,230.8 539.1,230.8 546.4,227.2 561.4,201.5 543.4,203.7 541.9,203.7 542.1,204.7 544.9,207.9 550.4,210.1 552.6,210.1 546.4,216.5 544.2,216.7 542.1,218 539.7,218.9 537.8,221.2Z" fill="#74a9cf" stroke="#5a5a5a" stroke-width="0.5"/>
<path d="M534,237.3 536.7,232.5 539.1,230.8 537.8,230.8 537.8,221.2 539.7,218.9 538.2,218.9 535.7,218.6 532.5,219.5 528.8,217.8 527.1,217.6 526,215.9 525.6,216.5 522.8,218.2 524.1,220.4 525,223.1 523.9,225.1 522.8,227.2 522.8,229.3 530.5,233.6 530.7,233.6Z" fill="#74a9cf" stroke="#5a5a5a" stroke-width="0.5"/>
<path d="M522.8,229.3 522.8,227.2 523.9,225.1 525,223.1 524.1,220.4 522.8,218.2 521.5,219.1 519,219.5 516.8,219.1 516,219.7 516.2,222.3 514.3,224.4 513.4,225.9 513.6,228.1 513.4,230.2 515.3,229.3Z" fill="#d0d1e6" stroke="#5a5a5a" stroke-width="0.5"/>
<path d="M534,237.3 530.7,233.6 522.8,229.3 515.3,229.3 516,230.8 515.3,232.3 516,234.5 513.8,236.8 513,239.8 515.3,245 516.4,245.6 520.5,247.3 522.6,247.9 523.9,251.8 525,251.8 530.3,252 532.5,251.4 536.5,249.7 537.8,246.5 535.7,237.9Z" fill="#74a9cf" stroke="#5a5a5a" stroke-width="0.5"/>
<path d="M478.5,222.5 484.5,223.1 484.5,221 485.8,219.7 489.6,218 488.8,222.9 488.1,227.2 486.4,229.3 485.1,231.5 484.1,233.4 482.8,236.4 478.1,237.3 476.1,237.9 473.8,235.5 474.8,233.2 475.7,231.5 477.8,232.1 480.6,231.5 481.1,230 480,228.3 481.1,225.3 478.5,224.6Z" fill="#fff7fb" stroke="#5a5a5a" stroke-width="0.5"/>
<path d="M476.1,240 477.8,239.8 484.9,239.8 485.6,241.3 486.6,243.2 487.7,244.5 489.6,244.3 491.1,244.1 491.5,242.6 493,242.2 493.5,242.2 496.7,242.8 496.9,244.5 496.5,247.5 497.8,250.9 501.2,250.7 502,251.4 504.4,251.4 505.3,252.9 508.3,252 510,253.5 512.1,255.9 513.4,255.6 513.4,253.3 511,250.7 511.5,247.7 510.8,246.9 516,245 515.3,245 513,239.8 513.8,236.8 512.5,234.3 512.1,233.2 513.4,230.2 513.6,228.1 513.4,225.9 514.3,224.4 516.2,222.3 516,219.7 514.3,218.2 510.8,218 508.7,216.3 504.2,216.5 502.3,216.3 499,216.9 498,218.6 494.8,218 491.8,216.5 489.6,218 488.8,222.9 488.1,227.2 486.4,229.3 485.1,231.5 484.1,233.4 482.8,236.4 478.1,237.3 476.1,237.9Z" fill="#d0d1e6" stroke="#5a5a5a" stroke-width="0.5"/>
<path d="M474.6,237.9 476.1,237.9 476.1,240 477.8,239.8 484.9,239.8 485.6,241.3 486.6,243.2 487.7,244.5 489.6,244.3 491.1,244.1 491.5,242.6 493,242.2 493.5,242.2 496.7,242.8 496.9,244.5 496.5,247.5 497.8,250.9 501.2,250.7 501.4,255 497.1,255 497.1,261.9 500.1,264.8 495,265.7 489.6,264.4 479.8,264.4 475.1,264.2 471.4,259.3Z" fill="#d0d1e6" stroke="#5a5a5a" stroke-width="0.5"/>
<path d="M497.1,255 501.4,255 501.2,250.7 502,251.4 504.4,251.4 505.3,252.9 508.3,252 510,253.5 512.1,255.9 513.4,255.6 513.4,253.3 511,250.7 511.5,247.7 510.8,246.9 516,245 516.4,245.6 520.5,247.3 521.3,250.3 521.1,253.5 520,256.5 521.1,257.1 514.7,258.9 514.9,260.6 511.9,261.4 507.8,265.5 504.2,265.3 500.1,264.8 497.1,261.9Z" fill="#a6bddb" stroke="#5a5a5a" stroke-width="0.5"/>
<path d="M520.5,247.3 522.6,247.9 523.9,251.8 524.1,255 525.6,257.1 526.9,259.1 526.7,261.4 525.6,263.8 523.5,261.4 523.9,258.4 521.1,257.1 520,256.5 521.1,253.5 521.3,250.3Z" fill="#a6bddb" stroke="#5a5a5a" stroke-width="0.5"/>
<path d="M523.9,251.8 525,251.8 530.3,252 532.5,251.4 536.5,249.7 540,257.1 527.1,285 520.5,284.7 518.5,281.7 517,275.1 519.6,272.8 520.2,267.8 520,265.7 520.7,263.6 515.1,261.4 514.9,260.6 514.7,258.9 521.1,257.1 523.9,258.4 523.5,261.4 525.6,263.8 526.7,261.4 526.9,259.1 525.6,257.1 524.1,255Z" fill="#a6bddb" stroke="#5a5a5a" stroke-width="0.5"/>
<path d="M504.2,265.3 507.8,265.5 511.9,261.4 514.9,260.6 515.1,261.4 520.7,263.6 520,265.7 520.2,267.8 519.6,272.8 517,275.1 513,274.5 510,273.2 508.3,271 505.7,268.5Z" fill="#74a9cf" stroke="#5a5a5a" stroke-width="0.5"/>
<path d="M475.1,264.2 479.8,264.4 489.6,264.4 495,265.7 500.1,264.8 504.2,265.3 501.4,265.7 495,266.3 495,274.3 492.8,274.3 492.8,280.2 492.8,287.9 490.7,289 487.3,288.4 485.3,288.4 480,287.1 473.6,265.7Z" fill="#ece7f2" stroke="#5a5a5a" stroke-width="0.5"/>
<path d="M492.8,274.3 495,274.3 495,266.3 501.4,265.7 504.2,265.3 505.7,268.5 508.3,271 510,273.2 513,274.5 507.8,277.7 505.7,280 503.5,282.4 499.3,281.3 497.1,282.8 494.5,284.5 492.8,280.2Z" fill="#ece7f2" stroke="#5a5a5a" stroke-width="0.5"/>
<path d="M485.3,288.4 487.3,288.4 490.7,289 492.8,287.9 492.8,280.2 494.5,284.5 497.1,282.8 499.3,281.3 503.5,282.4 505.7,280 507.8,277.7 513,274.5 517,275.1 518.5,281.7 520.5,284.7 522.8,285 520.7,302.1 482.1,302.1Z" fill="#3690c0" stroke="#5a5a5a" stroke-width="0.5"/>
</g>
<mask id="mAF" maskUnits="userSpaceOnUse" x="0" y="0" width="1200" height="500"><rect width="1200" height="500" fill="#fff"/><path d="M431.4,167.9 421.7,167.9 407.2,169.4 407.2,182.3 413.6,181.6 422.2,181.6 422.2,178 424.3,176.9 424.3,171.6 431.4,171.6ZM447.4,157.5 446.4,154.5 445.3,152.1 445.7,148.1 468.4,147 468.4,148.3 468,150.2 467.6,153.2 466.1,154.7 470.3,158.8 471.2,162 471.2,170.5 470.3,171.2 472.1,175 474.8,175.9 475.5,176.9 466.1,182.5 462.2,185.7 459.2,186.1 456.9,186.6 456.6,185.1 453.9,183.1 439.5,173.9 431.4,168.8 431.4,165.8 435,164.1 438.6,163.2 442.1,161.1 443.8,159.8ZM474.6,156.4 475.7,154.5 504,156.6 504,159.6 503.5,164.7 503.5,180.1 503.5,184.4 501.4,184.4 501.4,185.5 484.3,177.1 482.1,178 480,179.1 478.9,177.6 475.5,176.9 474.8,175.9 472.1,175 470.3,171.2 471.2,170.5 471.2,162 470.3,162.4 472.1,161.3 471.8,159.2 474.6,157.9ZM500.5,206.9 503.5,205.4 506.8,206.9 510,207.1 513.2,206.2 517.5,202 519.6,201.7 521.1,201.1 522.6,205.8 523,206.9 523,208.8 520.7,210.5 522.8,211.8 525,215.4 525.6,216.5 522.8,218.2 521.5,219.1 519,219.5 516.8,219.1 516,219.7 514.3,218.2 510.8,218 508.7,216.3 506.5,214.6 503.8,211.2 500.3,208.4ZM523,208.8 523,206.9 523.5,204.7 524.5,204.3 525.6,201.7 527.5,200 528.2,196.6 530.3,196.8 532.5,196.2 535.7,196.4 538.2,198.5 540.6,200.5 539.5,203.5 541.9,203.7 542.1,204.7 544.9,207.9 550.4,210.1 552.6,210.1 546.4,216.5 544.2,216.7 542.1,218 539.7,218.9 538.2,218.9 535.7,218.6 532.5,219.5 528.8,217.8 527.1,217.6 526,215.9 525,215.4 522.8,211.8 520.7,210.5ZM513.4,230.2 515.3,229.3 516,230.8 515.3,232.3 516,234.5 513.8,236.8 512.5,234.3 512.1,233.2ZM470.3,218.9 471,222.3 474.2,222.3 478.5,222.5 478.5,224.6 481.1,225.3 480,228.3 481.1,230 480.6,231.5 477.8,232.1 475.7,231.5 474.8,233.2 473.8,235.5 467.1,227.2 467.1,218.6ZM507.8,290.5 508.9,289 511.3,288.4 513,289.9 512.1,292 510,292.7 508.7,292ZM516.4,282.4 518.3,282.6 518.7,284.5 517.2,285.6 516,284.5Z" fill="#000" stroke="#000" stroke-width="2.5"/></mask>
<path d="M437.4,150.6 438.6,150.4 441.4,151.9 443.8,151.7 445.3,152.1 447.4,151.7 450,150.4 452.1,149.1 455.4,148.9 457.5,148.5 460.7,148.5 463.5,147.8 466.5,148.3 468.4,148.3 470.3,147.4 471.8,147.6 472.3,148.7 473.8,148.1 472.7,149.3 472.7,150.4 473.8,151.9 472.5,153.2 471.6,153.8 472.1,154.9 473.3,155.1 474.6,156.4 477,157 479.8,157.3 482.6,158.1 483.6,159.8 486.4,160.9 489.4,162 492,162 493,160.9 492.6,159.2 494.1,157.5 496.3,156.8 499,157.5 499.7,158.3 503.3,159 504,159.6 507.8,160 511.9,161.1 513.6,160.5 516.2,159.6 519,160.2 519.8,160.7 522.4,160.9 523.2,160.2 524.7,164.1 524.1,165.8 523.7,167.3 523.2,167.7 522.4,166.7 521.1,165.4 520,163.7 519.6,163.2 519.4,164.7 520.2,166.2 521.3,167.7 522.6,169.7 523.5,171.4 524.7,173.7 526.2,175.9 526.7,177.4 528.6,179.7 529.7,182.3 530.1,184.8 531.6,187.4 532.7,188.7 533.5,191.7 534.4,193.4 535.7,194 538.2,196.6 539.7,198.1 541.2,199.8 542.7,200.7 542.3,202.4 543.4,203.7 545.5,205 547.7,204.5 549.8,204.1 552.2,203.5 554.7,203 557.7,202.2 559.4,201.7 559.4,204.5 559,205.2 558.4,207.5 557.3,209.9 555.8,212.7 554.1,215.9 552.2,218.2 549.8,221 547.7,222.9 544.4,224.8 542.3,226.6 540,229.1 538.9,230.8 537.6,231.7 535.9,234.3 534.8,236.4 534,237.3 532.9,239.8 533.1,241.1 534.4,241.7 534,243.7 534.6,244.3 535.5,248.8 536.3,249.2 536.7,250.3 536.5,252.4 537,254.2 537,257.6 537.4,258.6 536.7,260.1 534.6,262.9 530.1,264.8 527.7,267.2 525.4,269.1 524.5,270 525.4,272.8 525.8,274.5 526.2,274.5 526,276.6 525.8,277.5 526.2,277.9 526,278.7 525,279.6 523.2,280.2 520.7,281.5 519.8,282.2 520,283 520.5,283.2 519.8,286 519.6,287.7 519,288.8 517.5,289.9 517,290.1 516.2,291.2 515.5,292.2 514.5,293.7 511.9,296.1 510.4,297.4 508.9,298.2 506.5,299.1 505.5,299.3 505.3,299.7 504,299.5 502.9,299.9 500.5,299.5 498.4,299.7 496,300.6 494.3,300.8 493,301.6 492,301.6 491.1,301 490.5,300.8 489.4,299.9 489.4,300.1 489,299.7 489.2,298.4 488.3,296.9 489,296.5 489,295 487.7,292.9 486.6,291.2 484.9,288.4 483.4,286.7 482.6,285.2 482.1,283 481.5,281.5 480.8,278.3 480.8,275.8 480.6,274.5 479.8,273.6 478.7,271.9 477.4,269.3 477,267.8 475.3,265.9 475.1,264.2 474.8,262.9 475.9,259.1 476.1,258 476.8,256.1 478.5,253.9 479.1,252.9 479.3,251.4 479.3,250.1 478.7,249.4 478.1,248.2 477.6,246.9 477.6,246.2 478.3,245.6 477.2,242.2 476.1,240.7 476.3,240.2 476.1,239.6 475.5,237.9 473.8,235.5 471.6,233.6 470.1,231.7 468.8,229.6 468.8,228.9 469.3,228.3 469.9,226.6 470.3,225.1 469.9,224.6 470.6,222.3 471,220.6 470.1,219.3 469.1,218.9 468.6,217.8 468.2,217.6 468.2,216.9 466.1,217.8 465.2,217.6 464.3,218.2 462.6,218 461.6,216.7 460.7,215.2 459.2,213.7 457.7,213.7 455.8,213.7 454.1,214.2 452.4,214.6 451.7,214.8 450,215.4 448.9,215.9 447.6,216.5 445.8,217.1 443.8,216.5 442.9,216.5 441.4,216.1 440.1,216.1 437.6,216.5 436.1,217.1 433.9,218 433.5,217.8 432.9,217.8 430.7,216.5 428.8,215.2 426.9,214.2 425.6,212.7 424.9,212.2 423.4,211.6 422.4,210.5 421.9,209.7 421.7,208.2 420.7,206.9 419.8,206 418.7,205.4 418.5,204.3 418.3,203.9 417.7,203.7 416.4,202.6 415.5,202.6 415.1,202 415.1,201.5 414.4,201.1 414.2,200.7 414,199 414.2,198.1 413.4,196.4 412.3,195.8 413.2,195.3 414.2,193.8 414.7,192.8 415.5,188.5 415.1,186.3 414.9,185.3 415.1,184.2 414.7,183.1 413.4,182.3 413.6,181.4 414.2,179.5 415.1,178.6 415.7,176.5 417,175 417.7,174.8 418.3,173.5 419.2,170.9 420.4,170.3 421.9,168.2 423,167.3 424.9,167.1 426.7,165.6 427.7,165 429.4,163.2 429,160.5 429.9,158.8 430.1,157.5 431.4,156.2 433.5,155.1 435.2,154.3 436.7,152.1Z" fill="none" stroke="#4a4a4a" stroke-width="0.7" stroke-linejoin="round" mask="url(#mAF)"/>
<mask id="miAF" maskUnits="userSpaceOnUse" x="0" y="0" width="1200" height="500"><path d="M431.4,167.9 421.7,167.9 407.2,169.4 407.2,182.3 413.6,181.6 422.2,181.6 422.2,178 424.3,176.9 424.3,171.6 431.4,171.6ZM447.4,157.5 446.4,154.5 445.3,152.1 445.7,148.1 468.4,147 468.4,148.3 468,150.2 467.6,153.2 466.1,154.7 470.3,158.8 471.2,162 471.2,170.5 470.3,171.2 472.1,175 474.8,175.9 475.5,176.9 466.1,182.5 462.2,185.7 459.2,186.1 456.9,186.6 456.6,185.1 453.9,183.1 439.5,173.9 431.4,168.8 431.4,165.8 435,164.1 438.6,163.2 442.1,161.1 443.8,159.8ZM474.6,156.4 475.7,154.5 504,156.6 504,159.6 503.5,164.7 503.5,180.1 503.5,184.4 501.4,184.4 501.4,185.5 484.3,177.1 482.1,178 480,179.1 478.9,177.6 475.5,176.9 474.8,175.9 472.1,175 470.3,171.2 471.2,170.5 471.2,162 470.3,162.4 472.1,161.3 471.8,159.2 474.6,157.9ZM500.5,206.9 503.5,205.4 506.8,206.9 510,207.1 513.2,206.2 517.5,202 519.6,201.7 521.1,201.1 522.6,205.8 523,206.9 523,208.8 520.7,210.5 522.8,211.8 525,215.4 525.6,216.5 522.8,218.2 521.5,219.1 519,219.5 516.8,219.1 516,219.7 514.3,218.2 510.8,218 508.7,216.3 506.5,214.6 503.8,211.2 500.3,208.4ZM523,208.8 523,206.9 523.5,204.7 524.5,204.3 525.6,201.7 527.5,200 528.2,196.6 530.3,196.8 532.5,196.2 535.7,196.4 538.2,198.5 540.6,200.5 539.5,203.5 541.9,203.7 542.1,204.7 544.9,207.9 550.4,210.1 552.6,210.1 546.4,216.5 544.2,216.7 542.1,218 539.7,218.9 538.2,218.9 535.7,218.6 532.5,219.5 528.8,217.8 527.1,217.6 526,215.9 525,215.4 522.8,211.8 520.7,210.5ZM513.4,230.2 515.3,229.3 516,230.8 515.3,232.3 516,234.5 513.8,236.8 512.5,234.3 512.1,233.2ZM470.3,218.9 471,222.3 474.2,222.3 478.5,222.5 478.5,224.6 481.1,225.3 480,228.3 481.1,230 480.6,231.5 477.8,232.1 475.7,231.5 474.8,233.2 473.8,235.5 467.1,227.2 467.1,218.6ZM507.8,290.5 508.9,289 511.3,288.4 513,289.9 512.1,292 510,292.7 508.7,292ZM516.4,282.4 518.3,282.6 518.7,284.5 517.2,285.6 516,284.5Z" fill="#fff" stroke="#fff" stroke-width="1"/></mask>
<path d="M437.4,150.6 438.6,150.4 441.4,151.9 443.8,151.7 445.3,152.1 447.4,151.7 450,150.4 452.1,149.1 455.4,148.9 457.5,148.5 460.7,148.5 463.5,147.8 466.5,148.3 468.4,148.3 470.3,147.4 471.8,147.6 472.3,148.7 473.8,148.1 472.7,149.3 472.7,150.4 473.8,151.9 472.5,153.2 471.6,153.8 472.1,154.9 473.3,155.1 474.6,156.4 477,157 479.8,157.3 482.6,158.1 483.6,159.8 486.4,160.9 489.4,162 492,162 493,160.9 492.6,159.2 494.1,157.5 496.3,156.8 499,157.5 499.7,158.3 503.3,159 504,159.6 507.8,160 511.9,161.1 513.6,160.5 516.2,159.6 519,160.2 519.8,160.7 522.4,160.9 523.2,160.2 524.7,164.1 524.1,165.8 523.7,167.3 523.2,167.7 522.4,166.7 521.1,165.4 520,163.7 519.6,163.2 519.4,164.7 520.2,166.2 521.3,167.7 522.6,169.7 523.5,171.4 524.7,173.7 526.2,175.9 526.7,177.4 528.6,179.7 529.7,182.3 530.1,184.8 531.6,187.4 532.7,188.7 533.5,191.7 534.4,193.4 535.7,194 538.2,196.6 539.7,198.1 541.2,199.8 542.7,200.7 542.3,202.4 543.4,203.7 545.5,205 547.7,204.5 549.8,204.1 552.2,203.5 554.7,203 557.7,202.2 559.4,201.7 559.4,204.5 559,205.2 558.4,207.5 557.3,209.9 555.8,212.7 554.1,215.9 552.2,218.2 549.8,221 547.7,222.9 544.4,224.8 542.3,226.6 540,229.1 538.9,230.8 537.6,231.7 535.9,234.3 534.8,236.4 534,237.3 532.9,239.8 533.1,241.1 534.4,241.7 534,243.7 534.6,244.3 535.5,248.8 536.3,249.2 536.7,250.3 536.5,252.4 537,254.2 537,257.6 537.4,258.6 536.7,260.1 534.6,262.9 530.1,264.8 527.7,267.2 525.4,269.1 524.5,270 525.4,272.8 525.8,274.5 526.2,274.5 526,276.6 525.8,277.5 526.2,277.9 526,278.7 525,279.6 523.2,280.2 520.7,281.5 519.8,282.2 520,283 520.5,283.2 519.8,286 519.6,287.7 519,288.8 517.5,289.9 517,290.1 516.2,291.2 515.5,292.2 514.5,293.7 511.9,296.1 510.4,297.4 508.9,298.2 506.5,299.1 505.5,299.3 505.3,299.7 504,299.5 502.9,299.9 500.5,299.5 498.4,299.7 496,300.6 494.3,300.8 493,301.6 492,301.6 491.1,301 490.5,300.8 489.4,299.9 489.4,300.1 489,299.7 489.2,298.4 488.3,296.9 489,296.5 489,295 487.7,292.9 486.6,291.2 484.9,288.4 483.4,286.7 482.6,285.2 482.1,283 481.5,281.5 480.8,278.3 480.8,275.8 480.6,274.5 479.8,273.6 478.7,271.9 477.4,269.3 477,267.8 475.3,265.9 475.1,264.2 474.8,262.9 475.9,259.1 476.1,258 476.8,256.1 478.5,253.9 479.1,252.9 479.3,251.4 479.3,250.1 478.7,249.4 478.1,248.2 477.6,246.9 477.6,246.2 478.3,245.6 477.2,242.2 476.1,240.7 476.3,240.2 476.1,239.6 475.5,237.9 473.8,235.5 471.6,233.6 470.1,231.7 468.8,229.6 468.8,228.9 469.3,228.3 469.9,226.6 470.3,225.1 469.9,224.6 470.6,222.3 471,220.6 470.1,219.3 469.1,218.9 468.6,217.8 468.2,217.6 468.2,216.9 466.1,217.8 465.2,217.6 464.3,218.2 462.6,218 461.6,216.7 460.7,215.2 459.2,213.7 457.7,213.7 455.8,213.7 454.1,214.2 452.4,214.6 451.7,214.8 450,215.4 448.9,215.9 447.6,216.5 445.8,217.1 443.8,216.5 442.9,216.5 441.4,216.1 440.1,216.1 437.6,216.5 436.1,217.1 433.9,218 433.5,217.8 432.9,217.8 430.7,216.5 428.8,215.2 426.9,214.2 425.6,212.7 424.9,212.2 423.4,211.6 422.4,210.5 421.9,209.7 421.7,208.2 420.7,206.9 419.8,206 418.7,205.4 418.5,204.3 418.3,203.9 417.7,203.7 416.4,202.6 415.5,202.6 415.1,202 415.1,201.5 414.4,201.1 414.2,200.7 414,199 414.2,198.1 413.4,196.4 412.3,195.8 413.2,195.3 414.2,193.8 414.7,192.8 415.5,188.5 415.1,186.3 414.9,185.3 415.1,184.2 414.7,183.1 413.4,182.3 413.6,181.4 414.2,179.5 415.1,178.6 415.7,176.5 417,175 417.7,174.8 418.3,173.5 419.2,170.9 420.4,170.3 421.9,168.2 423,167.3 424.9,167.1 426.7,165.6 427.7,165 429.4,163.2 429,160.5 429.9,158.8 430.1,157.5 431.4,156.2 433.5,155.1 435.2,154.3 436.7,152.1Z" fill="none" stroke="#fff" stroke-width="2.5" mask="url(#miAF)"/>
<clipPath id="cEA"><path d="M438,150.2 440.6,148.7 445.5,148.7 446.6,147.2 448.5,146.8 450.4,144.2 449.4,142.7 451.9,140.1 456.9,137.6 456.9,136.5 456.6,135 459.6,134.4 462.9,135 466.1,133.5 468.8,132.2 471.8,133.3 472.5,135.4 474,136.5 476.6,138.2 479.8,139.5 483.4,141.6 484.3,144 483.4,145.9 484.5,146.1 485.6,145.1 486.6,143.8 485.3,142.3 486.4,140.6 489.4,141.4 488.6,140.1 484.3,138.4 481.3,136.9 479.1,134.2 476.3,132 476.6,130.1 479.3,129.4 479.1,130.7 480.6,130.5 482.6,132.4 484.3,134.2 487.5,135.2 489.6,136.5 491.5,137.6 491.5,139.5 491.8,141 492.8,142.5 494.5,144.2 495.2,145.3 496.5,148.5 498.2,149.3 499.7,149.1 498.8,146.8 499.9,145.9 501.4,145.5 498.8,143.8 498.4,141 499.9,141.2 501.4,140.1 503.5,139.7 505.7,139.9 506.1,141 506.1,142.7 507.4,144 506.3,145.3 508.5,146.1 508.5,148.1 510.6,148.7 513.6,150 515.5,148.7 518.1,149.1 520.7,150 523.9,148.5 527.1,148.5 526.7,150.4 526.9,152.3 526,154.7 525.2,156.6 524.1,158.8 523.2,160.2 524.7,164.1 525,167.1 526.2,168.6 528.4,172 530.3,175.2 533.3,179.5 534,181.2 535.7,184 537.4,186.1 539.5,189.8 540.8,192.1 541.7,194.9 542.1,197 542.9,200 544.2,200.2 546.4,199.8 549.6,198.5 552.8,197.3 556,195.8 559.2,194.7 561.8,193.6 562.4,191.9 565.7,190.8 568.4,189.8 570.4,188.9 571.6,187.2 573.8,186.6 573.8,184.6 575.3,183.4 577.4,181.2 578.1,179.5 576.4,178 574.6,176.5 572.1,175.9 570.8,173.9 570.6,172.2 570.8,170.9 569.9,171.6 568.9,172.7 567.4,173.9 565.7,175.7 562.7,175.4 560.5,175.2 560.5,173.3 560.3,171.8 559.7,171.4 558.8,172.7 558.8,174.4 557.7,172.4 556.9,170.3 555.4,168.6 554.1,167.3 553.7,166 552.6,165.2 552.8,163.5 553.9,163 554.9,162.4 556.2,163 557.5,163.7 558.6,165 560.1,167.5 562.4,168.4 564.6,169.9 566.7,170.5 568.9,170.3 570.6,169.2 572.1,169.9 572.7,172 575.3,172.4 577.4,172.9 581.9,173.3 583.9,173.3 587.1,173.1 589.2,173.1 592.4,172.9 593.5,174.2 594.6,176.1 596.1,176.5 597.3,177.6 596.7,178.9 597.8,179.3 599.1,180.4 601,182.3 602.9,182.7 604.6,181.6 605.5,179.5 606.1,181.2 605.9,183.4 605.9,186.6 606.3,188.7 607,190.8 607.4,193 608.3,195.1 609.3,197.3 610.2,199.6 611.1,201.5 612.3,203.7 613.4,206 614.7,208.8 616,209.9 617.3,208.8 617.9,207.7 619.6,207.3 619.8,205.2 621.1,205.2 620.9,202.6 621.8,199.4 622,198.1 621.6,194.9 623.3,193.4 624.1,192.3 626,191.7 626.5,190.6 628.4,189.3 630.1,188.1 632.3,185.7 633.8,184.6 635.3,184 636.1,182.1 636.3,181 638.7,180.8 640.4,181 641.9,180.4 643.6,179.9 644.3,178.6 645.8,178.9 646.6,179.5 647,181 647.7,182.9 649,184.2 650,185.5 650.7,187.2 652.2,188.3 652,190.8 652,193 652.8,193.2 654.1,193.6 656.7,191.7 658.2,191.1 659,192.8 659.2,194.5 659.7,196.2 660.1,198.3 661.2,200.2 661.4,202.6 661,204.3 661,206 660.5,207.9 660.5,209.7 661.6,210.3 662.5,211.8 663.5,213.3 664.4,213.5 664.8,215.9 665,218 665.7,218.9 667,221 668.2,222.3 671.5,224.4 673.2,224.2 672.5,222.1 671.5,219.7 671.5,217.6 671,215.9 669.5,214.4 667.8,213.1 666.3,212.4 664.8,210.9 664.6,209 664,207.5 662.5,206 662.5,203.9 663.1,201.7 664,199.8 664.4,198.5 665.5,198.3 666.1,200 667,200 668.9,201.1 669.7,202.2 670.8,203.5 671.7,204.5 673.6,204.7 674.5,205.4 674.5,207.5 674.5,208.8 675.1,208.8 676.8,207.1 678.3,206.2 679.8,205 681.5,203.9 683.2,202.8 683.9,201.5 683.9,199.6 684.1,197.7 683.2,194.5 681.9,192.8 679.8,191.1 678.3,189.6 676.8,187.6 676.4,186.3 677,184.8 678.3,183.6 679.6,182.3 681.3,181.2 683.2,181 684.5,181.2 685.2,181.4 686,183.8 686.7,183.8 686.9,181.9 688.4,181.2 690.5,180.6 692.4,179.7 693.3,178.9 694.6,179.5 696.7,178.4 699.5,178.2 701.2,176.7 702.7,174.8 704.2,174.2 705.9,172.9 706.1,171.6 706.8,170.5 707.9,169.4 708.7,167.5 710.2,166 710.6,164.5 711.1,163.2 709.8,162.2 711.1,161.1 709.8,159.2 708.7,158.1 708.9,156.8 708.1,155.3 707.4,153.8 705.7,152.8 705.3,152.3 706.4,151.1 708.3,150 709.4,148.9 712.4,148.3 711.7,147.2 709.6,146.8 708.3,146.3 706.6,147.6 704.9,147.6 704.6,147 704.2,145.9 702.7,145.3 702.1,144.2 701.9,143.8 702.7,143.4 704.9,143.4 705.9,142.1 708.3,141 709.1,139.9 711.1,139.9 711.9,140.6 711.1,141.4 710.4,142.5 709.6,144 710.6,144 711.7,142.9 713.4,142.3 716.2,141.9 717.1,142.5 718.4,142.7 718.6,144 718.1,145.1 717.1,145.7 718.6,146.6 720.1,146.6 721.4,148.1 720.9,150.2 721.1,151.7 720.5,153 722,153.2 723.1,153 725.2,152.5 726.3,152.1 727.1,151.3 727.4,149.6 727.1,148.1 726.3,146.6 725,145.1 724.1,144 723.1,143.1 723.1,142.1 724.8,141.6 726.3,140.6 727.8,139.7 728,138.2 729.1,136.9 729.9,136.7 731.2,135.7 733.3,134.8 735.3,135.7 737.6,134.6 740.2,133.3 743,130.9 744.9,129 746.6,126.7 747.9,125 750.3,123.5 750.9,121.1 750.9,118.5 752,116 752.8,114.5 752.4,113.2 749.6,111.3 746.6,112.1 744.1,111.9 743.6,110.6 742.3,110.2 744.9,107 747.1,105.9 750.3,103.6 753.3,101.6 755.4,100.4 757.3,100.1 761.8,100.1 765.3,100.4 768.9,100.1 773,99.7 776.4,101 780.3,100.1 782,99.3 785.6,95.7 789.5,95 793.3,94.8 792.9,97.1 795.9,96.1 800.2,93.5 801.2,94.6 799.1,96.7 796.5,98.4 793.3,100.6 790.5,102.5 787.3,103.6 785.8,105.3 784.1,108.5 783.2,111.7 784.1,114.9 785.6,118.3 788.4,116.6 789.7,114 792.7,112.8 792.9,111.1 796.5,109.6 797.2,107.2 799.7,107 798,106.1 798.7,103.6 800.2,102.1 800.6,100.1 803.8,98.9 806.8,98 809.4,97.6 813.7,98.2 815.6,98 819.2,96.7 822,95.2 825,94.2 828.2,93.3 830.4,93.3 833.8,92.9 834.4,91.8 832.3,89.4 831.4,89 833.2,88.2 835.5,88.2 835.5,79.6 832.7,78.8 827.4,77.9 822.7,77.7 815.4,77.3 813.7,78.3 808.5,78.3 806.2,78.5 799.1,78.1 795.2,78.3 794.6,77.3 792.2,75.5 789.5,75.3 783.5,75.1 776.4,75.5 772.1,74 770.6,72.8 764.8,72.6 757.8,72.6 752.2,71.7 749.2,72.1 748.3,73.4 745.1,74.5 741.5,74 735.5,74.3 731.6,75.5 730.3,75.1 727.8,74.9 726.1,73 727.1,71.9 725.9,70.8 721.8,69.8 717.1,69.6 713.9,71.1 712.1,70.8 705.3,70.8 703.4,69.8 697.8,69.6 692.9,70 692,68.9 689.2,68.7 686.2,68.1 684.3,68.5 686.9,67 690.3,65.1 693.3,64.8 692.9,63.8 689.4,63.1 681.7,63.1 678.3,61.9 673.4,61 666.3,62.7 665.2,63.6 661,64 657.1,64.8 649.8,65.1 643.8,65.7 638.5,66.6 636.1,67.8 634.2,68.9 636.3,69.8 633.1,70.4 627.8,69.8 622.4,70.2 622.4,72.8 617.1,72.3 612.8,74.3 611.3,72.3 609.6,71.5 607.4,73.6 605.9,71.5 601,70.4 597.8,71.5 596.7,74 593.3,75.3 592.6,77.5 594.1,78.8 591.4,79.6 587.1,79 580.6,77.9 578.5,78.5 576.4,79.8 573.1,80.7 568.9,80.9 565,79.8 564.6,81.3 561.4,80.7 553.9,82.4 549.6,81.3 547.4,80.7 544.4,81.7 544.7,83.2 542.7,85.2 540.4,85.2 537.8,86 535.7,88.4 531.4,89 528.2,89.2 524.5,89.2 524.5,87.1 520.7,84.7 523.9,84.7 530.3,85.6 536.1,85.6 538.2,84.3 535.7,82.2 531.4,80.9 526,79.2 521.3,78.8 516.4,77.9 513.8,77.3 510.4,75.3 506.8,75.5 505,75.1 502.5,75.5 498.2,76.4 495.2,77.3 492.2,77.7 489.2,77.9 486.4,79.4 483.2,80.7 480.6,82 478.5,83.7 477.4,85.4 476.1,87.1 474,89 471.8,90.5 469.3,91.6 467.1,92.2 463.9,93.3 461.4,94.6 460.7,96.7 460.9,98.9 462,101 462.4,101.9 464.6,102.9 467.3,102.9 470.1,101.2 472.3,100.6 472.7,99.1 473.8,100.4 474.4,101.2 475.1,102.5 475.5,104 476.6,105.5 477.6,106.8 477.2,108.1 477.8,108.7 480.4,108.7 480.6,107.8 484.1,107.2 485.3,106.1 485.3,104.4 485.8,103.1 485.6,101.9 487.3,101.4 489.2,100.4 490,99.5 489.6,98.4 487.3,97.6 487.1,96.1 487.1,94.6 487.9,93.1 489.4,92.2 491.3,91.4 493.9,90.7 495.8,89.4 496,87.7 497.8,86.9 500.3,86.5 501.8,86.5 503.8,87.3 504.4,88.2 503.8,89 502.5,89.9 499.9,90.7 498,91.8 495.8,92.9 495.8,95 496,96.7 496,97.8 498,98.4 499.7,99.1 501.8,98.6 504.6,98.2 506.8,97.8 509.5,97.8 511.7,97.8 513.4,98.6 514.7,99.1 512.3,99.1 511.3,99.3 510,99.9 506.8,99.7 504.6,99.9 502.5,100.1 500.3,100.6 500.3,101.6 501,102.5 502.3,102.5 502,103.6 502.3,104.6 501.6,105.3 499.9,105.3 498.4,104.2 496.3,104.4 495.2,105.5 495,106.8 495.2,107.8 495.4,109.1 494.1,109.8 492.6,110.8 491.8,111.1 490,110.8 489.8,110.2 487.7,110 485.1,110.6 483,111.3 480.4,111.9 479.1,111.5 476.8,110.8 474.8,111.5 473.3,111.7 473.3,110.8 471.4,110.2 471.4,109.1 472.5,108.3 472.1,107 473.3,106.3 472.1,105.5 472.7,103.8 471.2,104.2 470.1,104.8 468.4,105.1 467.3,106.3 467.6,108.5 468.4,109.8 468.6,111.1 469.3,111.9 467.6,112.8 465.2,112.3 463.1,112.8 460.7,113.2 460.1,114.3 459.4,115.5 458.1,116.8 457.1,117.5 455.4,117.9 453.4,118.3 453.4,119.8 452.1,120.5 450.4,120.9 450.2,121.5 448.3,121.7 447.2,121.1 445.9,120.9 446.6,122.8 444.6,123.2 443.1,122.8 441,123 439.7,123.7 440.6,124.7 442.5,125.2 444.6,126 445.3,126.7 445.9,127.3 447.4,128.4 447.6,129.9 447.4,131.8 446.8,134.2 444.6,134.4 442.3,134.2 440.1,134.4 437.6,133.9 435,133.9 432.9,133.7 430.1,135 430.7,136.1 430.9,137.6 431.2,139.1 430.7,141.2 429.9,142.9 429.7,144.4 431.2,145.1 431.2,146.1 430.9,148.1 433.1,148.1 434.2,147.6 436.3,148.3 436.7,149.3Z"/></clipPath>
<g clip-path="url(#cEA)">
<path d="M438,150.2 440.6,148.7 445.5,148.7 446.6,147.2 448.5,146.8 450.4,144.2 449.4,142.7 451.9,140.1 456.9,137.6 456.9,136.5 456.6,135 459.6,134.4 462.9,135 466.1,133.5 468.8,132.2 471.8,133.3 472.5,135.4 474,136.5 476.6,138.2 479.8,139.5 483.4,141.6 484.3,144 483.4,145.9 484.5,146.1 485.6,145.1 486.6,143.8 485.3,142.3 486.4,140.6 489.4,141.4 488.6,140.1 484.3,138.4 481.3,136.9 479.1,134.2 476.3,132 476.6,130.1 479.3,129.4 479.1,130.7 480.6,130.5 482.6,132.4 484.3,134.2 487.5,135.2 489.6,136.5 491.5,137.6 491.5,139.5 491.8,141 492.8,142.5 494.5,144.2 495.2,145.3 496.5,148.5 498.2,149.3 499.7,149.1 498.8,146.8 499.9,145.9 501.4,145.5 498.8,143.8 498.4,141 499.9,141.2 501.4,140.1 503.5,139.7 505.7,139.9 506.1,141 506.1,142.7 507.4,144 506.3,145.3 508.5,146.1 508.5,148.1 510.6,148.7 513.6,150 515.5,148.7 518.1,149.1 520.7,150 523.9,148.5 527.1,148.5 526.7,150.4 526.9,152.3 526,154.7 525.2,156.6 524.1,158.8 523.2,160.2 524.7,164.1 525,167.1 526.2,168.6 528.4,172 530.3,175.2 533.3,179.5 534,181.2 535.7,184 537.4,186.1 539.5,189.8 540.8,192.1 541.7,194.9 542.1,197 542.9,200 544.2,200.2 546.4,199.8 549.6,198.5 552.8,197.3 556,195.8 559.2,194.7 561.8,193.6 562.4,191.9 565.7,190.8 568.4,189.8 570.4,188.9 571.6,187.2 573.8,186.6 573.8,184.6 575.3,183.4 577.4,181.2 578.1,179.5 576.4,178 574.6,176.5 572.1,175.9 570.8,173.9 570.6,172.2 570.8,170.9 569.9,171.6 568.9,172.7 567.4,173.9 565.7,175.7 562.7,175.4 560.5,175.2 560.5,173.3 560.3,171.8 559.7,171.4 558.8,172.7 558.8,174.4 557.7,172.4 556.9,170.3 555.4,168.6 554.1,167.3 553.7,166 552.6,165.2 552.8,163.5 553.9,163 554.9,162.4 556.2,163 557.5,163.7 558.6,165 560.1,167.5 562.4,168.4 564.6,169.9 566.7,170.5 568.9,170.3 570.6,169.2 572.1,169.9 572.7,172 575.3,172.4 577.4,172.9 581.9,173.3 583.9,173.3 587.1,173.1 589.2,173.1 592.4,172.9 593.5,174.2 594.6,176.1 596.1,176.5 597.3,177.6 596.7,178.9 597.8,179.3 599.1,180.4 601,182.3 602.9,182.7 604.6,181.6 605.5,179.5 606.1,181.2 605.9,183.4 605.9,186.6 606.3,188.7 607,190.8 607.4,193 608.3,195.1 609.3,197.3 610.2,199.6 611.1,201.5 612.3,203.7 613.4,206 614.7,208.8 616,209.9 617.3,208.8 617.9,207.7 619.6,207.3 619.8,205.2 621.1,205.2 620.9,202.6 621.8,199.4 622,198.1 621.6,194.9 623.3,193.4 624.1,192.3 626,191.7 626.5,190.6 628.4,189.3 630.1,188.1 632.3,185.7 633.8,184.6 635.3,184 636.1,182.1 636.3,181 638.7,180.8 640.4,181 641.9,180.4 643.6,179.9 644.3,178.6 645.8,178.9 646.6,179.5 647,181 647.7,182.9 649,184.2 650,185.5 650.7,187.2 652.2,188.3 652,190.8 652,193 652.8,193.2 654.1,193.6 656.7,191.7 658.2,191.1 659,192.8 659.2,194.5 659.7,196.2 660.1,198.3 661.2,200.2 661.4,202.6 661,204.3 661,206 660.5,207.9 660.5,209.7 661.6,210.3 662.5,211.8 663.5,213.3 664.4,213.5 664.8,215.9 665,218 665.7,218.9 667,221 668.2,222.3 671.5,224.4 673.2,224.2 672.5,222.1 671.5,219.7 671.5,217.6 671,215.9 669.5,214.4 667.8,213.1 666.3,212.4 664.8,210.9 664.6,209 664,207.5 662.5,206 662.5,203.9 663.1,201.7 664,199.8 664.4,198.5 665.5,198.3 666.1,200 667,200 668.9,201.1 669.7,202.2 670.8,203.5 671.7,204.5 673.6,204.7 674.5,205.4 674.5,207.5 674.5,208.8 675.1,208.8 676.8,207.1 678.3,206.2 679.8,205 681.5,203.9 683.2,202.8 683.9,201.5 683.9,199.6 684.1,197.7 683.2,194.5 681.9,192.8 679.8,191.1 678.3,189.6 676.8,187.6 676.4,186.3 677,184.8 678.3,183.6 679.6,182.3 681.3,181.2 683.2,181 684.5,181.2 685.2,181.4 686,183.8 686.7,183.8 686.9,181.9 688.4,181.2 690.5,180.6 692.4,179.7 693.3,178.9 694.6,179.5 696.7,178.4 699.5,178.2 701.2,176.7 702.7,174.8 704.2,174.2 705.9,172.9 706.1,171.6 706.8,170.5 707.9,169.4 708.7,167.5 710.2,166 710.6,164.5 711.1,163.2 709.8,162.2 711.1,161.1 709.8,159.2 708.7,158.1 708.9,156.8 708.1,155.3 707.4,153.8 705.7,152.8 705.3,152.3 706.4,151.1 708.3,150 709.4,148.9 712.4,148.3 711.7,147.2 709.6,146.8 708.3,146.3 706.6,147.6 704.9,147.6 704.6,147 704.2,145.9 702.7,145.3 702.1,144.2 701.9,143.8 702.7,143.4 704.9,143.4 705.9,142.1 708.3,141 709.1,139.9 711.1,139.9 711.9,140.6 711.1,141.4 710.4,142.5 709.6,144 710.6,144 711.7,142.9 713.4,142.3 716.2,141.9 717.1,142.5 718.4,142.7 718.6,144 718.1,145.1 717.1,145.7 718.6,146.6 720.1,146.6 721.4,148.1 720.9,150.2 721.1,151.7 720.5,153 722,153.2 723.1,153 725.2,152.5 726.3,152.1 727.1,151.3 727.4,149.6 727.1,148.1 726.3,146.6 725,145.1 724.1,144 723.1,143.1 723.1,142.1 724.8,141.6 726.3,140.6 727.8,139.7 728,138.2 729.1,136.9 729.9,136.7 731.2,135.7 733.3,134.8 735.3,135.7 737.6,134.6 740.2,133.3 743,130.9 744.9,129 746.6,126.7 747.9,125 750.3,123.5 750.9,121.1 750.9,118.5 752,116 752.8,114.5 752.4,113.2 749.6,111.3 746.6,112.1 744.1,111.9 743.6,110.6 742.3,110.2 744.9,107 747.1,105.9 750.3,103.6 753.3,101.6 755.4,100.4 757.3,100.1 761.8,100.1 765.3,100.4 768.9,100.1 773,99.7 776.4,101 780.3,100.1 782,99.3 785.6,95.7 789.5,95 793.3,94.8 792.9,97.1 795.9,96.1 800.2,93.5 801.2,94.6 799.1,96.7 796.5,98.4 793.3,100.6 790.5,102.5 787.3,103.6 785.8,105.3 784.1,108.5 783.2,111.7 784.1,114.9 785.6,118.3 788.4,116.6 789.7,114 792.7,112.8 792.9,111.1 796.5,109.6 797.2,107.2 799.7,107 798,106.1 798.7,103.6 800.2,102.1 800.6,100.1 803.8,98.9 806.8,98 809.4,97.6 813.7,98.2 815.6,98 819.2,96.7 822,95.2 825,94.2 828.2,93.3 830.4,93.3 833.8,92.9 834.4,91.8 832.3,89.4 831.4,89 833.2,88.2 835.5,88.2 835.5,79.6 832.7,78.8 827.4,77.9 822.7,77.7 815.4,77.3 813.7,78.3 808.5,78.3 806.2,78.5 799.1,78.1 795.2,78.3 794.6,77.3 792.2,75.5 789.5,75.3 783.5,75.1 776.4,75.5 772.1,74 770.6,72.8 764.8,72.6 757.8,72.6 752.2,71.7 749.2,72.1 748.3,73.4 745.1,74.5 741.5,74 735.5,74.3 731.6,75.5 730.3,75.1 727.8,74.9 726.1,73 727.1,71.9 725.9,70.8 721.8,69.8 717.1,69.6 713.9,71.1 712.1,70.8 705.3,70.8 703.4,69.8 697.8,69.6 692.9,70 692,68.9 689.2,68.7 686.2,68.1 684.3,68.5 686.9,67 690.3,65.1 693.3,64.8 692.9,63.8 689.4,63.1 681.7,63.1 678.3,61.9 673.4,61 666.3,62.7 665.2,63.6 661,64 657.1,64.8 649.8,65.1 643.8,65.7 638.5,66.6 636.1,67.8 634.2,68.9 636.3,69.8 633.1,70.4 627.8,69.8 622.4,70.2 622.4,72.8 617.1,72.3 612.8,74.3 611.3,72.3 609.6,71.5 607.4,73.6 605.9,71.5 601,70.4 597.8,71.5 596.7,74 593.3,75.3 592.6,77.5 594.1,78.8 591.4,79.6 587.1,79 580.6,77.9 578.5,78.5 576.4,79.8 573.1,80.7 568.9,80.9 565,79.8 564.6,81.3 561.4,80.7 553.9,82.4 549.6,81.3 547.4,80.7 544.4,81.7 544.7,83.2 542.7,85.2 540.4,85.2 537.8,86 535.7,88.4 531.4,89 528.2,89.2 524.5,89.2 524.5,87.1 520.7,84.7 523.9,84.7 530.3,85.6 536.1,85.6 538.2,84.3 535.7,82.2 531.4,80.9 526,79.2 521.3,78.8 516.4,77.9 513.8,77.3 510.4,75.3 506.8,75.5 505,75.1 502.5,75.5 498.2,76.4 495.2,77.3 492.2,77.7 489.2,77.9 486.4,79.4 483.2,80.7 480.6,82 478.5,83.7 477.4,85.4 476.1,87.1 474,89 471.8,90.5 469.3,91.6 467.1,92.2 463.9,93.3 461.4,94.6 460.7,96.7 460.9,98.9 462,101 462.4,101.9 464.6,102.9 467.3,102.9 470.1,101.2 472.3,100.6 472.7,99.1 473.8,100.4 474.4,101.2 475.1,102.5 475.5,104 476.6,105.5 477.6,106.8 477.2,108.1 477.8,108.7 480.4,108.7 480.6,107.8 484.1,107.2 485.3,106.1 485.3,104.4 485.8,103.1 485.6,101.9 487.3,101.4 489.2,100.4 490,99.5 489.6,98.4 487.3,97.6 487.1,96.1 487.1,94.6 487.9,93.1 489.4,92.2 491.3,91.4 493.9,90.7 495.8,89.4 496,87.7 497.8,86.9 500.3,86.5 501.8,86.5 503.8,87.3 504.4,88.2 503.8,89 502.5,89.9 499.9,90.7 498,91.8 495.8,92.9 495.8,95 496,96.7 496,97.8 498,98.4 499.7,99.1 501.8,98.6 504.6,98.2 506.8,97.8 509.5,97.8 511.7,97.8 513.4,98.6 514.7,99.1 512.3,99.1 511.3,99.3 510,99.9 506.8,99.7 504.6,99.9 502.5,100.1 500.3,100.6 500.3,101.6 501,102.5 502.3,102.5 502,103.6 502.3,104.6 501.6,105.3 499.9,105.3 498.4,104.2 496.3,104.4 495.2,105.5 495,106.8 495.2,107.8 495.4,109.1 494.1,109.8 492.6,110.8 491.8,111.1 490,110.8 489.8,110.2 487.7,110 485.1,110.6 483,111.3 480.4,111.9 479.1,111.5 476.8,110.8 474.8,111.5 473.3,111.7 473.3,110.8 471.4,110.2 471.4,109.1 472.5,108.3 472.1,107 473.3,106.3 472.1,105.5 472.7,103.8 471.2,104.2 470.1,104.8 468.4,105.1 467.3,106.3 467.6,108.5 468.4,109.8 468.6,111.1 469.3,111.9 467.6,112.8 465.2,112.3 463.1,112.8 460.7,113.2 460.1,114.3 459.4,115.5 458.1,116.8 457.1,117.5 455.4,117.9 453.4,118.3 453.4,119.8 452.1,120.5 450.4,120.9 450.2,121.5 448.3,121.7 447.2,121.1 445.9,120.9 446.6,122.8 444.6,123.2 443.1,122.8 441,123 439.7,123.7 440.6,124.7 442.5,125.2 444.6,126 445.3,126.7 445.9,127.3 447.4,128.4 447.6,129.9 447.4,131.8 446.8,134.2 444.6,134.4 442.3,134.2 440.1,134.4 437.6,133.9 435,133.9 432.9,133.7 430.1,135 430.7,136.1 430.9,137.6 431.2,139.1 430.7,141.2 429.9,142.9 429.7,144.4 431.2,145.1 431.2,146.1 430.9,148.1 433.1,148.1 434.2,147.6 436.3,148.3 436.7,149.3Z" fill="#0570b0"/>
<path d="M486.2,123.2 486.6,124.5 490.3,125 493.3,123.9 497.5,123.7 498.2,122.2 492.8,122 490.5,121.3Z" fill="#fff" stroke="#fff" stroke-width="1.2"/>
<path d="M479.1,129.9 482.6,130.1 483.2,128.8 485.6,127.7 487.1,129 490.5,129 491.5,130.5 485.3,130.5 483.8,131.6 485.3,133.7 487.9,135.2 489.6,136.5 486.4,136.3 477.8,130.9Z" fill="#fff" stroke="#fff" stroke-width="1.2"/>
<path d="M483.8,131.6 485.3,130.5 490.7,130.9 491.5,132 491.1,134.2 490,134.8 489.6,136.3 487.9,135.2 485.3,133.7Z" fill="#fff" stroke="#fff" stroke-width="1.2"/>
<path d="M492.8,142.5 493.5,142.3 495,139.7 498.6,139.3 499.3,138.6 502.5,138.2 505.9,138 507,138.9 506.1,139.9 505.7,141.2 499.3,152.3 491.8,145.9Z" fill="#fff" stroke="#fff" stroke-width="1.2"/>
<path d="M519.6,130.1 522,128.6 523.9,129 526,130.1 528.2,130.3 525.4,131.4 523.2,132.2 521.7,131.8Z" fill="#fff" stroke="#fff" stroke-width="1.2"/>
<path d="M500.3,115.3 500.5,117 503.5,116.2 507.8,116.8 515.3,117.5 518.1,115.8 517.5,113.6 520,113 518.1,111.7 516,108.3 510.4,107.2 507,108.1 505,110 504.6,111.1 500.3,111.8 501.2,113.6Z" fill="#fff" stroke="#fff" stroke-width="1.2"/>
<path d="M506.1,139.9 507,138.9 505.9,138 510,137.6 512.5,139.1 516.4,139.3 521.7,137.4 525.4,137.4 527.5,138 530.3,139.5 533.5,139.5 536.3,139.5 539.1,138.4 541.2,138.2 543.2,139.3 543.6,141.4 545.9,142.3 544.9,145.3 545.9,147.6 540.8,147.8 537.2,147.8 532,148.5 528.6,148.5 527.5,150.2 526.7,150.4 525,152.3 505.7,150.2 504.6,141.6Z" fill="#fff" stroke="#fff" stroke-width="1.2"/>
<path d="M716.2,141.9 720.9,138.2 724.1,138.6 726.3,137.4 729.7,136.5 729.9,136.7 730.6,137.4 728.4,141.6 725,144.6 722,145.3 720.3,146.3 718.6,146.6 715.6,145.9 715.6,142.5Z" fill="#fff" stroke="#fff" stroke-width="1.2"/>
<path d="M640.4,181 640,176.9 639.5,174.8 638.9,172 640.8,170.9 642.3,173.1 647.9,173.7 647.7,178 648.3,180.4 647.5,182.7 642.8,184.4Z" fill="#fff" stroke="#fff" stroke-width="1.2"/>
<path d="M458.6,104.2 465,104.2 473.8,101.2 474.4,100.8 476.8,97.8 476.3,95.7 475.9,93.5 476.1,91.4 480,89.4 479.6,88.2 481.1,86.5 483.2,85.4 484.7,82.8 488.3,80.9 490.7,80.7 493.5,79.4 495,79.6 498,80.3 500.3,79.8 503.1,80.5 505.3,79.6 505.7,78.1 509.3,77.5 511.9,79.4 512.8,78.5 516.4,77.9 518.5,75.3 492.8,73.2 458.6,92.4Z" fill="#a6bddb" stroke="#5a5a5a" stroke-width="0.5"/>
<path d="M473.8,101.2 476.8,97.8 476.3,95.7 475.9,93.5 476.1,91.4 480,89.4 479.6,88.2 481.1,86.5 483.2,85.4 484.7,82.8 488.3,80.9 490.7,80.7 493.5,79.4 495,79.6 497.8,80.7 500.5,82 500.8,85 501.8,86.5 497.1,94.6 490.7,105.3 480,109.6 473.6,107.4Z" fill="#a6bddb" stroke="#5a5a5a" stroke-width="0.5"/>
<path d="M501.8,86.5 500.8,85 500.5,82 497.8,80.7 495,79.6 498,80.3 500.3,79.8 503.1,80.5 505.3,79.6 505.7,78.1 509.3,77.5 511.9,79.4 510.8,80.7 514,82.4 512.3,84.1 514.5,86.7 513.4,88.4 515.3,89.9 514.3,91.4 517.5,92.7 512.5,96.3 509.5,97.8 501.4,101 492.8,98.9 495,90.3Z" fill="#a6bddb" stroke="#5a5a5a" stroke-width="0.5"/>
<path d="M466.1,109.8 470.3,109.9 472.5,110.6 473.6,107.4 473.1,103.1 466.1,104.2Z" fill="#d0d1e6" stroke="#5a5a5a" stroke-width="0.5"/>
<path d="M462.9,112.8 465.4,113.4 465,115.5 463.1,116.2 462.6,118.1 463.3,119.2 463.7,121.3 466.1,122.2 467.6,122.6 466.3,125.4 470.3,125.4 472.5,125.6 477.6,125.4 477.8,123.9 479.6,123.2 475.9,119.6 480.6,118.3 482.1,117.9 481.3,116 480.6,113.8 480.4,111.9 481.1,109.6 470.3,109.9 468.2,109.1 462.9,110.6Z" fill="#3690c0" stroke="#5a5a5a" stroke-width="0.5"/>
<path d="M456.4,117 457.3,117.3 459,117.3 460.7,117 462.4,117.7 462.9,118.5 463.1,116.2 465,115.5 465.4,113.4 462.9,112.8 458.6,111.7Z" fill="#74a9cf" stroke="#5a5a5a" stroke-width="0.5"/>
<path d="M455.4,117.9 457.3,117.3 459,117.3 460.7,117 462.4,117.7 462.9,118.5 463.3,119.2 462.4,121.3 460.3,120.7 458.8,120.5 455.6,118.5Z" fill="#74a9cf" stroke="#5a5a5a" stroke-width="0.5"/>
<path d="M439.3,123.5 455.4,117.9 455.6,118.5 458.8,120.5 460.3,120.7 462.4,121.3 463.7,121.3 466.1,122.2 467.6,122.6 466.3,125.4 464.8,125.8 462.9,128.2 465,129 464.6,130.9 465,132.7 466.1,133.5 465,137.4 456.9,136.5 453.2,136.3 450,135.9 446.1,134.4 439.3,133.1Z" fill="#3690c0" stroke="#5a5a5a" stroke-width="0.5"/>
<path d="M462.9,128.2 464.8,125.8 466.3,125.4 470.3,125.4 470.6,126.7 472.5,126.9 471.6,128.4 469.3,128.8 468,128 465,129Z" fill="#a6bddb" stroke="#5a5a5a" stroke-width="0.5"/>
<path d="M470.3,125.4 472.5,125.6 477.6,125.4 477.8,123.9 479.6,123.2 482.1,122.4 486.2,123.2 486.6,124.5 485.3,125.6 484.5,127.1 481.1,128 476.6,127.1 472.5,126.9 470.6,126.7Z" fill="#a6bddb" stroke="#5a5a5a" stroke-width="0.5"/>
<path d="M464.6,130.9 465,129 468,128 469.3,128.8 471.6,128.4 472.5,126.9 476.6,127.1 479.3,127.7 479.1,129.2 480,130.9 490.7,141.6 484.3,148.1 471.4,139.5 466.1,133.5 465,132.7Z" fill="#0570b0" stroke="#5a5a5a" stroke-width="0.5"/>
<path d="M428.6,133.1 446.1,134.4 450,135.9 453.2,136.3 456.9,136.5 460.7,139.5 450,152.3 436.7,151.3 434.2,147.6 435,145.9 434.4,142.7 435,141.2 435.4,139.5 436.7,138.2 435,137.6 432.4,137.4 430.9,137.6Z" fill="#3690c0" stroke="#5a5a5a" stroke-width="0.5"/>
<path d="M430.9,137.6 432.4,137.4 435,137.6 436.7,138.2 435.4,139.5 435,141.2 434.4,142.7 435,145.9 434.2,147.6 428.6,150.2 428.6,137.4Z" fill="#74a9cf" stroke="#5a5a5a" stroke-width="0.5"/>
<path d="M480.4,111.9 480.6,113.8 481.3,116 482.1,117.9 485.3,119.6 488.6,120.2 490.5,121.3 492.8,122 498.2,122.2 498.8,121.1 501.6,118.5 500.5,117 500.3,115.3 501.2,113.6 500.3,111.8 498.8,110.8 492.2,110.8 489.8,110.2 484.3,109.6Z" fill="#74a9cf" stroke="#5a5a5a" stroke-width="0.5"/>
<path d="M475.9,119.6 479.6,123.2 482.1,122.4 486.2,123.2 490.5,121.3 488.6,120.2 485.3,119.6 482.1,117.9 480.6,118.3Z" fill="#a6bddb" stroke="#5a5a5a" stroke-width="0.5"/>
<path d="M484.5,127.1 485.3,125.6 486.6,124.5 490.3,125 493.3,123.9 497.5,123.7 499,124.7 496.3,126.9 495.4,128.2 493.5,128.6 490.5,129 487.1,129 485.6,127.7Z" fill="#74a9cf" stroke="#5a5a5a" stroke-width="0.5"/>
<path d="M479.1,129.2 479.3,127.7 481.1,128 484.5,127.1 485.6,127.7 483.2,128.8 482.6,130.1 479.1,129.9Z" fill="#a6bddb" stroke="#5a5a5a" stroke-width="0.5"/>
<path d="M490.5,129 493.5,128.6 495.4,128.2 496,130.5 498.6,132 498.6,132.9 498,133.5 499,135.2 498,136.7 494.1,137.6 493,135.9 491.1,134.2 491.5,132 490.7,130.9 491.5,130.5Z" fill="#74a9cf" stroke="#5a5a5a" stroke-width="0.5"/>
<path d="M489.6,136.3 490,134.8 491.1,134.2 493,135.9 492,136.1 491.5,137.6 489.6,137.6Z" fill="#a6bddb" stroke="#5a5a5a" stroke-width="0.5"/>
<path d="M493.9,139.5 494.1,137.6 498,136.7 499.3,138.6 498.6,139.3 495,139.7Z" fill="#a6bddb" stroke="#5a5a5a" stroke-width="0.5"/>
<path d="M491.5,137.6 492,136.1 493,135.9 494.1,137.6 493.9,139.5 495,139.7 493.5,142.3 492.8,142.5 490.7,141.6 490.7,138.4Z" fill="#d0d1e6" stroke="#5a5a5a" stroke-width="0.5"/>
<path d="M498,136.7 499,135.2 498,133.5 498.6,132.9 501.4,133.7 504.6,133.9 507.8,132.9 511.3,133.7 512.1,137.4 510,137.6 507.8,137.4 505.9,138 502.5,138.2 499.3,138.6Z" fill="#74a9cf" stroke="#5a5a5a" stroke-width="0.5"/>
<path d="M493.5,128.6 495.4,128.2 496.3,126.9 499,124.7 503.3,125.2 507,124.1 508.9,125.6 510.4,127.7 510.4,129.9 513.6,130.3 514.3,133.1 511.3,133.7 507.8,132.9 504.6,133.9 501.4,133.7 498.6,132.9 498.6,132 496,130.5Z" fill="#74a9cf" stroke="#5a5a5a" stroke-width="0.5"/>
<path d="M507,124.1 508.9,123.5 512.5,124.7 514.3,126.9 511.9,128 510.4,129.9 510.4,127.7 508.9,125.6Z" fill="#d0d1e6" stroke="#5a5a5a" stroke-width="0.5"/>
<path d="M497.5,123.7 498.2,122.2 498.8,121.1 501.6,118.5 500.5,117 503.5,116.2 507.8,116.8 515.3,117.5 518.1,115.8 522.4,115.1 523.7,117.5 525.8,119 528.6,119.6 531.8,120.2 535.7,121.1 535,124.7 531.8,126.5 525,127.7 522,128.6 518.1,127.5 516,127.7 514.9,128.8 513.6,130.3 510.4,129.9 511.9,128 514.3,126.9 512.5,124.7 508.9,123.5 507,124.1 503.3,125.2 499,124.7Z" fill="#74a9cf" stroke="#5a5a5a" stroke-width="0.5"/>
<path d="M495,107.2 495.4,109.1 498.8,109.3 498.8,110.8 500.3,111.8 504.6,111.1 505,110 507,108.1 503.5,107 497.1,106.6Z" fill="#d0d1e6" stroke="#5a5a5a" stroke-width="0.5"/>
<path d="M495,107.2 497.1,106.6 503.5,107 507,108.1 510.4,107.2 509.3,104.6 507.6,104 504.2,103.1 502,103.6 495,104.2Z" fill="#ece7f2" stroke="#5a5a5a" stroke-width="0.5"/>
<path d="M502,103.6 504.2,103.1 507.6,104 509.3,104.6 508.7,101.6 510,99.9 497.1,99.9 497.1,103.1Z" fill="#d0d1e6" stroke="#5a5a5a" stroke-width="0.5"/>
<path d="M535.7,134.4 540,134.8 543.8,135.9 547.4,136.3 549.8,137.8 546.4,138.9 543.2,139.3 541.2,138.2 539.1,138.4 533.5,137.4Z" fill="#a6bddb" stroke="#5a5a5a" stroke-width="0.5"/>
<path d="M543.2,139.3 546.4,138.9 547.4,139.9 548.3,141 547.7,142.1 549.6,142.7 549.6,144 547.4,142.7 545.9,142.3 543.6,141.4Z" fill="#74a9cf" stroke="#5a5a5a" stroke-width="0.5"/>
<path d="M546.4,138.9 549.8,137.8 552.4,139.1 554.1,137.8 557.1,140.6 554.9,143.4 553.4,145.1 552.8,144 549.6,144 549.6,142.7 547.7,142.1 548.3,141 547.4,139.9Z" fill="#3690c0" stroke="#5a5a5a" stroke-width="0.5"/>
<path d="M526.7,150.4 527.5,150.2 528.6,148.5 532,148.5 537.2,147.8 540.8,147.8 538.5,149.3 537.8,153.6 533.1,155.8 528.8,158.1 526.5,157.3 526.9,155.8 528.4,154 526.9,152.3Z" fill="#3690c0" stroke="#5a5a5a" stroke-width="0.5"/>
<path d="M526.9,152.3 528.4,154 526.9,155.8 525.2,156.6 526,153.4Z" fill="#74a9cf" stroke="#5a5a5a" stroke-width="0.5"/>
<path d="M523.2,160.2 524.1,158.8 525.2,156.6 526.5,157.3 526,157.9 526,159.8 525,164.3 524.7,164.1Z" fill="#a6bddb" stroke="#5a5a5a" stroke-width="0.5"/>
<path d="M526,157.9 528.8,158.1 533.1,155.8 534,158.3 529.2,159.8 531.4,162 530.3,163.2 527.1,164.7 525,164.3 526,159.8Z" fill="#a6bddb" stroke="#5a5a5a" stroke-width="0.5"/>
<path d="M540.8,147.8 545.9,147.6 547.4,150.4 548.9,152.3 548.1,154.5 551.5,156.6 552.2,158.8 552.8,161.1 553.9,163 552.6,163.2 550.9,163.2 549.6,165 545.7,164.7 540,160.7 534,158.3 533.1,155.8 537.8,153.6 538.5,149.3Z" fill="#0570b0" stroke="#5a5a5a" stroke-width="0.5"/>
<path d="M549.6,165 550.9,163.2 552.6,163.2 553.9,164.1 553.7,166 551.7,166.2Z" fill="#74a9cf" stroke="#5a5a5a" stroke-width="0.5"/>
<path d="M544.9,145.3 545.9,142.3 547.4,142.7 549.6,144 552.8,144 553.4,145.1 554.9,146.8 557.1,148.1 561.4,148.7 565.7,147.2 568.7,146.1 572.7,145.9 576.8,147 579.4,148.9 581.1,148.9 580.9,151.1 579.6,153.8 580.4,155.5 579.6,156.8 580.4,159.8 582.1,160 580.4,163.5 582.4,165.8 584.5,166.9 584.5,169 585.6,169.9 581.9,173.3 569.9,171.6 557.1,165.2 553.9,163 552.8,161.1 552.2,158.8 551.5,156.6 548.1,154.5 548.9,152.3 547.4,150.4 545.9,147.6Z" fill="#0570b0" stroke="#5a5a5a" stroke-width="0.5"/>
<path d="M524.7,164.1 527.1,164.7 530.3,163.2 531.4,162 529.2,159.8 534,158.3 540,160.7 545.7,164.7 549.6,165 551.7,166.2 553.7,166 557.1,171.6 560.5,175.2 561.4,178 569.3,180.1 567.8,184.4 561.4,186.6 555.2,187.4 553.2,188.3 551.7,190.6 550.2,190.2 544.7,190 542.9,190 542.1,191.5 541.7,192.1 535.7,184.4 527.1,171.6Z" fill="#3690c0" stroke="#5a5a5a" stroke-width="0.5"/>
<path d="M558.6,174.6 560.5,174.6 560.5,171.2 559,171.2Z" fill="#74a9cf" stroke="#5a5a5a" stroke-width="0.5"/>
<path d="M541.7,192.1 542.1,191.5 542.9,190 544.7,190 550.2,190.2 551.7,190.6 553.2,188.3 555.2,187.4 561.4,186.6 563.7,191.7 561.8,193.6 542.1,201.5Z" fill="#74a9cf" stroke="#5a5a5a" stroke-width="0.5"/>
<path d="M561.4,186.6 567.8,184.4 569.3,180.1 568.2,178.6 569.9,175.7 570.8,173.9 578.5,178 572.1,188.7 563.7,191.7Z" fill="#a6bddb" stroke="#5a5a5a" stroke-width="0.5"/>
<path d="M560.5,175.2 561.4,178 569.3,180.1 568.2,178.6 569.9,175.7 570.8,173.9 570.6,170.5 565.7,174.8Z" fill="#74a9cf" stroke="#5a5a5a" stroke-width="0.5"/>
<path d="M549.6,123.7 551.7,119.4 554.3,119 558.8,116.6 563.5,117 569.3,119 574.9,117.9 578.3,118.5 581.7,117.5 580.6,116 580.6,113.8 582.8,111.9 589.6,110.6 596.1,109.6 601.8,109.3 607.2,112.8 609.3,112.8 613.4,111.3 616.6,113.2 621.3,118.1 623.9,118.3 628.6,118.1 631.8,119.8 633.1,122.2 637,122 633.5,126.7 627.1,129.9 621.8,130.9 622.4,135.7 622,136.7 618.1,135.4 608.9,134.8 602.1,136.7 599.9,138.4 596.7,139.9 592.4,137.6 591.4,135.4 582.8,134.2 575.3,129.7 569.9,130.9 569.9,138.9 563.1,138.2 557.1,130.9 557.1,127.7 555.4,127.7 552.8,126.2Z" fill="#3690c0" stroke="#5a5a5a" stroke-width="0.5"/>
<path d="M569.9,138.9 569.9,130.9 575.3,129.7 582.8,134.2 591.4,135.4 592.4,137.6 596.7,139.9 599.9,138.4 602.1,136.7 606.3,139.7 603.8,141.2 601.6,141.2 601.2,139.5 597.8,141 596.7,142.7 594.6,143.4 595.2,147.6 592.4,147.2 588.1,144 583.9,141.9 580.6,139.1 578.5,137.4 575.3,136.3 572.1,138.9Z" fill="#0570b0" stroke="#5a5a5a" stroke-width="0.5"/>
<path d="M563.1,138.2 569.9,138.9 572.1,138.9 575.3,136.3 578.5,137.4 580.6,139.1 583.9,141.9 588.1,144 592.4,147.2 592.4,147.4 588.8,147.8 584.3,151.7 581.1,151.1 581.1,148.9 579.4,148.9 576.8,147 572.7,145.9 568.7,146.1 565.7,147.2 565.4,144 563.5,141.6 563.1,139.9Z" fill="#3690c0" stroke="#5a5a5a" stroke-width="0.5"/>
<path d="M594.6,143.4 596.7,142.7 597.8,141 601.2,139.5 601.6,141.2 607.6,142.7 610.6,142.9 610.4,147.6 607.8,147.2 603.1,148.5 602.7,146.1 600.3,146.8 596.3,148.1 595.2,147.6Z" fill="#74a9cf" stroke="#5a5a5a" stroke-width="0.5"/>
<path d="M601.2,139.5 602.1,136.7 608.9,134.8 618.1,135.4 622,136.7 619.2,139.5 613.8,140.8 610.6,142.9 607.6,142.7 601.6,141.2 603.8,141.2 606.3,139.7Z" fill="#74a9cf" stroke="#5a5a5a" stroke-width="0.5"/>
<path d="M581.1,151.1 584.3,151.7 588.8,147.8 592.4,147.4 595.2,147.6 596.3,148.1 600.3,146.8 602.7,146.1 603.1,148.5 607.8,147.2 610.4,147.6 603.1,149.1 602.5,150.2 603.3,152.1 601.8,154.5 599.7,154.5 600.6,155.8 598.8,156.6 598.4,159 596.1,159.2 593.3,160.2 592,163 587.5,164.1 583.9,164.3 580.4,163.5 582.1,160 580.4,159.8 579.6,156.8 580.4,155.5 579.6,153.8 580.9,151.1Z" fill="#3690c0" stroke="#5a5a5a" stroke-width="0.5"/>
<path d="M610.6,142.9 613.8,140.8 619.2,139.5 622,136.7 622.4,135.7 621.8,130.9 627.1,129.9 633.5,126.7 637,122 642.8,124.5 664.2,130.9 685.6,128.8 699.9,120.7 702.3,121.3 705.3,119.6 707.4,116.6 711.1,113 714.7,112.8 719.6,114.3 722.6,118.8 729.7,122.6 734,125.2 738.5,123.9 735.9,129.4 730.6,131.2 731,134.8 729.7,136.5 726.3,137.4 724.1,138.6 720.9,138.2 716.2,141.9 711.3,145.9 713.4,163 707,180.1 685.6,190.8 681.3,181.2 678.5,178.4 675.9,177.6 672.7,178.4 670.6,178.9 668.7,179.3 668,179.3 666.7,181.4 664,180.1 663.1,178.2 661.8,175.7 658.8,176.3 659.2,174.4 661.4,171.8 661.4,168.4 658.4,166.9 654.5,164.5 651.3,164.7 646.2,167.5 641.9,166.9 640.2,168.8 638.7,167.5 633.1,166.7 627.8,164.1 624.5,162.2 621.8,162.2 619.8,160.9 618.1,157.7 619.2,156.6 617.7,153.4 616.6,151.3 611.7,148.3 610.4,147.6Z" fill="#023858" stroke="#5a5a5a" stroke-width="0.5"/>
<path d="M637,122 638.5,123.2 642.8,124.7 644.9,127.1 643.6,129.7 650.2,131.2 654.1,132.7 656.5,135.9 665.9,135.9 671.2,137.6 674.9,138.2 680.2,136.3 686.4,135.4 689.7,133.7 689,132.2 693.1,131.4 698.4,129.4 701.4,127.5 706.4,127.3 704.4,125.2 701.4,125.2 697.4,124.7 699.9,120.7 695,119.6 687.3,122 682.4,121.7 678.9,119.6 673.6,119.6 669.1,119.2 668.7,117.5 662,116.2 659.5,118.1 660.3,119.4 655.2,120.5 653,120.2 647.5,118.5 642.8,120.2 640.2,121.3Z" fill="#d0d1e6" stroke="#5a5a5a" stroke-width="0.5"/>
<path d="M720.3,146.3 722,145.3 725,144.6 728.4,148.1 727.4,153.4 720.9,154.9 718.8,152.3 718.8,148.1Z" fill="#3690c0" stroke="#5a5a5a" stroke-width="0.5"/>
<path d="M581.9,173.3 585.6,169.9 584.5,169 584.5,166.9 582.4,165.8 580.4,163.5 583.9,164.3 587.5,164.1 592,163 593.3,160.2 596.1,159.2 598.4,159 598.8,156.6 600.6,155.8 599.7,154.5 601.8,154.5 603.3,152.1 602.5,150.2 603.1,149.1 610.4,147.6 611.7,148.3 616.6,151.3 613.8,152.3 610.6,153.4 608.5,155.5 609.6,157.7 611.5,158.1 609.6,160.7 609.8,162 607.2,163.2 604.2,167.3 601,167.3 598.8,169.4 600.6,172.2 602.1,175 598.8,175.2 597.3,175.2 596.1,176.5 591.4,175.9 580.6,174.8Z" fill="#045a8d" stroke="#5a5a5a" stroke-width="0.5"/>
<path d="M596.1,176.5 597.3,175.2 598.8,175.2 602.1,175 600.6,172.2 598.8,169.4 601,167.3 604.2,167.3 607.2,163.2 609.8,162 609.6,160.7 611.5,158.1 609.6,157.7 608.5,155.5 610.6,153.4 613.8,152.3 616.6,151.3 617.7,153.4 619.2,156.6 618.1,157.7 619.8,160.9 621.8,162.2 624.5,162.2 621.6,165.6 624.5,167.5 628.4,168.6 631,168.8 633.1,169.9 636.3,170.7 638.7,170.7 638.7,167.5 640.2,168.8 642.3,169.9 647.3,169.9 646.2,167.5 651.3,164.7 654.5,164.5 658.4,166.9 657.7,168.8 653.9,171.2 652.6,173.3 651.5,176.3 649.8,175.9 648.3,180.4 647.7,178 647.9,173.7 642.3,173.1 640.8,170.9 638.9,172 639.5,174.8 640,176.9 640.4,181 638.5,184.4 617.1,216.5 591.4,180.1Z" fill="#045a8d" stroke="#5a5a5a" stroke-width="0.5"/>
<path d="M621.6,165.6 624.5,162.2 627.8,164.1 633.1,166.7 638.7,167.5 638.7,170.7 636.3,170.7 633.1,169.9 631,168.8 628.4,168.6 624.5,167.5Z" fill="#74a9cf" stroke="#5a5a5a" stroke-width="0.5"/>
<path d="M640.2,168.8 641.9,166.9 646.2,167.5 647.3,169.9 642.3,169.9Z" fill="#a6bddb" stroke="#5a5a5a" stroke-width="0.5"/>
<path d="M647.5,182.7 648.3,180.4 649.8,175.9 651.5,176.3 652.6,173.3 653.9,171.2 657.7,168.8 658.4,166.9 661.4,168.4 661.4,171.8 659.2,174.4 658.8,176.3 661.8,175.7 663.1,178.2 664,180.1 666.7,181.4 664.4,183.6 661,185.1 658.6,187.6 659.2,191.5 661.8,192.5 660.3,194.9 662.5,199.4 663.3,202 661.4,205 659.9,210.1 647,195.1Z" fill="#0570b0" stroke="#5a5a5a" stroke-width="0.5"/>
<path d="M661.4,205 663.3,202 662.5,199.4 660.3,194.9 661.8,192.5 659.2,191.5 658.6,187.6 661,185.1 664.4,183.6 665.2,185.5 667,185.5 666.3,187.8 668.7,188.3 670.6,188.7 672.7,189.6 674.2,191.9 675.9,195.1 674.9,196.6 670.6,196.6 669.5,200 670,201.3 666.3,201.5 664.2,198.3 662,203.7 663.1,207.9 664.8,210.5 667,212.2 668.7,213.9 668,214.8 666.5,213.9 664.4,213.5 663.1,212.7 659.9,210.1Z" fill="#0570b0" stroke="#5a5a5a" stroke-width="0.5"/>
<path d="M664.4,183.6 666.7,181.4 668,179.3 668.7,179.3 670,180.8 671,182.7 673.6,182.7 673,184 674.7,185.3 672.5,185.9 675.1,187.8 678.3,190.8 680.4,193.4 680.2,196.2 677,196.4 675.9,195.1 674.2,191.9 672.7,189.6 670.6,188.7 668.7,188.3 666.3,187.8 667,185.5 665.2,185.5Z" fill="#74a9cf" stroke="#5a5a5a" stroke-width="0.5"/>
<path d="M669.5,200 670.6,196.6 674.9,196.6 675.9,195.1 677,196.4 680.2,196.2 680.4,198.3 678.1,201.5 676.6,203.7 673.8,204.7 670.6,203.7 670,201.3Z" fill="#a6bddb" stroke="#5a5a5a" stroke-width="0.5"/>
<path d="M668.7,179.3 670.6,178.9 672.7,178.4 675.9,177.6 678.5,178.4 681.3,181.2 677,186.6 677,189.8 683.4,195.1 684.5,202.6 674.9,209 673.8,204.7 676.6,203.7 678.1,201.5 680.4,198.3 680.2,196.2 680.4,193.4 678.3,190.8 675.1,187.8 672.5,185.9 674.7,185.3 673,184 673.6,182.7 671,182.7 670,180.8Z" fill="#74a9cf" stroke="#5a5a5a" stroke-width="0.5"/>
<path d="M664.4,213.5 666.5,213.9 668,214.8 668.7,213.9 670.6,214.4 673.8,224.4 670.6,225.1 664.2,218.6Z" fill="#74a9cf" stroke="#5a5a5a" stroke-width="0.5"/>
</g>
<mask id="mEA" maskUnits="userSpaceOnUse" x="0" y="0" width="1200" height="500"><rect width="1200" height="500" fill="#fff"/><path d="M486.2,123.2 486.6,124.5 490.3,125 493.3,123.9 497.5,123.7 498.2,122.2 492.8,122 490.5,121.3ZM479.1,129.9 482.6,130.1 483.2,128.8 485.6,127.7 487.1,129 490.5,129 491.5,130.5 485.3,130.5 483.8,131.6 485.3,133.7 487.9,135.2 489.6,136.5 486.4,136.3 477.8,130.9ZM483.8,131.6 485.3,130.5 490.7,130.9 491.5,132 491.1,134.2 490,134.8 489.6,136.3 487.9,135.2 485.3,133.7ZM492.8,142.5 493.5,142.3 495,139.7 498.6,139.3 499.3,138.6 502.5,138.2 505.9,138 507,138.9 506.1,139.9 505.7,141.2 499.3,152.3 491.8,145.9ZM519.6,130.1 522,128.6 523.9,129 526,130.1 528.2,130.3 525.4,131.4 523.2,132.2 521.7,131.8ZM500.3,115.3 500.5,117 503.5,116.2 507.8,116.8 515.3,117.5 518.1,115.8 517.5,113.6 520,113 518.1,111.7 516,108.3 510.4,107.2 507,108.1 505,110 504.6,111.1 500.3,111.8 501.2,113.6ZM506.1,139.9 507,138.9 505.9,138 510,137.6 512.5,139.1 516.4,139.3 521.7,137.4 525.4,137.4 527.5,138 530.3,139.5 533.5,139.5 536.3,139.5 539.1,138.4 541.2,138.2 543.2,139.3 543.6,141.4 545.9,142.3 544.9,145.3 545.9,147.6 540.8,147.8 537.2,147.8 532,148.5 528.6,148.5 527.5,150.2 526.7,150.4 525,152.3 505.7,150.2 504.6,141.6ZM716.2,141.9 720.9,138.2 724.1,138.6 726.3,137.4 729.7,136.5 729.9,136.7 730.6,137.4 728.4,141.6 725,144.6 722,145.3 720.3,146.3 718.6,146.6 715.6,145.9 715.6,142.5ZM640.4,181 640,176.9 639.5,174.8 638.9,172 640.8,170.9 642.3,173.1 647.9,173.7 647.7,178 648.3,180.4 647.5,182.7 642.8,184.4Z" fill="#000" stroke="#000" stroke-width="2.5"/></mask>
<path d="M438,150.2 440.6,148.7 445.5,148.7 446.6,147.2 448.5,146.8 450.4,144.2 449.4,142.7 451.9,140.1 456.9,137.6 456.9,136.5 456.6,135 459.6,134.4 462.9,135 466.1,133.5 468.8,132.2 471.8,133.3 472.5,135.4 474,136.5 476.6,138.2 479.8,139.5 483.4,141.6 484.3,144 483.4,145.9 484.5,146.1 485.6,145.1 486.6,143.8 485.3,142.3 486.4,140.6 489.4,141.4 488.6,140.1 484.3,138.4 481.3,136.9 479.1,134.2 476.3,132 476.6,130.1 479.3,129.4 479.1,130.7 480.6,130.5 482.6,132.4 484.3,134.2 487.5,135.2 489.6,136.5 491.5,137.6 491.5,139.5 491.8,141 492.8,142.5 494.5,144.2 495.2,145.3 496.5,148.5 498.2,149.3 499.7,149.1 498.8,146.8 499.9,145.9 501.4,145.5 498.8,143.8 498.4,141 499.9,141.2 501.4,140.1 503.5,139.7 505.7,139.9 506.1,141 506.1,142.7 507.4,144 506.3,145.3 508.5,146.1 508.5,148.1 510.6,148.7 513.6,150 515.5,148.7 518.1,149.1 520.7,150 523.9,148.5 527.1,148.5 526.7,150.4 526.9,152.3 526,154.7 525.2,156.6 524.1,158.8 523.2,160.2 524.7,164.1 525,167.1 526.2,168.6 528.4,172 530.3,175.2 533.3,179.5 534,181.2 535.7,184 537.4,186.1 539.5,189.8 540.8,192.1 541.7,194.9 542.1,197 542.9,200 544.2,200.2 546.4,199.8 549.6,198.5 552.8,197.3 556,195.8 559.2,194.7 561.8,193.6 562.4,191.9 565.7,190.8 568.4,189.8 570.4,188.9 571.6,187.2 573.8,186.6 573.8,184.6 575.3,183.4 577.4,181.2 578.1,179.5 576.4,178 574.6,176.5 572.1,175.9 570.8,173.9 570.6,172.2 570.8,170.9 569.9,171.6 568.9,172.7 567.4,173.9 565.7,175.7 562.7,175.4 560.5,175.2 560.5,173.3 560.3,171.8 559.7,171.4 558.8,172.7 558.8,174.4 557.7,172.4 556.9,170.3 555.4,168.6 554.1,167.3 553.7,166 552.6,165.2 552.8,163.5 553.9,163 554.9,162.4 556.2,163 557.5,163.7 558.6,165 560.1,167.5 562.4,168.4 564.6,169.9 566.7,170.5 568.9,170.3 570.6,169.2 572.1,169.9 572.7,172 575.3,172.4 577.4,172.9 581.9,173.3 583.9,173.3 587.1,173.1 589.2,173.1 592.4,172.9 593.5,174.2 594.6,176.1 596.1,176.5 597.3,177.6 596.7,178.9 597.8,179.3 599.1,180.4 601,182.3 602.9,182.7 604.6,181.6 605.5,179.5 606.1,181.2 605.9,183.4 605.9,186.6 606.3,188.7 607,190.8 607.4,193 608.3,195.1 609.3,197.3 610.2,199.6 611.1,201.5 612.3,203.7 613.4,206 614.7,208.8 616,209.9 617.3,208.8 617.9,207.7 619.6,207.3 619.8,205.2 621.1,205.2 620.9,202.6 621.8,199.4 622,198.1 621.6,194.9 623.3,193.4 624.1,192.3 626,191.7 626.5,190.6 628.4,189.3 630.1,188.1 632.3,185.7 633.8,184.6 635.3,184 636.1,182.1 636.3,181 638.7,180.8 640.4,181 641.9,180.4 643.6,179.9 644.3,178.6 645.8,178.9 646.6,179.5 647,181 647.7,182.9 649,184.2 650,185.5 650.7,187.2 652.2,188.3 652,190.8 652,193 652.8,193.2 654.1,193.6 656.7,191.7 658.2,191.1 659,192.8 659.2,194.5 659.7,196.2 660.1,198.3 661.2,200.2 661.4,202.6 661,204.3 661,206 660.5,207.9 660.5,209.7 661.6,210.3 662.5,211.8 663.5,213.3 664.4,213.5 664.8,215.9 665,218 665.7,218.9 667,221 668.2,222.3 671.5,224.4 673.2,224.2 672.5,222.1 671.5,219.7 671.5,217.6 671,215.9 669.5,214.4 667.8,213.1 666.3,212.4 664.8,210.9 664.6,209 664,207.5 662.5,206 662.5,203.9 663.1,201.7 664,199.8 664.4,198.5 665.5,198.3 666.1,200 667,200 668.9,201.1 669.7,202.2 670.8,203.5 671.7,204.5 673.6,204.7 674.5,205.4 674.5,207.5 674.5,208.8 675.1,208.8 676.8,207.1 678.3,206.2 679.8,205 681.5,203.9 683.2,202.8 683.9,201.5 683.9,199.6 684.1,197.7 683.2,194.5 681.9,192.8 679.8,191.1 678.3,189.6 676.8,187.6 676.4,186.3 677,184.8 678.3,183.6 679.6,182.3 681.3,181.2 683.2,181 684.5,181.2 685.2,181.4 686,183.8 686.7,183.8 686.9,181.9 688.4,181.2 690.5,180.6 692.4,179.7 693.3,178.9 694.6,179.5 696.7,178.4 699.5,178.2 701.2,176.7 702.7,174.8 704.2,174.2 705.9,172.9 706.1,171.6 706.8,170.5 707.9,169.4 708.7,167.5 710.2,166 710.6,164.5 711.1,163.2 709.8,162.2 711.1,161.1 709.8,159.2 708.7,158.1 708.9,156.8 708.1,155.3 707.4,153.8 705.7,152.8 705.3,152.3 706.4,151.1 708.3,150 709.4,148.9 712.4,148.3 711.7,147.2 709.6,146.8 708.3,146.3 706.6,147.6 704.9,147.6 704.6,147 704.2,145.9 702.7,145.3 702.1,144.2 701.9,143.8 702.7,143.4 704.9,143.4 705.9,142.1 708.3,141 709.1,139.9 711.1,139.9 711.9,140.6 711.1,141.4 710.4,142.5 709.6,144 710.6,144 711.7,142.9 713.4,142.3 716.2,141.9 717.1,142.5 718.4,142.7 718.6,144 718.1,145.1 717.1,145.7 718.6,146.6 720.1,146.6 721.4,148.1 720.9,150.2 721.1,151.7 720.5,153 722,153.2 723.1,153 725.2,152.5 726.3,152.1 727.1,151.3 727.4,149.6 727.1,148.1 726.3,146.6 725,145.1 724.1,144 723.1,143.1 723.1,142.1 724.8,141.6 726.3,140.6 727.8,139.7 728,138.2 729.1,136.9 729.9,136.7 731.2,135.7 733.3,134.8 735.3,135.7 737.6,134.6 740.2,133.3 743,130.9 744.9,129 746.6,126.7 747.9,125 750.3,123.5 750.9,121.1 750.9,118.5 752,116 752.8,114.5 752.4,113.2 749.6,111.3 746.6,112.1 744.1,111.9 743.6,110.6 742.3,110.2 744.9,107 747.1,105.9 750.3,103.6 753.3,101.6 755.4,100.4 757.3,100.1 761.8,100.1 765.3,100.4 768.9,100.1 773,99.7 776.4,101 780.3,100.1 782,99.3 785.6,95.7 789.5,95 793.3,94.8 792.9,97.1 795.9,96.1 800.2,93.5 801.2,94.6 799.1,96.7 796.5,98.4 793.3,100.6 790.5,102.5 787.3,103.6 785.8,105.3 784.1,108.5 783.2,111.7 784.1,114.9 785.6,118.3 788.4,116.6 789.7,114 792.7,112.8 792.9,111.1 796.5,109.6 797.2,107.2 799.7,107 798,106.1 798.7,103.6 800.2,102.1 800.6,100.1 803.8,98.9 806.8,98 809.4,97.6 813.7,98.2 815.6,98 819.2,96.7 822,95.2 825,94.2 828.2,93.3 830.4,93.3 833.8,92.9 834.4,91.8 832.3,89.4 831.4,89 833.2,88.2 835.5,88.2 835.5,79.6 832.7,78.8 827.4,77.9 822.7,77.7 815.4,77.3 813.7,78.3 808.5,78.3 806.2,78.5 799.1,78.1 795.2,78.3 794.6,77.3 792.2,75.5 789.5,75.3 783.5,75.1 776.4,75.5 772.1,74 770.6,72.8 764.8,72.6 757.8,72.6 752.2,71.7 749.2,72.1 748.3,73.4 745.1,74.5 741.5,74 735.5,74.3 731.6,75.5 730.3,75.1 727.8,74.9 726.1,73 727.1,71.9 725.9,70.8 721.8,69.8 717.1,69.6 713.9,71.1 712.1,70.8 705.3,70.8 703.4,69.8 697.8,69.6 692.9,70 692,68.9 689.2,68.7 686.2,68.1 684.3,68.5 686.9,67 690.3,65.1 693.3,64.8 692.9,63.8 689.4,63.1 681.7,63.1 678.3,61.9 673.4,61 666.3,62.7 665.2,63.6 661,64 657.1,64.8 649.8,65.1 643.8,65.7 638.5,66.6 636.1,67.8 634.2,68.9 636.3,69.8 633.1,70.4 627.8,69.8 622.4,70.2 622.4,72.8 617.1,72.3 612.8,74.3 611.3,72.3 609.6,71.5 607.4,73.6 605.9,71.5 601,70.4 597.8,71.5 596.7,74 593.3,75.3 592.6,77.5 594.1,78.8 591.4,79.6 587.1,79 580.6,77.9 578.5,78.5 576.4,79.8 573.1,80.7 568.9,80.9 565,79.8 564.6,81.3 561.4,80.7 553.9,82.4 549.6,81.3 547.4,80.7 544.4,81.7 544.7,83.2 542.7,85.2 540.4,85.2 537.8,86 535.7,88.4 531.4,89 528.2,89.2 524.5,89.2 524.5,87.1 520.7,84.7 523.9,84.7 530.3,85.6 536.1,85.6 538.2,84.3 535.7,82.2 531.4,80.9 526,79.2 521.3,78.8 516.4,77.9 513.8,77.3 510.4,75.3 506.8,75.5 505,75.1 502.5,75.5 498.2,76.4 495.2,77.3 492.2,77.7 489.2,77.9 486.4,79.4 483.2,80.7 480.6,82 478.5,83.7 477.4,85.4 476.1,87.1 474,89 471.8,90.5 469.3,91.6 467.1,92.2 463.9,93.3 461.4,94.6 460.7,96.7 460.9,98.9 462,101 462.4,101.9 464.6,102.9 467.3,102.9 470.1,101.2 472.3,100.6 472.7,99.1 473.8,100.4 474.4,101.2 475.1,102.5 475.5,104 476.6,105.5 477.6,106.8 477.2,108.1 477.8,108.7 480.4,108.7 480.6,107.8 484.1,107.2 485.3,106.1 485.3,104.4 485.8,103.1 485.6,101.9 487.3,101.4 489.2,100.4 490,99.5 489.6,98.4 487.3,97.6 487.1,96.1 487.1,94.6 487.9,93.1 489.4,92.2 491.3,91.4 493.9,90.7 495.8,89.4 496,87.7 497.8,86.9 500.3,86.5 501.8,86.5 503.8,87.3 504.4,88.2 503.8,89 502.5,89.9 499.9,90.7 498,91.8 495.8,92.9 495.8,95 496,96.7 496,97.8 498,98.4 499.7,99.1 501.8,98.6 504.6,98.2 506.8,97.8 509.5,97.8 511.7,97.8 513.4,98.6 514.7,99.1 512.3,99.1 511.3,99.3 510,99.9 506.8,99.7 504.6,99.9 502.5,100.1 500.3,100.6 500.3,101.6 501,102.5 502.3,102.5 502,103.6 502.3,104.6 501.6,105.3 499.9,105.3 498.4,104.2 496.3,104.4 495.2,105.5 495,106.8 495.2,107.8 495.4,109.1 494.1,109.8 492.6,110.8 491.8,111.1 490,110.8 489.8,110.2 487.7,110 485.1,110.6 483,111.3 480.4,111.9 479.1,111.5 476.8,110.8 474.8,111.5 473.3,111.7 473.3,110.8 471.4,110.2 471.4,109.1 472.5,108.3 472.1,107 473.3,106.3 472.1,105.5 472.7,103.8 471.2,104.2 470.1,104.8 468.4,105.1 467.3,106.3 467.6,108.5 468.4,109.8 468.6,111.1 469.3,111.9 467.6,112.8 465.2,112.3 463.1,112.8 460.7,113.2 460.1,114.3 459.4,115.5 458.1,116.8 457.1,117.5 455.4,117.9 453.4,118.3 453.4,119.8 452.1,120.5 450.4,120.9 450.2,121.5 448.3,121.7 447.2,121.1 445.9,120.9 446.6,122.8 444.6,123.2 443.1,122.8 441,123 439.7,123.7 440.6,124.7 442.5,125.2 444.6,126 445.3,126.7 445.9,127.3 447.4,128.4 447.6,129.9 447.4,131.8 446.8,134.2 444.6,134.4 442.3,134.2 440.1,134.4 437.6,133.9 435,133.9 432.9,133.7 430.1,135 430.7,136.1 430.9,137.6 431.2,139.1 430.7,141.2 429.9,142.9 429.7,144.4 431.2,145.1 431.2,146.1 430.9,148.1 433.1,148.1 434.2,147.6 436.3,148.3 436.7,149.3Z" fill="none" stroke="#4a4a4a" stroke-width="0.7" stroke-linejoin="round" mask="url(#mEA)"/>
<mask id="miEA" maskUnits="userSpaceOnUse" x="0" y="0" width="1200" height="500"><path d="M486.2,123.2 486.6,124.5 490.3,125 493.3,123.9 497.5,123.7 498.2,122.2 492.8,122 490.5,121.3ZM479.1,129.9 482.6,130.1 483.2,128.8 485.6,127.7 487.1,129 490.5,129 491.5,130.5 485.3,130.5 483.8,131.6 485.3,133.7 487.9,135.2 489.6,136.5 486.4,136.3 477.8,130.9ZM483.8,131.6 485.3,130.5 490.7,130.9 491.5,132 491.1,134.2 490,134.8 489.6,136.3 487.9,135.2 485.3,133.7ZM492.8,142.5 493.5,142.3 495,139.7 498.6,139.3 499.3,138.6 502.5,138.2 505.9,138 507,138.9 506.1,139.9 505.7,141.2 499.3,152.3 491.8,145.9ZM519.6,130.1 522,128.6 523.9,129 526,130.1 528.2,130.3 525.4,131.4 523.2,132.2 521.7,131.8ZM500.3,115.3 500.5,117 503.5,116.2 507.8,116.8 515.3,117.5 518.1,115.8 517.5,113.6 520,113 518.1,111.7 516,108.3 510.4,107.2 507,108.1 505,110 504.6,111.1 500.3,111.8 501.2,113.6ZM506.1,139.9 507,138.9 505.9,138 510,137.6 512.5,139.1 516.4,139.3 521.7,137.4 525.4,137.4 527.5,138 530.3,139.5 533.5,139.5 536.3,139.5 539.1,138.4 541.2,138.2 543.2,139.3 543.6,141.4 545.9,142.3 544.9,145.3 545.9,147.6 540.8,147.8 537.2,147.8 532,148.5 528.6,148.5 527.5,150.2 526.7,150.4 525,152.3 505.7,150.2 504.6,141.6ZM716.2,141.9 720.9,138.2 724.1,138.6 726.3,137.4 729.7,136.5 729.9,136.7 730.6,137.4 728.4,141.6 725,144.6 722,145.3 720.3,146.3 718.6,146.6 715.6,145.9 715.6,142.5ZM640.4,181 640,176.9 639.5,174.8 638.9,172 640.8,170.9 642.3,173.1 647.9,173.7 647.7,178 648.3,180.4 647.5,182.7 642.8,184.4Z" fill="#fff" stroke="#fff" stroke-width="1"/></mask>
<path d="M438,150.2 440.6,148.7 445.5,148.7 446.6,147.2 448.5,146.8 450.4,144.2 449.4,142.7 451.9,140.1 456.9,137.6 456.9,136.5 456.6,135 459.6,134.4 462.9,135 466.1,133.5 468.8,132.2 471.8,133.3 472.5,135.4 474,136.5 476.6,138.2 479.8,139.5 483.4,141.6 484.3,144 483.4,145.9 484.5,146.1 485.6,145.1 486.6,143.8 485.3,142.3 486.4,140.6 489.4,141.4 488.6,140.1 484.3,138.4 481.3,136.9 479.1,134.2 476.3,132 476.6,130.1 479.3,129.4 479.1,130.7 480.6,130.5 482.6,132.4 484.3,134.2 487.5,135.2 489.6,136.5 491.5,137.6 491.5,139.5 491.8,141 492.8,142.5 494.5,144.2 495.2,145.3 496.5,148.5 498.2,149.3 499.7,149.1 498.8,146.8 499.9,145.9 501.4,145.5 498.8,143.8 498.4,141 499.9,141.2 501.4,140.1 503.5,139.7 505.7,139.9 506.1,141 506.1,142.7 507.4,144 506.3,145.3 508.5,146.1 508.5,148.1 510.6,148.7 513.6,150 515.5,148.7 518.1,149.1 520.7,150 523.9,148.5 527.1,148.5 526.7,150.4 526.9,152.3 526,154.7 525.2,156.6 524.1,158.8 523.2,160.2 524.7,164.1 525,167.1 526.2,168.6 528.4,172 530.3,175.2 533.3,179.5 534,181.2 535.7,184 537.4,186.1 539.5,189.8 540.8,192.1 541.7,194.9 542.1,197 542.9,200 544.2,200.2 546.4,199.8 549.6,198.5 552.8,197.3 556,195.8 559.2,194.7 561.8,193.6 562.4,191.9 565.7,190.8 568.4,189.8 570.4,188.9 571.6,187.2 573.8,186.6 573.8,184.6 575.3,183.4 577.4,181.2 578.1,179.5 576.4,178 574.6,176.5 572.1,175.9 570.8,173.9 570.6,172.2 570.8,170.9 569.9,171.6 568.9,172.7 567.4,173.9 565.7,175.7 562.7,175.4 560.5,175.2 560.5,173.3 560.3,171.8 559.7,171.4 558.8,172.7 558.8,174.4 557.7,172.4 556.9,170.3 555.4,168.6 554.1,167.3 553.7,166 552.6,165.2 552.8,163.5 553.9,163 554.9,162.4 556.2,163 557.5,163.7 558.6,165 560.1,167.5 562.4,168.4 564.6,169.9 566.7,170.5 568.9,170.3 570.6,169.2 572.1,169.9 572.7,172 575.3,172.4 577.4,172.9 581.9,173.3 583.9,173.3 587.1,173.1 589.2,173.1 592.4,172.9 593.5,174.2 594.6,176.1 596.1,176.5 597.3,177.6 596.7,178.9 597.8,179.3 599.1,180.4 601,182.3 602.9,182.7 604.6,181.6 605.5,179.5 606.1,181.2 605.9,183.4 605.9,186.6 606.3,188.7 607,190.8 607.4,193 608.3,195.1 609.3,197.3 610.2,199.6 611.1,201.5 612.3,203.7 613.4,206 614.7,208.8 616,209.9 617.3,208.8 617.9,207.7 619.6,207.3 619.8,205.2 621.1,205.2 620.9,202.6 621.8,199.4 622,198.1 621.6,194.9 623.3,193.4 624.1,192.3 626,191.7 626.5,190.6 628.4,189.3 630.1,188.1 632.3,185.7 633.8,184.6 635.3,184 636.1,182.1 636.3,181 638.7,180.8 640.4,181 641.9,180.4 643.6,179.9 644.3,178.6 645.8,178.9 646.6,179.5 647,181 647.7,182.9 649,184.2 650,185.5 650.7,187.2 652.2,188.3 652,190.8 652,193 652.8,193.2 654.1,193.6 656.7,191.7 658.2,191.1 659,192.8 659.2,194.5 659.7,196.2 660.1,198.3 661.2,200.2 661.4,202.6 661,204.3 661,206 660.5,207.9 660.5,209.7 661.6,210.3 662.5,211.8 663.5,213.3 664.4,213.5 664.8,215.9 665,218 665.7,218.9 667,221 668.2,222.3 671.5,224.4 673.2,224.2 672.5,222.1 671.5,219.7 671.5,217.6 671,215.9 669.5,214.4 667.8,213.1 666.3,212.4 664.8,210.9 664.6,209 664,207.5 662.5,206 662.5,203.9 663.1,201.7 664,199.8 664.4,198.5 665.5,198.3 666.1,200 667,200 668.9,201.1 669.7,202.2 670.8,203.5 671.7,204.5 673.6,204.7 674.5,205.4 674.5,207.5 674.5,208.8 675.1,208.8 676.8,207.1 678.3,206.2 679.8,205 681.5,203.9 683.2,202.8 683.9,201.5 683.9,199.6 684.1,197.7 683.2,194.5 681.9,192.8 679.8,191.1 678.3,189.6 676.8,187.6 676.4,186.3 677,184.8 678.3,183.6 679.6,182.3 681.3,181.2 683.2,181 684.5,181.2 685.2,181.4 686,183.8 686.7,183.8 686.9,181.9 688.4,181.2 690.5,180.6 692.4,179.7 693.3,178.9 694.6,179.5 696.7,178.4 699.5,178.2 701.2,176.7 702.7,174.8 704.2,174.2 705.9,172.9 706.1,171.6 706.8,170.5 707.9,169.4 708.7,167.5 710.2,166 710.6,164.5 711.1,163.2 709.8,162.2 711.1,161.1 709.8,159.2 708.7,158.1 708.9,156.8 708.1,155.3 707.4,153.8 705.7,152.8 705.3,152.3 706.4,151.1 708.3,150 709.4,148.9 712.4,148.3 711.7,147.2 709.6,146.8 708.3,146.3 706.6,147.6 704.9,147.6 704.6,147 704.2,145.9 702.7,145.3 702.1,144.2 701.9,143.8 702.7,143.4 704.9,143.4 705.9,142.1 708.3,141 709.1,139.9 711.1,139.9 711.9,140.6 711.1,141.4 710.4,142.5 709.6,144 710.6,144 711.7,142.9 713.4,142.3 716.2,141.9 717.1,142.5 718.4,142.7 718.6,144 718.1,145.1 717.1,145.7 718.6,146.6 720.1,146.6 721.4,148.1 720.9,150.2 721.1,151.7 720.5,153 722,153.2 723.1,153 725.2,152.5 726.3,152.1 727.1,151.3 727.4,149.6 727.1,148.1 726.3,146.6 725,145.1 724.1,144 723.1,143.1 723.1,142.1 724.8,141.6 726.3,140.6 727.8,139.7 728,138.2 729.1,136.9 729.9,136.7 731.2,135.7 733.3,134.8 735.3,135.7 737.6,134.6 740.2,133.3 743,130.9 744.9,129 746.6,126.7 747.9,125 750.3,123.5 750.9,121.1 750.9,118.5 752,116 752.8,114.5 752.4,113.2 749.6,111.3 746.6,112.1 744.1,111.9 743.6,110.6 742.3,110.2 744.9,107 747.1,105.9 750.3,103.6 753.3,101.6 755.4,100.4 757.3,100.1 761.8,100.1 765.3,100.4 768.9,100.1 773,99.7 776.4,101 780.3,100.1 782,99.3 785.6,95.7 789.5,95 793.3,94.8 792.9,97.1 795.9,96.1 800.2,93.5 801.2,94.6 799.1,96.7 796.5,98.4 793.3,100.6 790.5,102.5 787.3,103.6 785.8,105.3 784.1,108.5 783.2,111.7 784.1,114.9 785.6,118.3 788.4,116.6 789.7,114 792.7,112.8 792.9,111.1 796.5,109.6 797.2,107.2 799.7,107 798,106.1 798.7,103.6 800.2,102.1 800.6,100.1 803.8,98.9 806.8,98 809.4,97.6 813.7,98.2 815.6,98 819.2,96.7 822,95.2 825,94.2 828.2,93.3 830.4,93.3 833.8,92.9 834.4,91.8 832.3,89.4 831.4,89 833.2,88.2 835.5,88.2 835.5,79.6 832.7,78.8 827.4,77.9 822.7,77.7 815.4,77.3 813.7,78.3 808.5,78.3 806.2,78.5 799.1,78.1 795.2,78.3 794.6,77.3 792.2,75.5 789.5,75.3 783.5,75.1 776.4,75.5 772.1,74 770.6,72.8 764.8,72.6 757.8,72.6 752.2,71.7 749.2,72.1 748.3,73.4 745.1,74.5 741.5,74 735.5,74.3 731.6,75.5 730.3,75.1 727.8,74.9 726.1,73 727.1,71.9 725.9,70.8 721.8,69.8 717.1,69.6 713.9,71.1 712.1,70.8 705.3,70.8 703.4,69.8 697.8,69.6 692.9,70 692,68.9 689.2,68.7 686.2,68.1 684.3,68.5 686.9,67 690.3,65.1 693.3,64.8 692.9,63.8 689.4,63.1 681.7,63.1 678.3,61.9 673.4,61 666.3,62.7 665.2,63.6 661,64 657.1,64.8 649.8,65.1 643.8,65.7 638.5,66.6 636.1,67.8 634.2,68.9 636.3,69.8 633.1,70.4 627.8,69.8 622.4,70.2 622.4,72.8 617.1,72.3 612.8,74.3 611.3,72.3 609.6,71.5 607.4,73.6 605.9,71.5 601,70.4 597.8,71.5 596.7,74 593.3,75.3 592.6,77.5 594.1,78.8 591.4,79.6 587.1,79 580.6,77.9 578.5,78.5 576.4,79.8 573.1,80.7 568.9,80.9 565,79.8 564.6,81.3 561.4,80.7 553.9,82.4 549.6,81.3 547.4,80.7 544.4,81.7 544.7,83.2 542.7,85.2 540.4,85.2 537.8,86 535.7,88.4 531.4,89 528.2,89.2 524.5,89.2 524.5,87.1 520.7,84.7 523.9,84.7 530.3,85.6 536.1,85.6 538.2,84.3 535.7,82.2 531.4,80.9 526,79.2 521.3,78.8 516.4,77.9 513.8,77.3 510.4,75.3 506.8,75.5 505,75.1 502.5,75.5 498.2,76.4 495.2,77.3 492.2,77.7 489.2,77.9 486.4,79.4 483.2,80.7 480.6,82 478.5,83.7 477.4,85.4 476.1,87.1 474,89 471.8,90.5 469.3,91.6 467.1,92.2 463.9,93.3 461.4,94.6 460.7,96.7 460.9,98.9 462,101 462.4,101.9 464.6,102.9 467.3,102.9 470.1,101.2 472.3,100.6 472.7,99.1 473.8,100.4 474.4,101.2 475.1,102.5 475.5,104 476.6,105.5 477.6,106.8 477.2,108.1 477.8,108.7 480.4,108.7 480.6,107.8 484.1,107.2 485.3,106.1 485.3,104.4 485.8,103.1 485.6,101.9 487.3,101.4 489.2,100.4 490,99.5 489.6,98.4 487.3,97.6 487.1,96.1 487.1,94.6 487.9,93.1 489.4,92.2 491.3,91.4 493.9,90.7 495.8,89.4 496,87.7 497.8,86.9 500.3,86.5 501.8,86.5 503.8,87.3 504.4,88.2 503.8,89 502.5,89.9 499.9,90.7 498,91.8 495.8,92.9 495.8,95 496,96.7 496,97.8 498,98.4 499.7,99.1 501.8,98.6 504.6,98.2 506.8,97.8 509.5,97.8 511.7,97.8 513.4,98.6 514.7,99.1 512.3,99.1 511.3,99.3 510,99.9 506.8,99.7 504.6,99.9 502.5,100.1 500.3,100.6 500.3,101.6 501,102.5 502.3,102.5 502,103.6 502.3,104.6 501.6,105.3 499.9,105.3 498.4,104.2 496.3,104.4 495.2,105.5 495,106.8 495.2,107.8 495.4,109.1 494.1,109.8 492.6,110.8 491.8,111.1 490,110.8 489.8,110.2 487.7,110 485.1,110.6 483,111.3 480.4,111.9 479.1,111.5 476.8,110.8 474.8,111.5 473.3,111.7 473.3,110.8 471.4,110.2 471.4,109.1 472.5,108.3 472.1,107 473.3,106.3 472.1,105.5 472.7,103.8 471.2,104.2 470.1,104.8 468.4,105.1 467.3,106.3 467.6,108.5 468.4,109.8 468.6,111.1 469.3,111.9 467.6,112.8 465.2,112.3 463.1,112.8 460.7,113.2 460.1,114.3 459.4,115.5 458.1,116.8 457.1,117.5 455.4,117.9 453.4,118.3 453.4,119.8 452.1,120.5 450.4,120.9 450.2,121.5 448.3,121.7 447.2,121.1 445.9,120.9 446.6,122.8 444.6,123.2 443.1,122.8 441,123 439.7,123.7 440.6,124.7 442.5,125.2 444.6,126 445.3,126.7 445.9,127.3 447.4,128.4 447.6,129.9 447.4,131.8 446.8,134.2 444.6,134.4 442.3,134.2 440.1,134.4 437.6,133.9 435,133.9 432.9,133.7 430.1,135 430.7,136.1 430.9,137.6 431.2,139.1 430.7,141.2 429.9,142.9 429.7,144.4 431.2,145.1 431.2,146.1 430.9,148.1 433.1,148.1 434.2,147.6 436.3,148.3 436.7,149.3Z" fill="none" stroke="#fff" stroke-width="2.5" mask="url(#miEA)"/>
<path d="M508.9,136.3 510,134.4 511.3,132.7 511.7,131.2 513.6,130.3 514.9,128.8 516,127.7 518.1,127.5 519.6,128.6 522,128.6 519.8,130.1 521.7,131.8 523.2,132.2 525.4,131.4 526.9,130.7 528.2,130.3 526,129.9 525,128.6 528.2,126.9 532,126.5 534,126.2 531.8,127.7 531,128.8 530.3,130.1 529.9,131.2 531.8,132.2 534.6,133.3 536.1,134.4 537.8,135.4 539.1,137.1 539.1,138.4 536.3,139.5 533.5,139.5 530.3,139.5 527.5,138 525.4,137.4 521.7,137.4 519,138.2 516.4,139.3 512.5,139.1 510.4,138.2 510,137.4Z" fill="#fff"/>
<path d="M508.9,136.3 510,134.4 511.3,132.7 511.7,131.2 513.6,130.3 514.9,128.8 516,127.7 518.1,127.5 519.6,128.6 522,128.6 519.8,130.1 521.7,131.8 523.2,132.2 525.4,131.4 526.9,130.7 528.2,130.3 526,129.9 525,128.6 528.2,126.9 532,126.5 534,126.2 531.8,127.7 531,128.8 530.3,130.1 529.9,131.2 531.8,132.2 534.6,133.3 536.1,134.4 537.8,135.4 539.1,137.1 539.1,138.4 536.3,139.5 533.5,139.5 530.3,139.5 527.5,138 525.4,137.4 521.7,137.4 519,138.2 516.4,139.3 512.5,139.1 510.4,138.2 510,137.4Z" fill="none" stroke="#4a4a4a" stroke-width="0.7" mask="url(#mEA)"/>
<path d="M550.7,131.4 551.7,129.7 554.3,128 555.4,127.7 558.2,126.9 560.3,126.7 563.5,127.1 563.9,128.4 563.5,130.3 559.9,130.5 559.7,132 557.7,132.4 559.2,134.8 561.4,136.1 563.1,138.2 563.1,139.9 565.4,140.4 563.5,141.6 565.4,144 565.4,147.2 562.4,148.7 559.2,148.5 557.1,147.4 555.2,146.8 554.5,144.8 554.9,143.4 555.8,141.2 557.7,140.8 556.2,140.1 554.9,138.9 554.1,137.8 551.9,135.4 551.7,134.2Z" fill="#fff"/>
<path d="M550.7,131.4 551.7,129.7 554.3,128 555.4,127.7 558.2,126.9 560.3,126.7 563.5,127.1 563.9,128.4 563.5,130.3 559.9,130.5 559.7,132 557.7,132.4 559.2,134.8 561.4,136.1 563.1,138.2 563.1,139.9 565.4,140.4 563.5,141.6 565.4,144 565.4,147.2 562.4,148.7 559.2,148.5 557.1,147.4 555.2,146.8 554.5,144.8 554.9,143.4 555.8,141.2 557.7,140.8 556.2,140.1 554.9,138.9 554.1,137.8 551.9,135.4 551.7,134.2Z" fill="none" stroke="#4a4a4a" stroke-width="0.7" mask="url(#mEA)"/>
<path d="M603.1,84.7 605.9,85 609.6,82.6 610.6,80.7 608.1,78.5 608.1,75.3 609.6,72.1 607.4,71.5 605.9,73.2 605.3,77.5 606.1,80.7 604.2,82.8Z" fill="#fff" stroke="#4a4a4a" stroke-width="0.7"/>
<path d="M622.4,72.8 626.7,73.6 628.4,76.4 626.7,77.5 624.5,75.3Z" fill="#fff" stroke="#4a4a4a" stroke-width="0.7"/>
<path d="M252.7,127.3 256.2,127.5 259.4,126.9 262.6,127.7 265.8,127.5 268.8,127.7 268.4,126 266.9,124.7 264.5,123.2 260.9,123.2 258.3,124.5 255.1,126.2Z" fill="#fff" stroke="#4a4a4a" stroke-width="0.7"/>
<path d="M262,138.2 263.7,138 265,136.3 265.2,133.9 264.7,131.8 266.9,130.3 268,129.2 264.7,129 263.7,130.1 262.4,131.8 261.7,134.6Z" fill="#fff" stroke="#4a4a4a" stroke-width="0.7"/>
<path d="M268.6,129 271.2,128.6 274.4,128.8 276.5,129.7 278.4,131.2 278.4,132 275.9,131.6 275,132.9 273.5,135 273.3,133.9 272.5,132.9 271.4,132.7 271.6,130.9 270.1,129.7Z" fill="#fff" stroke="#4a4a4a" stroke-width="0.7"/>
<path d="M271.4,138 273.1,137.4 275.7,136.1 278.7,135.7 281,135.4 279.1,136.9 276.5,138 273.3,138.6Z" fill="#fff" stroke="#4a4a4a" stroke-width="0.7"/>
<path d="M279.1,134.6 280.8,133.5 284,133.3 286.8,132.7 286.6,134.2 284,134.6 281.2,134.6Z" fill="#fff" stroke="#4a4a4a" stroke-width="0.7"/>
<path d="M97,110.8 93.4,111.9 89.1,113.4 84.8,114.7 80.6,115.3 76.3,116 72,116.4 67.7,116.6 64.5,116.4M835.5,116 831.2,116 826.9,115.3 820.5,114M761.8,134.4 764.4,133.3 767,131.4 770.2,129.4 773,127.7 775.5,126 778.8,123.9 780.9,122 783.2,119.6 785,118.5" fill="none" stroke="#4a4a4a" stroke-width="1" stroke-dasharray="3 1"/>
<path d="M64.5,88.6 68.8,89 73.1,87.7 76.3,89 80.6,89.4 79.5,87.1 83.8,86.9 85.9,86 86.6,85.8 82.7,84.1 77.3,83.7 74.1,82.4 68.8,80.7 64.5,79.8Z" fill="#0570b0" stroke="#4a4a4a" stroke-width="0.7" stroke-linejoin="round"/>
<path d="M832.3,75.3 835.5,74.5 835.5,75.5Z" fill="#0570b0" stroke="#4a4a4a" stroke-width="0.7" stroke-linejoin="round"/>
<path d="M64.5,74.5 68.8,74.3 69.8,74.9 64.5,75.5Z" fill="#0570b0" stroke="#4a4a4a" stroke-width="0.7" stroke-linejoin="round"/>
<path d="M82.1,90.7 88.1,92 88.7,92.4 82.7,91.8Z" fill="#023858" stroke="#4a4a4a" stroke-width="0.7" stroke-linejoin="round"/>
<path d="M119.1,102.9 123.8,103.1 123.4,104.6 120.6,105.7 118.7,104.6Z" fill="#023858" stroke="#4a4a4a" stroke-width="0.7" stroke-linejoin="round"/>
<path d="M185.7,123.7 183.1,123.2 180.4,121.5 177.4,120 175,118.5 177.4,118.5 181.4,119.6 183.8,121.3Z" fill="#0570b0" stroke="#4a4a4a" stroke-width="0.7" stroke-linejoin="round"/>
<path d="M167.3,111.7 169,115.5 166,114 165.2,111.7Z" fill="#0570b0" stroke="#4a4a4a" stroke-width="0.7" stroke-linejoin="round"/>
<path d="M322.8,125.4 325.8,125.4 330.1,125.6 331.6,126.9 335.2,127.5 337.1,125.6 336.1,124.5 335.4,123 333.7,121.3 331.1,120.7 330.5,116.8 328.4,117.5 326.9,119 325.4,121.3 324.1,123.2Z" fill="#0570b0" stroke="#4a4a4a" stroke-width="0.7" stroke-linejoin="round"/>
<path d="M312.1,127.5 317.2,128 316.1,128.8 312.9,128Z" fill="#0570b0" stroke="#4a4a4a" stroke-width="0.7" stroke-linejoin="round"/>
<path d="M318.3,126.9 320.6,126.9 321.9,128.8 319.4,129.7 318.3,128.8Z" fill="#0570b0" stroke="#4a4a4a" stroke-width="0.7" stroke-linejoin="round"/>
<path d="M311.9,120.5 317.9,122 317.6,122.4 312.9,121.3Z" fill="#0570b0" stroke="#4a4a4a" stroke-width="0.7" stroke-linejoin="round"/>
<path d="M278.7,69.6 286.2,71.5 293.7,73.6 297.9,75.5 304.4,77 306.5,79 307.6,81.7 312.9,82.8 317.2,84.3 314,86 311.9,87.5 309.7,89.2 311.2,91.4 309.7,93.5 306.5,93.7 303.3,92.7 300.1,92 297.9,92.4 295.8,91.2 292.6,89.7 289.4,89.2 286.2,89.9 282.9,89.2 284,87.1 288.3,87.5 291.5,87.1 292.6,85 293.7,82.8 289.4,81.1 286.2,80.7 284,78.5 280.8,77.5 276.5,77.9 270.1,77.5 265.8,76.8 261.5,75.8 258.3,74.3 261.5,72.1 265.8,70.4 270.1,69.8 274.4,69.3Z" fill="#0570b0" stroke="#4a4a4a" stroke-width="0.7" stroke-linejoin="round"/>
<path d="M265.8,86 269,87.1 274.4,88.6 277.6,90.3 276.5,91.4 271.2,94.2 268,92.4 263.7,91.4 265.2,89.2Z" fill="#0570b0" stroke="#4a4a4a" stroke-width="0.7" stroke-linejoin="round"/>
<path d="M272.2,92.9 275.5,94.2 272.7,94.6Z" fill="#0570b0" stroke="#4a4a4a" stroke-width="0.7" stroke-linejoin="round"/>
<path d="M196.2,74.3 198.4,71.9 203.7,71.1 210.1,71.5 218.7,70.6 225.1,71.1 228.3,73.2 231.5,76.4 233.7,78.5 229.4,80 223,79.8 217.6,80.3 210.1,80.5 205.8,79.2 198.4,78.1 195.1,75.3Z" fill="#0570b0" stroke="#4a4a4a" stroke-width="0.7" stroke-linejoin="round"/>
<path d="M182.3,73.2 183.4,70 184.4,68.5 190.9,67.8 198.4,68.3 202.6,70 199.4,72.8 193,74.3 186.6,74.9Z" fill="#0570b0" stroke="#4a4a4a" stroke-width="0.7" stroke-linejoin="round"/>
<path d="M196.2,64.6 201.6,62.9 210.1,63.4 218.7,62.9 224.1,64.8 224.1,66.8 218.7,67.6 210.1,68.3 202.6,68.1 197.7,66.8Z" fill="#0570b0" stroke="#4a4a4a" stroke-width="0.7" stroke-linejoin="round"/>
<path d="M188.7,63.6 195.1,61.4 200.5,61.9 197.3,64Z" fill="#0570b0" stroke="#4a4a4a" stroke-width="0.7" stroke-linejoin="round"/>
<path d="M232.6,63.6 239,62.9 242.3,64.2 242.3,66.3 238,67 232.6,65.9Z" fill="#0570b0" stroke="#4a4a4a" stroke-width="0.7" stroke-linejoin="round"/>
<path d="M230.5,71.9 232.6,70 235.2,69.1 241.2,68.9 244.4,71.1 242.3,73.6 239,74.7 233.7,74Z" fill="#0570b0" stroke="#4a4a4a" stroke-width="0.7" stroke-linejoin="round"/>
<path d="M244.8,69.3 247.6,68.5 255.1,68.7 257.2,70.4 253,72.8 249.1,73.4 246.1,72.1Z" fill="#0570b0" stroke="#4a4a4a" stroke-width="0.7" stroke-linejoin="round"/>
<path d="M236.9,79.6 241.2,77.7 246.1,78.5 244.4,81.1 239,81.1Z" fill="#0570b0" stroke="#4a4a4a" stroke-width="0.7" stroke-linejoin="round"/>
<path d="M278.7,67.8 277.6,65.5 275.5,64 270.1,63.4 259.4,63.4 256.2,64 253,65.1 250.8,66.1 253,67.6 261.5,68.1 270.1,67.8Z" fill="#0570b0" stroke="#4a4a4a" stroke-width="0.7" stroke-linejoin="round"/>
<path d="M243.3,65.5 249.8,64.8 250.8,67.2 244.4,67Z" fill="#0570b0" stroke="#4a4a4a" stroke-width="0.7" stroke-linejoin="round"/>
<path d="M280.8,64 284,61.9 289.4,59.7 293.7,59.1 300.1,57.4 308.6,55.2 315.1,53.5 319.4,51.8 312.9,50.5 302.2,49.9 289.4,49.7 274.4,50.1 265.8,51.8 257.2,52.9 253,53.5 248.7,55 244.4,56.1 246.5,58.2 250.8,59.7 257.2,61.4 259.4,63.1 265.8,63.8 274.4,64.2Z" fill="#0570b0" stroke="#4a4a4a" stroke-width="0.7" stroke-linejoin="round"/>
<path d="M242.3,55 246.5,53.3 255.1,53.9 258.3,56.1 257.2,58.2 253,59.7 248.7,59.3Z" fill="#0570b0" stroke="#4a4a4a" stroke-width="0.7" stroke-linejoin="round"/>
<path d="M223,59.3 229.4,57.6 238,58.2 234.8,59.7 229.4,60.8Z" fill="#0570b0" stroke="#4a4a4a" stroke-width="0.7" stroke-linejoin="round"/>
<path d="M276.5,70.4 280.8,69.3 286.2,70 284,71.5 278.7,71.5Z" fill="#0570b0" stroke="#4a4a4a" stroke-width="0.7" stroke-linejoin="round"/>
<path d="M284,82.2 287.2,81.3 288.9,82.8 286.2,83.5Z" fill="#0570b0" stroke="#4a4a4a" stroke-width="0.7" stroke-linejoin="round"/>
<path d="M227.3,58.4 233.7,58.2 238,59.7 234.8,61.2 229.4,60.6Z" fill="#0570b0" stroke="#4a4a4a" stroke-width="0.7" stroke-linejoin="round"/>
<path d="M241.2,59.1 245.5,59.5 244.4,61.2 241.2,60.6Z" fill="#0570b0" stroke="#4a4a4a" stroke-width="0.7" stroke-linejoin="round"/>
<path d="M210.1,59.3 216.6,58.6 214.4,60.8 209.1,61.2Z" fill="#0570b0" stroke="#4a4a4a" stroke-width="0.7" stroke-linejoin="round"/>
<path d="M116.1,184 118,184.8 118.5,185.5 116.8,186.8 115.9,185.3Z" fill="#023858" stroke="#4a4a4a" stroke-width="0.7" stroke-linejoin="round"/>
<path d="M114.4,182.3 115.9,182.7 115,183.1Z" fill="#023858" stroke="#4a4a4a" stroke-width="0.7" stroke-linejoin="round"/>
<path d="M111,181 112.3,181.6 111.4,181.6Z" fill="#023858" stroke="#4a4a4a" stroke-width="0.7" stroke-linejoin="round"/>
<path d="M107.8,179.7 108.8,179.7 108.4,180.4Z" fill="#023858" stroke="#4a4a4a" stroke-width="0.7" stroke-linejoin="round"/>
<path d="M268.2,180.4 269.5,179.3 271.6,178.2 274.4,177.6 277.6,177.8 280.2,178.9 282.9,179.5 284.9,181 287.2,182.1 289.4,182.9 291.1,184 289.6,184.6 287.9,184.6 283.6,184.6 284.2,183.4 282.5,182.5 281.4,181 279.7,181 277.6,180.1 274.8,179.7 273.3,178.9 270.5,179.7 269.2,180.6Z" fill="#74a9cf" stroke="#4a4a4a" stroke-width="0.7" stroke-linejoin="round"/>
<path d="M290.7,187.6 294.1,184.6 296.9,184.6 300.1,185.1 301.8,186.6 303.5,187.4 302.4,188.3 300.1,188.3 297.1,189.6 296.2,188.7 294.1,188.5 290.7,188.1Z" fill="#74a9cf" stroke="#4a4a4a" stroke-width="0.7" stroke-linejoin="round"/>
<path d="M282.3,187.8 284,187.6 286.6,188.7 285.1,189.3 282.9,188.9Z" fill="#a6bddb" stroke="#4a4a4a" stroke-width="0.7" stroke-linejoin="round"/>
<path d="M306.1,187.6 309.5,187.8 309.3,188.7 306.1,188.7Z" fill="#74a9cf" stroke="#4a4a4a" stroke-width="0.7" stroke-linejoin="round"/>
<path d="M317.4,204.1 319.6,204.1 319.4,205.6 317.4,205.6Z" fill="#a6bddb" stroke="#4a4a4a" stroke-width="0.7" stroke-linejoin="round"/>
<path d="M293.7,59.9 300.1,62.5 304.4,64.2 310.8,64.6 317.2,64.6 323.6,65.1 326.9,66.8 330.1,68.9 331.1,71.1 332.2,73.2 334.3,76.4 338.6,77.5 339.7,79.6 337.6,80.7 335.4,82.8 336.5,85 338.6,87.1 339.7,89.9 341.8,92.4 344,94.6 346.1,96.7 349.3,97.8 353.6,98.9 356.8,99.3 359,97.8 361.1,94.6 363.3,91.4 364.3,89.2 368.6,86.9 374,85.6 379.3,81.7 385.7,80.7 393.2,80 399.7,77.5 402.9,76.4 400.7,74.3 402.9,72.1 404,70 407.2,68.5 409.3,66.8 410.4,64.6 407.2,62.5 410.4,60.4 408.2,58.2 412.5,56.1 423.2,52.9 417.9,51.8 407.2,50.7 396.5,49 381.5,48.4 364.3,48.8 351.5,50.1 338.6,50.7 325.8,51.8 317.2,52.7 311.9,53.9 308.6,55 304.4,56.5 295.8,58.4Z" fill="url(#hatch)" stroke="#4a4a4a" stroke-width="0.7" stroke-linejoin="round"/>
<clipPath id="cGr"><path d="M293.7,59.9 300.1,62.5 304.4,64.2 310.8,64.6 317.2,64.6 323.6,65.1 326.9,66.8 330.1,68.9 331.1,71.1 332.2,73.2 334.3,76.4 338.6,77.5 339.7,79.6 337.6,80.7 335.4,82.8 336.5,85 338.6,87.1 339.7,89.9 341.8,92.4 344,94.6 346.1,96.7 349.3,97.8 353.6,98.9 356.8,99.3 359,97.8 361.1,94.6 363.3,91.4 364.3,89.2 368.6,86.9 374,85.6 379.3,81.7 385.7,80.7 393.2,80 399.7,77.5 402.9,76.4 400.7,74.3 402.9,72.1 404,70 407.2,68.5 409.3,66.8 410.4,64.6 407.2,62.5 410.4,60.4 408.2,58.2 412.5,56.1 423.2,52.9 417.9,51.8 407.2,50.7 396.5,49 381.5,48.4 364.3,48.8 351.5,50.1 338.6,50.7 325.8,51.8 317.2,52.7 311.9,53.9 308.6,55 304.4,56.5 295.8,58.4Z"/></clipPath>
<path clip-path="url(#cGr)" d="M385.7,74.3 428.6,74.3 428.6,98.9 385.7,98.9Z" fill="#fff"/>
<path d="M293.7,59.9 300.1,62.5 304.4,64.2 310.8,64.6 317.2,64.6 323.6,65.1 326.9,66.8 330.1,68.9 331.1,71.1 332.2,73.2 334.3,76.4 338.6,77.5 339.7,79.6 337.6,80.7 335.4,82.8 336.5,85 338.6,87.1 339.7,89.9 341.8,92.4 344,94.6 346.1,96.7 349.3,97.8 353.6,98.9 356.8,99.3 359,97.8 361.1,94.6 363.3,91.4 364.3,89.2 368.6,86.9 374,85.6 379.3,81.7 385.7,80.7 393.2,80 399.7,77.5 402.9,76.4 400.7,74.3 402.9,72.1 404,70 407.2,68.5 409.3,66.8 410.4,64.6 407.2,62.5 410.4,60.4 408.2,58.2 412.5,56.1 423.2,52.9 417.9,51.8 407.2,50.7 396.5,49 381.5,48.4 364.3,48.8 351.5,50.1 338.6,50.7 325.8,51.8 317.2,52.7 311.9,53.9 308.6,55 304.4,56.5 295.8,58.4Z" fill="none" stroke="#4a4a4a" stroke-width="0.7"/>
<line x1="385.7" y1="48.4" x2="385.7" y2="80.7" stroke="#666" stroke-width="0.8"/>
<path d="M398.6,87.1 401.8,85.2 406.1,85.8 410.4,85.6 414.7,85 418.3,85.4 420.9,87.5 418.9,89.4 414.7,90.5 410.4,91.6 406.1,90.9 401.4,90.5 402.9,89.2 398.6,88.4Z" fill="#ece7f2" stroke="#4a4a4a" stroke-width="0.7" stroke-linejoin="round"/>
<path d="M437.8,120 440.4,119.6 442.5,119.4 444.6,119 447.9,118.5 451.1,118.5 453,117.7 451.9,116.6 453.6,115.5 453.6,114.3 450.6,113.8 450.2,112.5 448.9,110.8 447.4,110.2 446.6,108.3 444.4,107.4 444,106.6 445.5,105.1 446.1,104 443.1,103.8 441.4,103.4 443.6,101.9 439.3,101.9 438.6,103.4 437.6,104.6 437.8,105.7 438.2,107 437.1,107.8 438.4,109.1 439.7,109.8 442.7,109.6 443.1,111.3 443.8,112.1 443.4,113.2 440.1,113.2 441,114.3 440.8,115.3 439.1,116.4 441,116.8 443.1,117.3 441,117.7 439.3,118.1Z" fill="#74a9cf" stroke="#4a4a4a" stroke-width="0.7" stroke-linejoin="round"/>
<path d="M436.7,115.5 437.1,113.8 436.7,112.1 438.2,111.1 437.8,110 436.7,109.1 434.4,108.7 432.2,109.1 431.6,110.4 428.6,111.3 429.2,112.8 428.4,113.8 429.7,114.7 427.7,116 428.6,116.8 431.8,116.8 433.9,116Z" fill="#a6bddb" stroke="#4a4a4a" stroke-width="0.7" stroke-linejoin="round"/>
<path d="M468.4,138.6 469.9,138.6 470.6,136.9 470.1,135.2 468.4,136.3Z" fill="#3690c0" stroke="#4a4a4a" stroke-width="0.7" stroke-linejoin="round"/>
<path d="M468,143.8 470.6,143.6 471,140.6 469.7,139.1 467.6,139.7 468,141.6Z" fill="#0570b0" stroke="#4a4a4a" stroke-width="0.7" stroke-linejoin="round"/>
<path d="M476.6,146.3 478.9,147.8 482.3,148.7 482.8,147 483.4,145.3 478.9,145.5 477,145.7Z" fill="#0570b0" stroke="#4a4a4a" stroke-width="0.7" stroke-linejoin="round"/>
<path d="M500.3,151.7 503.1,151.5 506.3,151.7 505.3,152.3 502.5,152.5 500.3,151.9Z" fill="#ffffff" stroke="#4a4a4a" stroke-width="0.7" stroke-linejoin="round"/>
<path d="M519.2,152.1 521.7,151.5 524.1,150.8 522.8,152.3 520.7,153.2 519.4,153Z" fill="#a6bddb" stroke="#4a4a4a" stroke-width="0.7" stroke-linejoin="round"/>
<path d="M455.1,142.5 456.6,141.9 457.3,142.5 456.2,142.9Z" fill="#3690c0" stroke="#4a4a4a" stroke-width="0.7" stroke-linejoin="round"/>
<path d="M473.6,108.7 476.3,108.5 477,107.4 475.3,107.2 473.6,108.1Z" fill="#d0d1e6" stroke="#4a4a4a" stroke-width="0.7" stroke-linejoin="round"/>
<path d="M471,108.9 472.9,108.5 472.5,109.6 471.2,109.6Z" fill="#d0d1e6" stroke="#4a4a4a" stroke-width="0.7" stroke-linejoin="round"/>
<path d="M488.8,104.6 490.5,103.4 490,104.8 489,105.5Z" fill="#a6bddb" stroke="#4a4a4a" stroke-width="0.7" stroke-linejoin="round"/>
<path d="M561.4,74.5 565.7,72.1 569.9,70.4 568.9,68.9 572.1,66.8 575.3,65.5 580.6,64.2 587.1,63.6 595.6,62.5 594.6,64.2 587.1,65.7 581.7,67.2 576.4,68.9 573.1,70.4 571,72.6 569.9,74.5 568.9,76.2 564.6,75.8Z" fill="#0570b0" stroke="#4a4a4a" stroke-width="0.7" stroke-linejoin="round"/>
<path d="M575.3,76.4 579.6,77.5 577.4,78.1 575.3,77.5Z" fill="#0570b0" stroke="#4a4a4a" stroke-width="0.7" stroke-linejoin="round"/>
<path d="M553.9,78.5 556,79.2 554.5,80 553.2,79.4Z" fill="#0570b0" stroke="#4a4a4a" stroke-width="0.7" stroke-linejoin="round"/>
<path d="M550.7,55 561.4,53.9 574.2,54.6 584.9,54.4 578.5,55.7 565.7,56.1 554.9,56.1Z" fill="#0570b0" stroke="#4a4a4a" stroke-width="0.7" stroke-linejoin="round"/>
<path d="M648.1,58.2 654.5,59.3 662,59.9 672.7,58.6 668.5,57.1 664.2,55 657.7,53.9 651.3,54.4 647,55.7Z" fill="#0570b0" stroke="#4a4a4a" stroke-width="0.7" stroke-linejoin="round"/>
<path d="M741.3,68.5 745.6,69.8 750.9,70.2 754.1,68.9 759.5,67.4 767,66.8 772.3,66.1 767,65.1 758.4,64.4 750.9,65.1 745.6,65.7 743.4,66.8Z" fill="#0570b0" stroke="#4a4a4a" stroke-width="0.7" stroke-linejoin="round"/>
<path d="M747.7,64.2 753.1,64.4 749.8,63.1Z" fill="#0570b0" stroke="#4a4a4a" stroke-width="0.7" stroke-linejoin="round"/>
<path d="M752,69.8 757.3,70 755.2,70.8Z" fill="#0570b0" stroke="#4a4a4a" stroke-width="0.7" stroke-linejoin="round"/>
<path d="M754.1,128.8 757.3,127.7 755.8,125.6 756,122.4 756.7,121.3 759,122.4 756.7,118.1 756.9,114.9 756.7,112.8 755.6,111.1 754.8,111.7 754.5,113.8 753.5,116 754.1,119.2 754.3,122.4 753.9,124.5 753.9,127.1Z" fill="#0570b0" stroke="#4a4a4a" stroke-width="0.7" stroke-linejoin="round"/>
<path d="M749.8,138.4 750.9,138.2 752.4,137.8 753.1,136.1 756.7,137.4 758,135.4 761.6,134.6 760.5,133.5 758.4,132.9 755.6,131.6 754.1,130.1 753.3,132 752.8,134.8 750.7,134.6 749.6,136.3 750.3,137.1Z" fill="#0570b0" stroke="#4a4a4a" stroke-width="0.7" stroke-linejoin="round"/>
<path d="M751.8,138.4 753.1,140.6 754.1,142.7 753.1,145.3 752,145.9 751.8,148.3 751.1,151.1 749.8,152.3 749,151.9 747.7,153 746.2,153.2 743.8,153.2 743,153.8 741.3,155.5 739.6,154.9 739.6,153.2 737,153.2 734.8,153.6 732.7,154.5 730.6,154.7 730.6,153.2 733.8,151.3 737,151.1 740.2,151.1 741.3,150.2 743,147.4 744.5,148.1 746.6,147 748.8,145.3 749.8,142.7 749.8,140.1Z" fill="#0570b0" stroke="#4a4a4a" stroke-width="0.7" stroke-linejoin="round"/>
<path d="M733.8,155.5 734.8,154.3 737,153.8 738.5,154.3 737.4,156 734.8,157Z" fill="#0570b0" stroke="#4a4a4a" stroke-width="0.7" stroke-linejoin="round"/>
<path d="M727.8,155.5 729.5,154.5 730.8,154.7 732.3,156.6 731.2,160.2 729.5,160.9 728.8,159.8 728.8,157.7 727.6,157Z" fill="#0570b0" stroke="#4a4a4a" stroke-width="0.7" stroke-linejoin="round"/>
<path d="M711.1,173.3 711.1,174.8 710,178 708.7,180.4 707.4,178.9 707.2,178 707.6,175.9 709.1,173.7Z" fill="#023858" stroke="#4a4a4a" stroke-width="0.7" stroke-linejoin="round"/>
<path d="M682.6,186.1 684.5,184.4 686.7,184.2 687.7,185.3 686.7,187.2 684.5,188.3 682.8,187.6Z" fill="#023858" stroke="#4a4a4a" stroke-width="0.7" stroke-linejoin="round"/>
<path d="M708.3,187.6 709.6,187.4 711.9,187.6 711.7,190.8 710.2,193.4 710.4,195.5 711.3,197.3 713.4,197.7 715.6,199.4 714.5,200.2 712.4,199 710.9,198.1 708.7,197.5 708.3,195.5 707,193 707.9,189.8Z" fill="#0570b0" stroke="#4a4a4a" stroke-width="0.7" stroke-linejoin="round"/>
<path d="M711.3,212.2 712.4,210.5 714.5,208.6 716.6,208.6 718.8,206.9 720.9,210.1 720.9,212.2 719.9,214.4 718.1,214.8 716.6,213.9 715.6,212.7 713.4,211.2Z" fill="#0570b0" stroke="#4a4a4a" stroke-width="0.7" stroke-linejoin="round"/>
<path d="M716.2,200.5 718.8,201.1 719.2,203.7 717.7,205.8 716.6,205.4 716.2,202.6Z" fill="#0570b0" stroke="#4a4a4a" stroke-width="0.7" stroke-linejoin="round"/>
<path d="M711.3,202 713.9,203 714.1,205.8 713.4,207.7 712.4,206.2 711.3,204.5Z" fill="#0570b0" stroke="#4a4a4a" stroke-width="0.7" stroke-linejoin="round"/>
<path d="M714.5,203.2 715.6,204.7 716.6,206.2 715.1,206.7 714.3,205.2Z" fill="#0570b0" stroke="#4a4a4a" stroke-width="0.7" stroke-linejoin="round"/>
<path d="M707.9,198.3 709.8,198.5 710.2,200.5 709.1,200.9 708.1,199.8Z" fill="#0570b0" stroke="#4a4a4a" stroke-width="0.7" stroke-linejoin="round"/>
<path d="M701,209.2 703.8,206.9 706.1,204.5 705.7,202.8 704.2,204.7 701.6,207.5Z" fill="#0570b0" stroke="#4a4a4a" stroke-width="0.7" stroke-linejoin="round"/>
<path d="M621.1,206.2 622.4,206.7 624.1,209 625.4,211.4 624.5,213.9 622.6,214.6 621.3,213.7 620.9,211.2 621.1,209Z" fill="#74a9cf" stroke="#4a4a4a" stroke-width="0.7" stroke-linejoin="round"/>
<path d="M654.1,215.2 656.2,216.1 658.8,216.1 661.4,219.3 663.5,221.2 665.2,222.9 667.4,223.8 669.5,225.1 671.7,228.3 673.6,229.3 673.8,231.1 676.2,232.5 677,234 676.6,236.4 676.6,239.6 674,239.8 672.7,237.9 669.1,235.8 666.3,232.5 665,229.8 663.1,227.6 662,225.5 661,223.3 658.8,221.6 657.7,219.9 655.6,218 654.1,216.5Z" fill="#045a8d" stroke="#4a4a4a" stroke-width="0.7" stroke-linejoin="round"/>
<path d="M675.3,230.6 677,231.1 678.7,233.6 677,233.6 675.9,232.1Z" fill="#045a8d" stroke="#4a4a4a" stroke-width="0.7" stroke-linejoin="round"/>
<path d="M675.3,241.7 677,240 679.2,239.8 681.9,240.7 684.5,241.7 686.7,242 687.7,241.1 690.9,242 692,243.7 695.2,243.7 695,245.8 692,245 687.7,245 685.6,244.5 681.3,243.9 677.9,243 675.9,242.2Z" fill="#045a8d" stroke="#4a4a4a" stroke-width="0.7" stroke-linejoin="round"/>
<path d="M695.2,244.5 697.8,245.2 699.9,245.2 699.5,246.2 696.7,246Z" fill="#045a8d" stroke="#4a4a4a" stroke-width="0.7" stroke-linejoin="round"/>
<path d="M700.2,245.2 702.7,244.5 704.9,245.2 703.8,246 700.6,246.5Z" fill="#045a8d" stroke="#4a4a4a" stroke-width="0.7" stroke-linejoin="round"/>
<path d="M706.6,245.4 709.1,245.2 713,244.7 712.4,246 708.1,246Z" fill="#045a8d" stroke="#4a4a4a" stroke-width="0.7" stroke-linejoin="round"/>
<path d="M704.9,247.7 708.7,247.7 708.1,249 705.9,248.2Z" fill="#045a8d" stroke="#4a4a4a" stroke-width="0.7" stroke-linejoin="round"/>
<path d="M714.5,249.2 716.6,247.1 719.9,245.4 722.6,245.2 719.9,246.9 716.6,248.8Z" fill="#045a8d" stroke="#4a4a4a" stroke-width="0.7" stroke-linejoin="round"/>
<path d="M683.4,224 684.9,222.9 686.7,223.8 688.8,221.9 692,220.4 694.2,217.6 696.3,216.5 698.4,213.9 699.9,212.2 702.1,214.4 703.8,215.4 705.3,216.1 702.7,218 702.1,220.8 703.8,224 704.6,225.1 702.3,225.5 701.6,227.6 701.6,228.9 699.5,232.5 698.4,235.3 695.2,234.7 692,234 688.8,233.6 686,233.4 685.6,230.4 684.1,228.3 683.4,226.1Z" fill="#045a8d" stroke="#4a4a4a" stroke-width="0.7" stroke-linejoin="round"/>
<clipPath id="cBor"><path d="M683.4,224 684.9,222.9 686.7,223.8 688.8,221.9 692,220.4 694.2,217.6 696.3,216.5 698.4,213.9 699.9,212.2 702.1,214.4 703.8,215.4 705.3,216.1 702.7,218 702.1,220.8 703.8,224 704.6,225.1 702.3,225.5 701.6,227.6 701.6,228.9 699.5,232.5 698.4,235.3 695.2,234.7 692,234 688.8,233.6 686,233.4 685.6,230.4 684.1,228.3 683.4,226.1Z"/></clipPath>
<path clip-path="url(#cBor)" d="M684.7,223.1 686.7,225.3 689.4,225.1 691.8,224 694.8,224 695.9,222.5 696.7,220.8 697.4,218.6 698.4,218 701.9,218.2 705.9,216.5 700.6,211.2 692,218.6 684.5,221.9Z" fill="#74a9cf" stroke="#5a5a5a" stroke-width="0.5"/>
<path d="M683.4,224 684.9,222.9 686.7,223.8 688.8,221.9 692,220.4 694.2,217.6 696.3,216.5 698.4,213.9 699.9,212.2 702.1,214.4 703.8,215.4 705.3,216.1 702.7,218 702.1,220.8 703.8,224 704.6,225.1 702.3,225.5 701.6,227.6 701.6,228.9 699.5,232.5 698.4,235.3 695.2,234.7 692,234 688.8,233.6 686,233.4 685.6,230.4 684.1,228.3 683.4,226.1Z" fill="none" stroke="#4a4a4a" stroke-width="0.7"/>
<path d="M705.9,239 707.9,239 707.6,233.6 709.1,232.8 710.2,237.3 712.8,237.5 713.9,236.8 711.9,234 710,231.3 712.4,229.3 714.3,229.1 710.2,229.1 708.7,230.2 707.4,226.6 710.2,226.1 713.4,226.1 716.2,226.3 718.1,224 716.6,225.9 713.4,225.3 708.3,225.5 707,225.9 706.6,229.1 705.5,231.5 705.3,234.7Z" fill="#045a8d" stroke="#4a4a4a" stroke-width="0.7" stroke-linejoin="round"/>
<path d="M723.1,223.3 724.1,222.5 725.2,224 724.1,225.5 725.2,226.6 723.7,228.3 723.1,226.1Z" fill="#045a8d" stroke="#4a4a4a" stroke-width="0.7" stroke-linejoin="round"/>
<path d="M724.1,234 729.5,233.6 730.1,235.3 726.3,234.7Z" fill="#045a8d" stroke="#4a4a4a" stroke-width="0.7" stroke-linejoin="round"/>
<path d="M719.9,234 722.4,234.3 721.6,235.3 719.9,234.9Z" fill="#045a8d" stroke="#4a4a4a" stroke-width="0.7" stroke-linejoin="round"/>
<path d="M730.6,230 733.8,228.1 737,229.1 737.6,233.2 740.2,234.3 742.3,231.9 744.5,230.4 747.7,231.5 752,232.8 752,246.7 747.7,244.5 745.6,245.2 745.1,243 746.6,241.7 745.6,238.5 740.2,236.6 734.8,235.8 732.7,233.2 735.9,231.9 732.7,231.5Z" fill="#045a8d" stroke="#4a4a4a" stroke-width="0.7" stroke-linejoin="round"/>
<path d="M752,232.8 755.2,234 758.4,235.3 761.6,237.5 762.7,239 765.9,240.7 766.5,242.2 767,245 770.2,247.5 773,249.2 770.2,249.7 768,249.2 764.8,247.5 763.8,245.4 760.5,243.9 758.4,243.7 757.3,246.5 755.2,247.1 752,246.7Z" fill="#d0d1e6" stroke="#4a4a4a" stroke-width="0.7" stroke-linejoin="round"/>
<path d="M767.6,239 771.3,237.9 774.5,236.2 776.2,236.8 774.5,239 771.3,240.5 768,240Z" fill="#d0d1e6" stroke="#4a4a4a" stroke-width="0.7" stroke-linejoin="round"/>
<path d="M773,233 775.5,234 777.7,236.8 776.6,236.8 774.5,234.7Z" fill="#d0d1e6" stroke="#4a4a4a" stroke-width="0.7" stroke-linejoin="round"/>
<path d="M819.9,300.8 821.6,302.1 823.7,303.8 824.4,305.9 825.9,306.3 826.9,307.6 829.1,308.5 832.3,307.8 831.2,310 829.1,311 828.7,312.8 826.9,314.9 825.4,316.2 823.9,315.5 824.8,312.8 822.2,311 823.7,309.6 823.7,307.4 823.3,305.3 821.6,303.3 820.5,302.1Z" fill="#74a9cf" stroke="#4a4a4a" stroke-width="0.7" stroke-linejoin="round"/>
<path d="M819.9,313.8 821.6,314.9 823.3,316.4 822.2,318.1 820.5,319.8 820.1,320.9 817.3,321.7 816.2,323.5 815.2,325.4 811.9,326.9 809.4,326.4 806.6,325.6 807.2,324.1 808.7,322.4 810.9,321.3 813,320.2 815.2,319.2 816.7,317.7 817.3,316.6 818.4,314.9Z" fill="#74a9cf" stroke="#4a4a4a" stroke-width="0.7" stroke-linejoin="round"/>
<path d="M829.7,264.6 832.3,264.4 831.9,266.1 830.2,266.1Z" fill="#d0d1e6" stroke="#4a4a4a" stroke-width="0.7" stroke-linejoin="round"/>
<path d="M555.6,252.9 557.5,258.2 558.2,260.4 556.7,262.5 556,264.6 554.9,268.9 553.9,271 552.8,275.3 551.7,279.6 550.7,280.9 547.4,281.7 545.3,281.1 544.2,280.2 543.6,277.5 542.7,274.3 543.8,272.1 544.9,270 544.2,266.8 544.2,264.6 545.3,262.1 549.6,260.8 551.7,258.2 552.8,256.7 554.5,253.9Z" fill="#3690c0" stroke="#4a4a4a" stroke-width="0.7" stroke-linejoin="round"/>
<path d="M564.2,200.2 566.7,200 566.1,200.9 564.6,200.9Z" fill="#74a9cf" stroke="#4a4a4a" stroke-width="0.7" stroke-linejoin="round"/>
<path d="M462,101.2 460.9,98.9 460.7,96.7 461.4,94.6 463.9,93.3 467.1,92.2 469.3,91.6 471.8,90.5 474,89 476.1,87.1 477.4,85.4 478.5,83.7 480.6,82 483.2,80.7 486.4,79.4 489.2,77.9 492.2,77.7 495.2,77.3 498.2,76.4 502.5,75.5 505,75.1 506.8,75.5 510.4,75.3 513.8,77.3" fill="none" stroke="#555" stroke-width="2.2" stroke-linejoin="round" stroke-linecap="round"/>
<path d="M184.9,121.1 182.3,119.6 179.1,118.1 176.5,117 176.1,115.3 174.8,114.3 172.6,112.1 171.2,110 169,107.6 166.2,105.3 162.4,102.5 158.7,102.1 154.9,101.4" fill="none" stroke="#555" stroke-width="2.0" stroke-linejoin="round" stroke-linecap="round"/>
<path d="M291.7,316.6 291.1,318.7 292.4,320.2 290.7,322 290,325.2 288.1,326.9 288.9,329.2 288.1,331.4 288.3,335 288.7,337.6 290.2,340.1 293,342.5 295.2,343.8 297.9,344.8 301.2,345.9 304.4,345.9 307.6,344.8" fill="none" stroke="#555" stroke-width="2.4" stroke-linejoin="round" stroke-linecap="round"/>
<path d="M331.1,71.1 332.2,73.2 334.3,76.4 338.6,77.5 339.7,79.6 337.6,80.7 335.4,82.8 336.5,85 338.6,87.1 339.7,89.9 341.8,92.4 344,94.6 346.1,96.7 349.3,97.8 353.6,98.9 356.8,99.3" fill="none" stroke="#555" stroke-width="1.8" stroke-linejoin="round" stroke-linecap="round"/>
<path d="M364.3,89.2 368.6,86.9 374,85.6 379.3,81.7 385.7,80.7 393.2,80 399.7,77.5 402.9,76.4 400.7,74.3 402.9,72.1 404,70 407.2,68.5 409.3,66.8 410.4,64.6 407.2,62.5 410.4,60.4 408.2,58.2" fill="none" stroke="#555" stroke-width="1.8" stroke-linejoin="round" stroke-linecap="round"/>
<path d="M398.6,87.1 401.8,85.2 406.1,85.8 410.4,85.6" fill="none" stroke="#555" stroke-width="1.8" stroke-linejoin="round" stroke-linecap="round"/>
<path d="M439.3,101.9 438.6,103.4 437.6,104.6 437.8,105.7 438.2,107 437.1,107.8" fill="none" stroke="#555" stroke-width="1.6" stroke-linejoin="round" stroke-linecap="round"/>
<path d="M442.9,101h1.4M443.3,100.6h1.4M446.7,98.2h1.4M446.5,97.6h1.4M435.4,104.2h1.4M434.3,103.6h1.4M435.8,102.7h1.4M433.7,104.8h1.4M436,106.3h1.4M436.4,104.8h1.4M647.8,198.5h1.4M648,200.2h1.4M647.6,202h1.4M647.8,203.7h1.4M649.5,209.7h1.4M650.2,211.8h1.4M648.3,207.5h1.4M689.2,191.9h1.4M688.3,193h1.4M692.4,204.7h1.4M694.1,203.9h1.4M697.3,205.4h1.4M695.2,208.2h1.4M699.5,203.2h1.4M690.7,207.9h1.4M700.5,205.8h1.4M698,211.8h1.4M703.7,211.2h1.4M708.4,214.4h1.4M705.9,216.3h1.4M710.6,198.5h1.4M705.2,202.6h1.4M706.3,204.1h1.4M718.3,218.6h1.4M720.7,219.5h1.4M722.4,228.9h1.4M723.9,232.5h1.4M730.9,239h1.4M737.1,240h1.4M732,239.6h1.4M720.4,243.5h1.4M726.9,244.1h1.4M717,231.1h1.4M715.9,230.4h1.4M735.2,229.1h1.4M740.4,229.3h1.4M729.4,229.1h1.4M680.6,233.2h1.4M677.4,232.3h1.4M680.2,233.4h1.4M675.7,218.9h1.4M680.8,218.6h1.4M721.1,243h1.4M714.4,245h1.4M712.1,238.3h1.4M710.2,242.6h1.4M697.7,246.9h1.4M703.9,233h1.4M707.4,240.5h1.4M696.7,242.2h1.4M694.1,239.2h1.4M718.3,202.6h1.4M713.6,200.9h1.4M711.2,200.9h1.4M708.4,196.2h1.4M715.3,211.4h1.4M706.9,214.6h1.4M712.7,215.9h1.4M307.5,188.7h1.4M317.6,194h1.4M318,197.3h1.4M318.7,199h1.4M317.2,201.3h1.4M310.7,189.1h1.4M293.2,180.6h1.4M291.7,182.1h1.4M295.5,180.8h1.4M287.4,176.9h1.4M290.4,179.1h1.4M113.1,181.9h1.4M106.6,180.4h1.4M833.3,262.5h1.4M753.8,169.2h1.4M806.1,185.9h1.4M81.4,256.7h1.4M74.1,272.5h1.4M129.1,264.8h1.4M568.2,272.3h1.4M572.7,270.4h1.4M568.6,237h1.4M542,252.2h1.4M544,253.3h1.4M606.7,218.2h1.4M606.5,228.5h1.4M605.4,204.5h1.4M395.8,190.8h1.4M398.8,194.9h1.4M412.7,166.9h1.4M415.9,167.3h1.4M419.7,166h1.4M413.1,157.3h1.4M394.7,146.3h1.4M389.3,144.6h1.4M397.9,227.4h1.4" stroke="#444" stroke-width="1.2" stroke-linecap="round"/>
<path d="M193.5 35V419M321.5 35V419M450.5 35V419M578.5 35V419M707.5 35V419M65 98.5H835M65 162.5H835M65 227.5H835M65 291.5H835M65 355.5H835M64.5 35V420M65 34.5H836M65 419.5H836" fill="none" stroke="#bdbdbd" stroke-opacity="0.45" stroke-width="1"/>
<path d="M193.5 35V419M321.5 35V419M450.5 35V419M578.5 35V419M707.5 35V419M65 98.5H835M65 162.5H835M65 227.5H835M65 291.5H835M65 355.5H835M64.5 35V420M65 34.5H836M65 419.5H836" fill="none" stroke="#8a8a8a" stroke-width="1" stroke-dasharray="1 1"/>
<rect x="839.3" y="126.2" width="77.5" height="16.5" fill="url(#hatch2)" stroke="#c4c4c4" stroke-width="1.5"/>
<defs><pattern id="hatch2" patternUnits="userSpaceOnUse" width="8.6" height="8.6" patternTransform="rotate(45)"><rect width="8.6" height="8.6" fill="#fff"/><line x1="1.2" y1="0" x2="1.2" y2="8.6" stroke="#bfbfbf" stroke-width="2.4"/></pattern></defs>
<text x="926.6" y="140.7" class="lgm" textLength="69.6" lengthAdjust="spacingAndGlyphs">No data</text>
<rect x="840.5" y="153.3" width="77.3" height="16.5" fill="#fff7fb" stroke="#c4c4c4" stroke-width="1.5"/>
<text x="926.6" y="168.9" class="lgm" textLength="183.4" lengthAdjust="spacingAndGlyphs">0 m<tspan class="sup" dy="-7.5">3</tspan><tspan dy="7.5"> -100 million m</tspan><tspan class="sup" dy="-7.5">3</tspan></text>
<rect x="840.5" y="181.2" width="77.3" height="16.5" fill="#ece7f2" stroke="#c4c4c4" stroke-width="1.5"/>
<text x="926.6" y="196.8" class="lgm" textLength="276.4" lengthAdjust="spacingAndGlyphs">100 million m<tspan class="sup" dy="-7.5">3</tspan><tspan dy="7.5"> -300 million m</tspan><tspan class="sup" dy="-7.5">3</tspan></text>
<rect x="840.5" y="209" width="77.3" height="16.5" fill="#d0d1e6" stroke="#c4c4c4" stroke-width="1.5"/>
<text x="926.6" y="224.6" class="lgm" textLength="244.6" lengthAdjust="spacingAndGlyphs">300 million m<tspan class="sup" dy="-7.5">3</tspan><tspan dy="7.5"> -1 billion m</tspan><tspan class="sup" dy="-7.5">3</tspan></text>
<rect x="840.5" y="236.9" width="77.3" height="16.5" fill="#a6bddb" stroke="#c4c4c4" stroke-width="1.5"/>
<text x="926.6" y="252.5" class="lgm" textLength="216" lengthAdjust="spacingAndGlyphs">1 billion m<tspan class="sup" dy="-7.5">3</tspan><tspan dy="7.5"> -3 billion m</tspan><tspan class="sup" dy="-7.5">3</tspan></text>
<rect x="840.5" y="264.8" width="77.3" height="16.5" fill="#74a9cf" stroke="#c4c4c4" stroke-width="1.5"/>
<text x="926.6" y="280.4" class="lgm" textLength="226.4" lengthAdjust="spacingAndGlyphs">3 billion m<tspan class="sup" dy="-7.5">3</tspan><tspan dy="7.5"> -10 billion m</tspan><tspan class="sup" dy="-7.5">3</tspan></text>
<rect x="840.5" y="292.6" width="77.3" height="16.5" fill="#3690c0" stroke="#c4c4c4" stroke-width="1.5"/>
<text x="926.6" y="308.2" class="lgm" textLength="238.3" lengthAdjust="spacingAndGlyphs">10 billion m<tspan class="sup" dy="-7.5">3</tspan><tspan dy="7.5"> -30 billion m</tspan><tspan class="sup" dy="-7.5">3</tspan></text>
<rect x="840.5" y="320.5" width="77.3" height="16.5" fill="#0570b0" stroke="#c4c4c4" stroke-width="1.5"/>
<text x="926.6" y="336.1" class="lgm" textLength="249.9" lengthAdjust="spacingAndGlyphs">30 billion m<tspan class="sup" dy="-7.5">3</tspan><tspan dy="7.5"> -100 billion m</tspan><tspan class="sup" dy="-7.5">3</tspan></text>
<rect x="840.5" y="348.4" width="77.3" height="16.5" fill="#045a8d" stroke="#c4c4c4" stroke-width="1.5"/>
<text x="926.6" y="364" class="lgm" textLength="261.5" lengthAdjust="spacingAndGlyphs">100 billion m<tspan class="sup" dy="-7.5">3</tspan><tspan dy="7.5"> -300 billion m</tspan><tspan class="sup" dy="-7.5">3</tspan></text>
<rect x="840.5" y="376.3" width="77.3" height="16.5" fill="#023858" stroke="#c4c4c4" stroke-width="1.5"/>
<text x="926.6" y="391.9" class="lgm" textLength="242.1" lengthAdjust="spacingAndGlyphs">300 billion m<tspan class="sup" dy="-7.5">3</tspan><tspan dy="7.5"> -1 trillion m</tspan><tspan class="sup" dy="-7.5">3</tspan></text>
<text x="39.5" y="466.7" class="pl">b</text>
<rect x="63.5" y="473.5" width="304.2" height="29.3" fill="#dce6f1" stroke="#555" stroke-width="1"/>
<text x="215.6" y="492.5" class="st" text-anchor="middle" textLength="31.3" lengthAdjust="spacingAndGlyphs">India</text>
<path d="M63.5 502.8V645.3H367.7" fill="none" stroke="#444" stroke-width="1"/>
<text x="70.5" y="662.9" class="tl" text-anchor="middle" textLength="31.3" lengthAdjust="spacingAndGlyphs">1980</text>
<text x="141.12" y="662.9" class="tl" text-anchor="middle" textLength="31.3" lengthAdjust="spacingAndGlyphs">1990</text>
<text x="211.75" y="662.9" class="tl" text-anchor="middle" textLength="31.3" lengthAdjust="spacingAndGlyphs">2000</text>
<text x="282.38" y="662.9" class="tl" text-anchor="middle" textLength="31.3" lengthAdjust="spacingAndGlyphs">2010</text>
<text x="353" y="662.9" class="tl" text-anchor="middle" textLength="31.3" lengthAdjust="spacingAndGlyphs">2020</text>
<text x="60" y="639" class="tl" text-anchor="end">0</text>
<text x="60" y="598.13" class="tl" text-anchor="end">200</text>
<text x="60" y="557.27" class="tl" text-anchor="end">400</text>
<text x="60" y="516.4" class="tl" text-anchor="end">600</text>
<path d="M70.5 645.3v-4M141.12 645.3v-4M211.75 645.3v-4M282.38 645.3v-4M353 645.3v-4M63.5 633.8h4M63.5 592.93h4M63.5 552.07h4M63.5 511.2h4" stroke="#555" stroke-width="1"/>
<polyline points="70.5,633.8 105.81,631.35 141.12,630.53 211.75,626.04 282.38,620.11 289.44,619.29 317.69,620.11 353,619.7 360.06,620.11" fill="none" stroke="#b3b3b3" stroke-width="1.2" stroke-dasharray="4,3"/>
<polyline points="70.5,633.8 105.81,638.09 141.12,629.71 211.75,638.09 282.38,626.65 296.5,624.6 317.69,622.97 353,620.11 360.06,618.27" fill="none" stroke="#b3b3b3" stroke-width="1.2"/>
<polyline points="70.5,633.8 84.62,632.25 105.81,629.71 141.12,617.45 211.75,592.93 282.38,572.91 289.44,569.84 296.5,566.17 303.56,561.47 310.62,554.72 317.69,547.78 324.75,538.38 331.81,534.09 338.88,525.09 345.94,518.96 353,513.45 360.06,511" fill="none" stroke="#2468a8" stroke-width="2" stroke-linejoin="round"/>
<text transform="translate(26.3 574.05) rotate(-90)" class="yl" text-anchor="middle" textLength="155.4" lengthAdjust="spacingAndGlyphs">Percentage increase (%)</text>
<text x="380.7" y="466.7" class="pl">c</text>
<rect x="410.7" y="473.5" width="312.6" height="29.3" fill="#dce6f1" stroke="#555" stroke-width="1"/>
<text x="567" y="492.5" class="st" text-anchor="middle" textLength="37" lengthAdjust="spacingAndGlyphs">China</text>
<path d="M410.7 502.8V645.3H723.3" fill="none" stroke="#444" stroke-width="1"/>
<text x="417.9" y="662.9" class="tl" text-anchor="middle" textLength="31.3" lengthAdjust="spacingAndGlyphs">1980</text>
<text x="490.73" y="662.9" class="tl" text-anchor="middle" textLength="31.3" lengthAdjust="spacingAndGlyphs">1990</text>
<text x="563.55" y="662.9" class="tl" text-anchor="middle" textLength="31.3" lengthAdjust="spacingAndGlyphs">2000</text>
<text x="636.38" y="662.9" class="tl" text-anchor="middle" textLength="31.3" lengthAdjust="spacingAndGlyphs">2010</text>
<text x="709.2" y="662.9" class="tl" text-anchor="middle" textLength="31.3" lengthAdjust="spacingAndGlyphs">2020</text>
<text x="407.2" y="641.2" class="tl" text-anchor="end">0</text>
<text x="407.2" y="609.95" class="tl" text-anchor="end">500</text>
<text x="407.2" y="578.7" class="tl" text-anchor="end">1000</text>
<text x="407.2" y="547.45" class="tl" text-anchor="end">1500</text>
<text x="407.2" y="516.2" class="tl" text-anchor="end">2000</text>
<path d="M417.9 645.3v-4M490.73 645.3v-4M563.55 645.3v-4M636.38 645.3v-4M709.2 645.3v-4M410.7 636h4M410.7 604.75h4M410.7 573.5h4M410.7 542.25h4M410.7 511h4" stroke="#555" stroke-width="1"/>
<polyline points="417.9,636 447.03,637.56 490.73,635.75 563.55,636.5 636.38,636.5 716.48,636.75" fill="none" stroke="#b3b3b3" stroke-width="1.2" stroke-dasharray="4,3"/>
<polyline points="417.9,636 447.03,638.12 490.73,635.5 512.57,629.69 563.55,627.06 614.53,623.12 629.09,623.38 643.66,622.38 672.79,623.94 701.92,625.5 709.2,628.38 716.48,628.38" fill="none" stroke="#b3b3b3" stroke-width="1.2"/>
<polyline points="417.9,636 447.03,615.75 490.73,610 512.57,619.19 563.55,589.25 643.66,569.56 650.94,575.06 665.51,571.38 672.79,569.31 680.07,553.56 687.35,549.88 701.92,539.38 709.2,534.12 716.48,534.12" fill="none" stroke="#2468a8" stroke-width="2" stroke-linejoin="round"/>
<text x="730" y="466.7" class="pl">d</text>
<rect x="755" y="473.5" width="325" height="29.3" fill="#dce6f1" stroke="#555" stroke-width="1"/>
<text x="917.5" y="492.5" class="st" text-anchor="middle" textLength="89.7" lengthAdjust="spacingAndGlyphs">United States</text>
<path d="M755 502.8V645.3H1080" fill="none" stroke="#444" stroke-width="1"/>
<text x="762.3" y="662.9" class="tl" text-anchor="middle" textLength="31.3" lengthAdjust="spacingAndGlyphs">1990</text>
<text x="812.33" y="662.9" class="tl" text-anchor="middle" textLength="31.3" lengthAdjust="spacingAndGlyphs">1995</text>
<text x="862.37" y="662.9" class="tl" text-anchor="middle" textLength="31.3" lengthAdjust="spacingAndGlyphs">2000</text>
<text x="912.4" y="662.9" class="tl" text-anchor="middle" textLength="31.3" lengthAdjust="spacingAndGlyphs">2005</text>
<text x="962.43" y="662.9" class="tl" text-anchor="middle" textLength="31.3" lengthAdjust="spacingAndGlyphs">2010</text>
<text x="1012.47" y="662.9" class="tl" text-anchor="middle" textLength="31.3" lengthAdjust="spacingAndGlyphs">2015</text>
<text x="1062.5" y="662.9" class="tl" text-anchor="middle" textLength="31.3" lengthAdjust="spacingAndGlyphs">2020</text>
<text x="751.5" y="640.2" class="tl" text-anchor="end">-30</text>
<text x="751.5" y="609.2" class="tl" text-anchor="end">-20</text>
<text x="751.5" y="578.2" class="tl" text-anchor="end">-10</text>
<text x="751.5" y="547.2" class="tl" text-anchor="end">0</text>
<text x="751.5" y="516.2" class="tl" text-anchor="end">10</text>
<path d="M762.3 645.3v-4M812.33 645.3v-4M862.37 645.3v-4M912.4 645.3v-4M962.43 645.3v-4M1012.47 645.3v-4M1062.5 645.3v-4M755 635h4M755 604h4M755 573h4M755 542h4M755 511h4" stroke="#555" stroke-width="1"/>
<polyline points="762.3,542 862.37,538.9 912.4,546.65 962.43,573 1012.47,571.45 1072.51,571.45" fill="none" stroke="#b3b3b3" stroke-width="1.2" stroke-dasharray="4,3"/>
<polyline points="762.3,542 862.37,546.65 912.4,540.45 962.43,599.35 1012.47,638.1 1072.51,638.1" fill="none" stroke="#b3b3b3" stroke-width="1.2"/>
<polyline points="762.3,542 862.37,524.95 912.4,517.2 962.43,534.25 1012.47,553.78 1072.51,553.78" fill="none" stroke="#2468a8" stroke-width="2" stroke-linejoin="round"/>
<text x="35" y="685" class="pl">e</text>
<rect x="60.3" y="691.7" width="307.4" height="29" fill="#dce6f1" stroke="#555" stroke-width="1"/>
<text x="214" y="710.7" class="st" text-anchor="middle" textLength="109.3" lengthAdjust="spacingAndGlyphs">European Union</text>
<path d="M60.3 720.7V862.3H367.7" fill="none" stroke="#444" stroke-width="1"/>
<text x="67.2" y="879.9" class="tl" text-anchor="middle" textLength="31.3" lengthAdjust="spacingAndGlyphs">2000</text>
<text x="136.95" y="879.9" class="tl" text-anchor="middle" textLength="31.3" lengthAdjust="spacingAndGlyphs">2005</text>
<text x="206.7" y="879.9" class="tl" text-anchor="middle" textLength="31.3" lengthAdjust="spacingAndGlyphs">2010</text>
<text x="276.45" y="879.9" class="tl" text-anchor="middle" textLength="31.3" lengthAdjust="spacingAndGlyphs">2015</text>
<text x="346.2" y="879.9" class="tl" text-anchor="middle" textLength="31.3" lengthAdjust="spacingAndGlyphs">2020</text>
<text x="56.8" y="860.3" class="tl" text-anchor="end">-40</text>
<text x="56.8" y="828.6" class="tl" text-anchor="end">-30</text>
<text x="56.8" y="796.9" class="tl" text-anchor="end">-20</text>
<text x="56.8" y="765.2" class="tl" text-anchor="end">-10</text>
<text x="56.8" y="733.5" class="tl" text-anchor="end">0</text>
<path d="M67.2 862.3v-4M136.95 862.3v-4M206.7 862.3v-4M276.45 862.3v-4M346.2 862.3v-4M60.3 855.1h4M60.3 823.4h4M60.3 791.7h4M60.3 760h4M60.3 728.3h4" stroke="#555" stroke-width="1"/>
<polyline points="67.2,728.3 81.15,736.86 95.1,748.27 109.05,745.74 123,757.46 136.95,761.27 150.9,770.3 164.85,778.07 178.8,779.34 192.75,772.36 206.7,774.58 220.65,773 234.6,762.54 248.55,779.97 262.5,759.21 276.45,765.07 290.4,766.34 304.35,761.27 318.3,760.63 332.25,759.37 346.2,760.63 360.15,760.63" fill="none" stroke="#b3b3b3" stroke-width="1.2" stroke-dasharray="4,3"/>
<polyline points="67.2,728.3 81.15,736.86 95.1,736.86 109.05,742.72 123,748.27 136.95,753.66 150.9,762.06 164.85,769.03 178.8,773 192.75,776.8 206.7,779.97 220.65,785.04 234.6,790.91 248.55,802.48 262.5,809.77 276.45,825.3 290.4,828.15 304.35,831.64 318.3,832.91 332.25,837.35 346.2,843.37 360.15,842.42" fill="none" stroke="#b3b3b3" stroke-width="1.2"/>
<polyline points="67.2,728.3 81.15,729.09 95.1,731.63 109.05,734.96 123,738.13 136.95,740.03 150.9,742.72 164.85,743.83 178.8,743.2 192.75,744.78 206.7,745.74 220.65,750.49 234.6,751.12 248.55,754.61 262.5,737.49 276.45,738.76 290.4,730.36 304.35,730.84 318.3,732.1 332.25,731.15 346.2,730.61 360.15,729.25" fill="none" stroke="#2468a8" stroke-width="2" stroke-linejoin="round"/>
<text transform="translate(26.3 791.5) rotate(-90)" class="yl" text-anchor="middle" textLength="155.4" lengthAdjust="spacingAndGlyphs">Percentage increase (%)</text>
<text x="378" y="684" class="pl">f</text>
<rect x="393.3" y="691.7" width="330" height="29" fill="#dce6f1" stroke="#555" stroke-width="1"/>
<text x="558.3" y="710.7" class="st" text-anchor="middle" textLength="27.7" lengthAdjust="spacingAndGlyphs">Asia</text>
<path d="M393.3 720.7V862.3H723.3" fill="none" stroke="#444" stroke-width="1"/>
<text x="401" y="879.9" class="tl" text-anchor="middle" textLength="31.3" lengthAdjust="spacingAndGlyphs">2000</text>
<text x="476" y="879.9" class="tl" text-anchor="middle" textLength="31.3" lengthAdjust="spacingAndGlyphs">2005</text>
<text x="551" y="879.9" class="tl" text-anchor="middle" textLength="31.3" lengthAdjust="spacingAndGlyphs">2010</text>
<text x="626" y="879.9" class="tl" text-anchor="middle" textLength="31.3" lengthAdjust="spacingAndGlyphs">2015</text>
<text x="701" y="879.9" class="tl" text-anchor="middle" textLength="31.3" lengthAdjust="spacingAndGlyphs">2020</text>
<text x="389.8" y="856.9" class="tl" text-anchor="end">0</text>
<text x="389.8" y="815.77" class="tl" text-anchor="end">20</text>
<text x="389.8" y="774.63" class="tl" text-anchor="end">40</text>
<text x="389.8" y="733.5" class="tl" text-anchor="end">60</text>
<path d="M401 862.3v-4M476 862.3v-4M551 862.3v-4M626 862.3v-4M701 862.3v-4M393.3 851.7h4M393.3 810.57h4M393.3 769.43h4M393.3 728.3h4" stroke="#555" stroke-width="1"/>
<polyline points="401,851.7 416,849.44 431,846.76 446,844.3 461,841.62 476,839.36 491,829.28 506,821.06 521,814.27 536,811.6 551,809.33 566,807.69 581,805.63 596,804.4 611,803.99 626,803.37 641,803.37 656,802.96 671,804.4 686,804.4 701,806.04 716,808.72" fill="none" stroke="#b3b3b3" stroke-width="1.2" stroke-dasharray="4,3"/>
<polyline points="401,851.7 416,844.3 431,836.69 446,827.64 461,822.29 476,814.27 491,807.69 506,802.75 521,804.4 536,806.66 551,801.72 566,801.72 581,806.66 596,810.98 611,816.74 626,822.29 641,825.79 656,818.59 671,822.7 686,835.04 701,855.61 716,852.93" fill="none" stroke="#b3b3b3" stroke-width="1.2"/>
<polyline points="401,851.7 416,848.41 431,841.01 446,836.07 461,831.13 476,826.61 491,821.26 506,815.91 521,811.6 536,808.3 551,802.75 566,800.08 581,805.01 596,802.34 611,800.08 626,794.73 641,773.75 656,771.08 671,761.62 686,748.66 701,740.02 716,741.67" fill="none" stroke="#2468a8" stroke-width="2" stroke-linejoin="round"/>
<text x="730" y="684" class="pl">g</text>
<rect x="755" y="691.7" width="325" height="29" fill="#dce6f1" stroke="#555" stroke-width="1"/>
<text x="917.5" y="710.7" class="st" text-anchor="middle" textLength="41" lengthAdjust="spacingAndGlyphs">World</text>
<path d="M755 720.7V862.3H1080" fill="none" stroke="#444" stroke-width="1"/>
<text x="762.3" y="879.9" class="tl" text-anchor="middle" textLength="31.3" lengthAdjust="spacingAndGlyphs">2000</text>
<text x="836.3" y="879.9" class="tl" text-anchor="middle" textLength="31.3" lengthAdjust="spacingAndGlyphs">2005</text>
<text x="910.3" y="879.9" class="tl" text-anchor="middle" textLength="31.3" lengthAdjust="spacingAndGlyphs">2010</text>
<text x="984.3" y="879.9" class="tl" text-anchor="middle" textLength="31.3" lengthAdjust="spacingAndGlyphs">2015</text>
<text x="1058.3" y="879.9" class="tl" text-anchor="middle" textLength="31.3" lengthAdjust="spacingAndGlyphs">2020</text>
<text x="751.5" y="861" class="tl" text-anchor="end">-20</text>
<text x="751.5" y="818.5" class="tl" text-anchor="end">0</text>
<text x="751.5" y="776" class="tl" text-anchor="end">20</text>
<text x="751.5" y="733.5" class="tl" text-anchor="end">40</text>
<path d="M762.3 862.3v-4M836.3 862.3v-4M910.3 862.3v-4M984.3 862.3v-4M1058.3 862.3v-4M755 855.8h4M755 813.3h4M755 770.8h4M755 728.3h4" stroke="#555" stroke-width="1"/>
<polyline points="762.3,813.3 777.1,811.6 791.9,809.26 806.7,807.35 821.5,805.33 836.3,801.61 851.1,791.62 865.9,785.67 880.7,779.51 895.5,776.54 910.3,774.41 925.1,773.46 939.9,771.22 954.7,769.74 969.5,768.46 984.3,767.4 999.1,766.55 1013.9,765.91 1028.7,766.76 1043.5,766.12 1058.3,767.4 1073.1,769.1" fill="none" stroke="#b3b3b3" stroke-width="1.2" stroke-dasharray="4,3"/>
<polyline points="762.3,813.3 777.1,810.64 791.9,807.56 806.7,805.33 821.5,803.95 836.3,802.04 851.1,803.95 865.9,806.71 880.7,810.64 895.5,815 910.3,817.34 925.1,820.52 939.9,825.2 954.7,830.3 969.5,835.61 984.3,841.77 999.1,843.26 1013.9,842.2 1028.7,843.9 1043.5,848.57 1058.3,854.74 1073.1,853.89" fill="none" stroke="#b3b3b3" stroke-width="1.2"/>
<polyline points="762.3,813.3 777.1,801.61 791.9,796.72 806.7,793.32 821.5,790.14 836.3,786.74 851.1,783.76 865.9,780.79 880.7,778.02 895.5,776.11 910.3,774.2 925.1,773.77 939.9,776.11 954.7,775.05 969.5,772.5 984.3,769.52 999.1,758.26 1013.9,756.56 1028.7,753.59 1043.5,746.57 1058.3,741.9 1073.1,742.54" fill="none" stroke="#2468a8" stroke-width="2" stroke-linejoin="round"/>
<line x1="329" y1="908.3" x2="364.3" y2="908.3" stroke="#2468a8" stroke-width="2"/>
<text x="375.7" y="914.7" class="lg" textLength="82.3" lengthAdjust="spacingAndGlyphs">Household</text>
<line x1="487.5" y1="908.3" x2="521" y2="908.3" stroke="#b3b3b3" stroke-width="1.2" stroke-dasharray="4,3"/>
<text x="533.3" y="914.7" class="lg" textLength="85.4" lengthAdjust="spacingAndGlyphs">Agriculture</text>
<line x1="649" y1="908.3" x2="683.3" y2="908.3" stroke="#b3b3b3" stroke-width="1.2"/>
<text x="695" y="914.7" class="lg" textLength="63.3" lengthAdjust="spacingAndGlyphs">Industry</text>
</svg>
</body></html>
